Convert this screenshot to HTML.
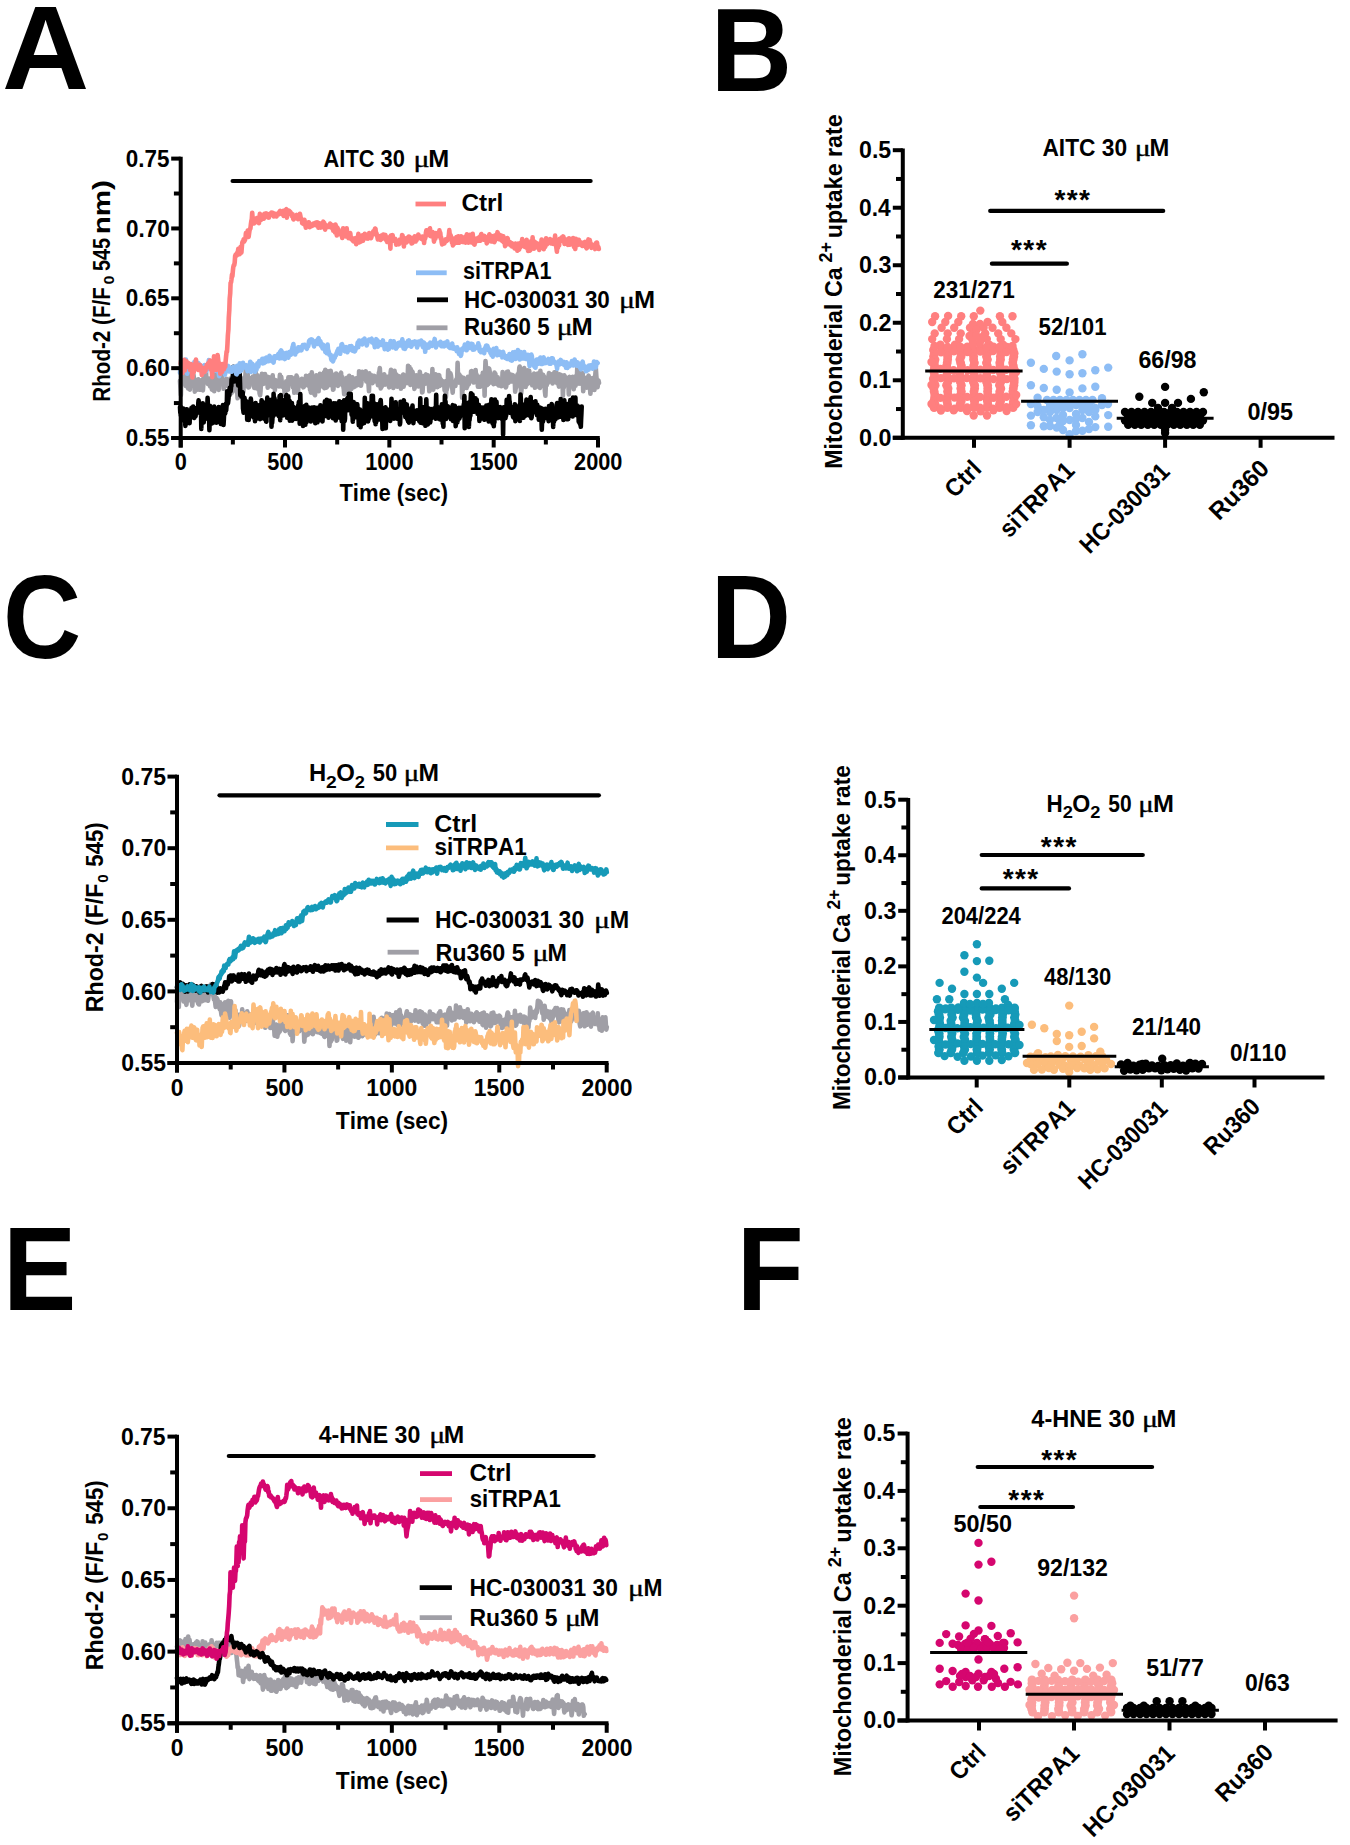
<!DOCTYPE html>
<html><head><meta charset="utf-8"><title>Mitochondrial Ca2+ uptake figure</title>
<style>html,body{margin:0;padding:0;background:#fff;overflow:hidden;} svg{display:block;} text{font-kerning:none;}</style>
</head><body>
<svg width="1350" height="1845" viewBox="0 0 1350 1845">
<rect width="1350" height="1845" fill="#fff"/>
<g font-family="Liberation Sans, sans-serif" font-weight="bold" fill="#000">
<text x="1.99" y="89" font-size="119" textLength="87.19" lengthAdjust="spacingAndGlyphs">A</text>
<text x="710.43" y="91" font-size="119" textLength="81.71" lengthAdjust="spacingAndGlyphs">B</text>
<text x="2.96" y="657.5" font-size="119" textLength="78.2" lengthAdjust="spacingAndGlyphs">C</text>
<text x="710.54" y="657.5" font-size="119" textLength="80.54" lengthAdjust="spacingAndGlyphs">D</text>
<text x="3.04" y="1309.6" font-size="119" textLength="73.35" lengthAdjust="spacingAndGlyphs">E</text>
<text x="736.67" y="1309.8" font-size="119" textLength="66.94" lengthAdjust="spacingAndGlyphs">F</text>
<polyline points="180.0,380.8 180.4,387.0 180.9,395.2 181.3,375.7 181.8,378.5 182.2,379.7 182.7,378.9 183.1,375.1 183.6,379.1 184.0,382.0 184.5,376.0 184.9,372.2 185.4,383.1 185.8,386.0 186.3,381.5 186.7,375.8 187.2,377.4 187.6,385.3 188.1,388.5 188.5,385.9 189.0,374.8 189.4,383.1 189.9,389.6 190.3,378.1 190.8,378.9 191.2,385.4 191.7,379.8 192.1,381.2 192.6,379.1 193.0,380.9 193.5,374.7 193.9,378.1 194.4,383.4 194.8,391.6 195.3,384.6 195.7,379.8 196.2,389.0 196.6,384.0 197.1,389.7 197.5,380.7 198.0,379.4 198.4,379.3 198.9,386.4 199.3,389.8 199.8,385.8 200.2,389.7 200.7,388.7 201.1,380.2 201.6,381.8 202.0,380.2 202.5,386.1 202.9,390.4 203.4,383.6 203.8,372.5 204.3,380.5 204.7,377.6 205.2,381.2 205.6,375.1 206.1,372.6 206.5,380.9 207.0,378.6 207.4,380.6 207.9,383.9 208.3,380.1 208.8,381.6 209.2,378.5 209.7,384.8 210.1,386.4 210.6,382.4 211.0,381.6 211.5,384.7 211.9,389.6 212.4,381.1 212.8,371.1 213.3,378.3 213.7,381.0 214.2,391.2 214.6,386.0 215.1,375.6 215.5,371.9 216.0,378.8 216.4,383.8 216.9,384.9 217.3,373.7 217.8,373.6 218.2,384.2 218.7,389.9 219.1,376.7 219.6,377.1 220.0,375.7 220.5,374.5 220.9,373.0 221.4,374.6 221.8,377.3 222.3,380.8 222.7,383.6 223.2,381.4 223.6,388.8 224.1,386.9 224.5,382.7 225.0,386.1 225.4,379.5 225.9,383.3 226.3,378.7 226.8,385.0 227.2,385.9 227.7,382.1 228.1,385.7 228.6,383.7 229.0,382.9 229.5,390.4 229.9,391.6 230.4,378.5 230.8,393.7 231.3,386.8 231.7,392.8 232.2,382.7 232.6,382.6 233.1,383.0 233.5,386.0 234.0,381.1 234.4,379.3 234.9,378.6 235.3,383.7 235.8,379.0 236.2,391.4 236.7,386.1 237.1,389.5 237.6,398.3 238.0,394.1 238.5,384.7 238.9,379.2 239.4,370.5 239.8,377.1 240.3,386.9 240.7,388.0 241.2,388.9 241.6,381.4 242.1,386.0 242.5,389.9 243.0,392.9 243.4,391.4 243.9,378.6 244.3,377.5 244.8,386.5 245.2,378.7 245.7,370.9 246.1,366.2 246.6,385.7 247.0,372.4 247.5,371.5 247.9,375.6 248.4,387.5 248.8,387.3 249.3,386.1 249.7,378.8 250.2,378.1 250.6,379.9 251.1,381.5 251.5,381.4 252.0,381.2 252.4,380.2 252.9,376.5 253.3,383.1 253.8,383.4 254.2,387.9 254.7,383.6 255.1,384.2 255.6,371.2 256.0,381.4 256.5,381.0 256.9,388.4 257.4,375.4 257.8,378.4 258.3,379.1 258.7,389.8 259.2,387.1 259.6,393.3 260.1,395.2 260.5,391.4 261.0,381.6 261.4,380.9 261.9,373.8 262.3,380.2 262.8,375.9 263.2,384.0 263.7,379.8 264.1,380.6 264.6,378.8 265.0,374.0 265.5,378.4 265.9,383.2 266.4,378.3 266.8,377.4 267.3,376.7 267.7,387.7 268.2,381.7 268.6,381.9 269.1,377.2 269.5,382.8 270.0,385.9 270.4,379.3 270.9,383.5 271.3,383.1 271.8,380.3 272.2,386.6 272.7,375.3 273.1,387.2 273.6,386.8 274.0,384.8 274.5,385.1 274.9,390.1 275.4,380.1 275.8,381.4 276.3,384.5 276.7,382.6 277.2,385.8 277.6,384.8 278.1,381.5 278.5,380.6 279.0,386.5 279.4,383.7 279.9,374.9 280.3,384.3 280.8,376.8 281.2,376.8 281.7,381.5 282.1,386.8 282.6,383.9 283.0,384.8 283.5,385.4 283.9,384.2 284.4,390.2 284.8,395.1 285.3,389.9 285.7,390.9 286.2,381.2 286.6,385.2 287.1,384.9 287.5,383.6 288.0,389.6 288.4,377.2 288.9,379.6 289.3,380.9 289.8,377.4 290.2,383.0 290.7,378.2 291.1,381.7 291.6,377.4 292.0,378.9 292.5,382.2 292.9,387.4 293.4,384.4 293.8,383.2 294.3,392.8 294.7,383.7 295.2,385.3 295.6,377.7 296.1,382.7 296.5,375.6 297.0,377.4 297.4,377.7 297.9,392.8 298.3,388.1 298.8,383.7 299.2,382.3 299.7,380.7 300.1,380.6 300.6,381.2 301.0,381.7 301.5,381.4 301.9,378.8 302.4,386.1 302.8,386.4 303.3,387.3 303.7,387.0 304.2,379.3 304.6,382.6 305.1,379.0 305.5,382.4 306.0,375.8 306.4,383.6 306.9,383.4 307.3,383.3 307.8,385.5 308.2,381.0 308.7,379.3 309.1,376.2 309.6,375.4 310.0,389.8 310.5,386.1 310.9,392.7 311.4,386.5 311.8,372.4 312.3,382.3 312.7,377.4 313.2,378.6 313.6,384.5 314.1,385.0 314.5,394.3 315.0,395.2 315.4,390.6 315.9,388.2 316.3,375.4 316.8,380.6 317.2,376.1 317.7,379.5 318.1,386.4 318.6,391.3 319.0,379.1 319.5,378.6 319.9,373.9 320.4,377.8 320.8,376.4 321.3,380.5 321.7,378.4 322.2,378.2 322.6,378.6 323.1,386.9 323.5,381.0 324.0,372.4 324.4,388.2 324.9,384.2 325.3,369.9 325.8,381.7 326.2,385.1 326.7,387.6 327.1,383.8 327.6,384.5 328.0,371.4 328.5,377.3 328.9,373.6 329.4,378.8 329.8,385.2 330.3,378.2 330.7,370.8 331.2,374.5 331.6,381.4 332.1,381.7 332.5,379.3 333.0,389.7 333.4,389.5 333.9,384.0 334.3,383.2 334.8,385.1 335.2,374.4 335.7,378.0 336.1,373.5 336.6,379.1 337.0,378.3 337.5,381.5 337.9,385.9 338.4,377.6 338.8,379.8 339.3,383.4 339.7,383.3 340.2,379.7 340.6,373.5 341.1,372.8 341.5,384.4 342.0,380.9 342.4,377.0 342.9,385.6 343.3,385.8 343.8,389.3 344.2,394.3 344.7,393.5 345.1,393.5 345.6,381.5 346.0,382.6 346.5,383.8 346.9,377.8 347.4,391.6 347.8,378.6 348.3,381.0 348.7,381.7 349.2,375.9 349.6,379.7 350.1,378.2 350.5,379.4 351.0,379.3 351.4,389.1 351.9,386.8 352.3,377.3 352.8,378.4 353.2,380.2 353.7,387.2 354.1,382.5 354.6,386.8 355.0,381.1 355.5,382.7 355.9,379.3 356.4,378.3 356.8,385.4 357.3,380.5 357.7,378.4 358.2,378.6 358.6,384.7 359.1,371.2 359.5,373.2 360.0,377.5 360.4,381.1 360.9,385.8 361.3,383.8 361.8,378.3 362.2,371.8 362.7,378.6 363.1,379.0 363.6,372.8 364.0,372.4 364.5,378.1 364.9,378.4 365.4,375.6 365.8,371.3 366.3,381.4 366.7,380.9 367.2,377.8 367.6,381.6 368.1,377.9 368.5,384.4 369.0,391.3 369.4,373.4 369.9,377.7 370.3,378.0 370.8,378.7 371.2,381.7 371.7,377.1 372.1,375.5 372.6,383.1 373.0,381.1 373.5,378.8 373.9,376.9 374.4,376.0 374.8,377.5 375.3,380.9 375.7,380.4 376.2,376.8 376.6,381.9 377.1,381.6 377.5,381.9 378.0,385.2 378.4,379.5 378.9,372.7 379.3,372.2 379.8,368.0 380.2,374.6 380.7,388.4 381.1,386.2 381.6,386.9 382.0,380.8 382.5,381.6 382.9,377.3 383.4,376.7 383.8,380.6 384.3,374.3 384.7,382.7 385.2,384.6 385.6,379.8 386.1,382.3 386.5,380.3 387.0,383.5 387.4,376.9 387.9,377.7 388.3,381.7 388.8,385.9 389.2,387.3 389.7,376.2 390.1,382.5 390.6,372.6 391.0,369.8 391.5,372.2 391.9,372.7 392.4,382.8 392.8,379.3 393.3,387.9 393.7,384.2 394.2,383.8 394.6,370.9 395.1,377.4 395.5,379.0 396.0,377.8 396.4,374.5 396.9,377.0 397.3,386.7 397.8,384.1 398.2,383.3 398.7,382.5 399.1,376.3 399.6,382.2 400.0,380.6 400.5,376.8 400.9,388.7 401.4,384.2 401.8,383.9 402.3,383.2 402.7,376.1 403.2,374.5 403.6,386.8 404.1,382.2 404.5,376.2 405.0,375.5 405.4,379.8 405.9,377.9 406.3,382.8 406.8,381.5 407.2,383.1 407.7,376.5 408.1,365.7 408.6,378.9 409.0,378.2 409.5,367.0 409.9,380.7 410.4,384.9 410.8,369.0 411.3,381.5 411.7,376.7 412.2,371.5 412.6,372.2 413.1,382.6 413.5,375.5 414.0,382.2 414.4,388.9 414.9,386.3 415.3,386.7 415.8,386.2 416.2,375.2 416.7,379.9 417.1,376.6 417.6,381.6 418.0,376.8 418.5,386.4 418.9,378.7 419.4,382.8 419.8,371.8 420.3,375.0 420.7,385.6 421.2,385.9 421.6,382.6 422.1,392.4 422.5,392.1 423.0,384.6 423.4,376.1 423.9,380.6 424.3,379.6 424.8,377.1 425.2,383.8 425.7,376.8 426.1,374.4 426.6,380.4 427.0,381.1 427.5,381.7 427.9,375.3 428.4,378.8 428.8,382.7 429.3,391.3 429.7,382.6 430.2,384.4 430.6,380.7 431.1,387.9 431.5,377.0 432.0,389.4 432.4,369.1 432.9,382.7 433.3,389.6 433.8,376.6 434.2,376.7 434.7,385.7 435.1,381.9 435.6,374.4 436.0,379.1 436.5,378.0 436.9,381.9 437.4,387.2 437.8,375.4 438.3,377.0 438.7,376.2 439.2,375.2 439.6,386.0 440.1,378.4 440.5,381.6 441.0,379.7 441.4,384.1 441.9,384.6 442.3,381.1 442.8,384.3 443.2,384.2 443.7,382.2 444.1,382.6 444.6,390.3 445.0,384.4 445.5,381.2 445.9,397.2 446.4,388.4 446.8,389.7 447.3,383.8 447.7,385.0 448.2,370.3 448.6,374.7 449.1,379.4 449.5,381.6 450.0,376.7 450.4,373.3 450.9,375.2 451.3,378.0 451.8,387.6 452.2,387.5 452.7,392.7 453.1,386.4 453.6,384.2 454.0,385.7 454.5,383.1 454.9,386.0 455.4,386.0 455.8,381.2 456.3,379.3 456.7,382.2 457.2,378.5 457.6,362.7 458.1,380.1 458.5,380.4 459.0,382.6 459.4,374.6 459.9,380.3 460.3,376.8 460.8,376.4 461.2,379.8 461.7,377.7 462.1,397.7 462.6,383.8 463.0,389.7 463.5,377.8 463.9,385.3 464.4,378.5 464.8,384.2 465.3,383.8 465.7,383.0 466.2,384.5 466.6,388.0 467.1,380.8 467.5,386.1 468.0,376.8 468.4,378.1 468.9,384.1 469.3,377.5 469.8,376.6 470.2,381.7 470.7,379.7 471.1,371.2 471.6,371.1 472.0,376.0 472.5,374.7 472.9,378.6 473.4,380.1 473.8,382.5 474.3,379.5 474.7,380.8 475.2,376.8 475.6,370.0 476.1,377.5 476.5,374.4 477.0,377.0 477.4,376.2 477.9,386.6 478.3,385.8 478.8,376.7 479.2,382.9 479.7,384.4 480.1,386.8 480.6,380.4 481.0,378.7 481.5,376.1 481.9,378.5 482.4,384.2 482.8,372.9 483.3,375.4 483.7,372.6 484.2,378.0 484.6,395.7 485.1,371.9 485.5,361.0 486.0,367.1 486.4,372.1 486.9,384.4 487.3,385.1 487.8,375.7 488.2,384.1 488.7,370.0 489.1,368.4 489.6,371.0 490.0,375.0 490.5,375.2 490.9,382.4 491.4,379.3 491.8,380.9 492.3,376.7 492.7,378.1 493.2,380.4 493.6,384.2 494.1,375.2 494.5,372.5 495.0,374.2 495.4,373.9 495.9,382.6 496.3,383.1 496.8,383.9 497.2,381.9 497.7,377.2 498.1,381.0 498.6,385.5 499.0,384.3 499.5,384.1 499.9,381.2 500.4,382.9 500.8,382.5 501.3,386.2 501.7,382.1 502.2,381.4 502.6,372.0 503.1,379.7 503.5,383.8 504.0,385.6 504.4,380.3 504.9,382.2 505.3,382.1 505.8,387.5 506.2,386.5 506.7,380.9 507.1,371.8 507.6,380.0 508.0,371.5 508.5,382.9 508.9,378.5 509.4,378.9 509.8,377.3 510.3,381.5 510.7,374.6 511.2,379.1 511.6,376.1 512.1,381.5 512.5,377.5 513.0,375.2 513.4,378.1 513.9,379.9 514.3,379.1 514.8,381.4 515.2,391.6 515.7,388.4 516.1,387.5 516.6,385.6 517.0,379.2 517.5,374.5 517.9,378.6 518.4,373.3 518.8,375.0 519.3,367.9 519.7,366.5 520.2,376.7 520.6,383.6 521.1,393.8 521.5,389.5 522.0,381.4 522.4,382.4 522.9,385.6 523.3,379.0 523.8,369.8 524.2,368.1 524.7,376.7 525.1,380.5 525.6,387.0 526.0,382.3 526.5,378.2 526.9,384.5 527.4,381.8 527.8,370.2 528.3,374.2 528.7,374.5 529.2,370.9 529.6,374.2 530.1,379.4 530.5,378.9 531.0,383.5 531.4,379.7 531.9,377.7 532.3,385.3 532.8,377.6 533.2,383.8 533.7,376.2 534.1,373.6 534.6,378.3 535.0,387.8 535.5,381.7 535.9,386.9 536.4,384.3 536.8,380.1 537.3,378.4 537.7,373.6 538.2,384.3 538.6,384.7 539.1,386.9 539.5,384.6 540.0,388.0 540.4,370.9 540.9,382.5 541.3,381.0 541.8,385.7 542.2,380.6 542.7,376.7 543.1,374.8 543.6,380.8 544.0,376.5 544.5,382.9 544.9,391.5 545.4,395.8 545.8,385.7 546.3,378.9 546.7,385.2 547.2,380.6 547.6,383.5 548.1,379.5 548.5,375.8 549.0,373.1 549.4,380.5 549.9,378.3 550.3,379.8 550.8,380.2 551.2,381.4 551.7,374.4 552.1,377.1 552.6,383.5 553.0,381.5 553.5,380.4 553.9,378.2 554.4,372.3 554.8,378.3 555.3,379.3 555.7,381.1 556.2,371.8 556.6,382.2 557.1,383.1 557.5,376.9 558.0,380.6 558.4,379.7 558.9,386.6 559.3,374.2 559.8,385.1 560.2,383.8 560.7,374.7 561.1,380.1 561.6,385.5 562.0,379.0 562.5,380.4 562.9,395.8 563.4,384.0 563.8,387.6 564.3,375.3 564.7,377.2 565.2,385.2 565.6,378.0 566.1,377.5 566.5,379.1 567.0,384.0 567.4,378.3 567.9,384.6 568.3,381.5 568.8,394.5 569.2,379.2 569.7,376.9 570.1,382.2 570.6,379.2 571.0,381.2 571.5,382.0 571.9,378.7 572.4,380.4 572.8,376.9 573.3,385.8 573.7,389.1 574.2,385.1 574.6,379.8 575.1,382.0 575.5,385.8 576.0,376.0 576.4,382.1 576.9,377.7 577.3,367.4 577.8,374.8 578.2,377.8 578.7,372.2 579.1,383.7 579.6,372.4 580.0,380.9 580.5,379.3 580.9,383.4 581.4,383.9 581.8,374.8 582.3,375.4 582.7,373.2 583.2,391.2 583.6,386.3 584.1,383.3 584.5,379.2 585.0,378.1 585.4,383.3 585.9,384.0 586.3,377.8 586.8,387.6 587.2,383.7 587.7,380.5 588.1,377.3 588.6,375.6 589.0,378.8 589.5,387.3 589.9,386.8 590.4,393.8 590.8,389.1 591.3,384.0 591.7,381.0 592.2,386.1 592.6,378.0 593.1,382.2 593.5,385.2 594.0,382.5 594.4,390.0 594.9,381.6 595.4,373.8 595.8,367.9 596.3,375.6 596.7,379.8 597.2,383.9 597.6,387.1 598.1,382.0 598.5,380.4 599.0,383.0" fill="none" stroke="#A09FA6" stroke-width="4.6" stroke-linejoin="round" stroke-linecap="round"/>
<polyline points="180.0,407.0 180.3,412.7 180.6,406.7 180.9,415.7 181.2,413.6 181.5,413.9 181.8,418.9 182.1,419.7 182.4,410.5 182.7,416.3 183.0,416.2 183.3,408.5 183.6,411.6 183.9,415.2 184.2,410.0 184.5,421.1 184.8,420.0 185.1,419.8 185.4,426.0 185.7,417.1 186.0,416.2 186.3,409.2 186.6,420.6 186.9,409.4 187.2,423.0 187.5,413.0 187.8,418.6 188.1,412.8 188.4,420.7 188.7,416.3 189.0,415.4 189.3,419.2 189.6,423.3 189.9,412.3 190.2,413.3 190.5,416.7 190.8,417.9 191.1,413.7 191.4,408.1 191.7,408.9 192.0,407.6 192.3,410.8 192.6,410.8 192.9,412.9 193.2,406.5 193.5,412.1 193.8,414.4 194.1,417.0 194.4,417.9 194.7,414.1 195.0,412.2 195.3,413.1 195.6,416.2 195.9,410.2 196.2,412.3 196.5,408.1 196.8,410.0 197.1,409.4 197.4,408.2 197.7,408.4 198.0,410.9 198.3,403.3 198.6,400.3 198.9,406.5 199.2,404.5 199.5,403.3 199.8,406.5 200.1,413.3 200.4,410.7 200.7,410.5 201.0,407.1 201.3,428.9 201.6,411.1 201.9,412.2 202.2,407.5 202.5,412.6 202.8,403.4 203.1,405.6 203.4,419.9 203.7,422.4 204.0,413.8 204.3,407.2 204.6,414.6 204.9,419.2 205.2,416.4 205.5,412.7 205.8,410.8 206.1,408.4 206.4,411.0 206.7,404.6 207.0,409.1 207.3,408.5 207.6,397.8 207.9,405.7 208.2,410.8 208.5,412.8 208.8,416.4 209.1,417.8 209.4,430.2 209.7,420.4 210.0,405.9 210.3,408.7 210.6,418.5 210.9,416.1 211.2,418.4 211.5,414.5 211.8,414.7 212.1,423.5 212.4,417.8 212.7,412.2 213.0,409.6 213.3,416.2 213.6,419.2 213.9,416.8 214.2,406.6 214.5,410.4 214.8,422.0 215.1,422.4 215.4,412.2 215.7,415.9 216.0,419.0 216.3,418.0 216.6,422.6 216.9,417.3 217.2,419.1 217.5,413.9 217.8,409.6 218.1,416.8 218.4,421.0 218.7,407.1 219.0,410.4 219.3,419.3 219.6,411.0 219.9,411.0 220.2,416.9 220.5,418.1 220.8,423.9 221.1,410.0 221.4,409.3 221.7,407.1 222.0,408.7 222.3,413.6 222.6,414.8 222.9,405.1 223.2,409.7 223.5,425.0 223.8,420.1 224.1,413.6 224.4,413.2 224.7,412.3 225.0,413.7 225.3,412.9 225.6,409.5 225.9,403.7 226.2,410.3 226.5,405.9 226.8,405.3 227.1,391.4 227.4,399.5 227.7,403.8 228.0,402.9 228.3,400.2 228.6,397.7 228.9,394.1 229.2,395.8 229.5,391.9 229.8,387.8 230.1,387.9 230.4,389.0 230.7,391.1 231.0,386.8 231.3,386.2 231.6,379.3 231.9,380.8 232.2,381.8 232.5,381.4 232.8,376.4 233.1,373.0 233.4,366.9 233.7,374.1 234.0,377.1 234.3,381.4 234.6,376.7 234.9,374.7 235.2,376.4 235.5,378.6 235.8,377.8 236.1,374.3 236.4,371.6 236.7,378.5 237.0,374.7 237.3,381.9 237.6,381.4 237.9,381.1 238.2,385.5 238.5,382.4 238.8,384.7 239.1,384.3 239.4,386.1 239.7,374.0 240.0,383.2 240.3,395.1 240.6,394.1 240.9,394.5 241.2,394.3 241.5,396.7 241.8,394.6 242.1,393.8 242.4,392.7 242.7,392.5 243.0,408.3 243.3,410.2 243.6,412.8 243.9,400.7 244.2,401.3 244.5,397.8 244.8,400.2 245.1,402.8 245.4,406.3 245.7,404.1 246.0,409.4 246.3,401.4 246.6,410.1 246.9,401.6 247.2,419.8 247.5,414.7 247.8,418.7 248.1,411.4 248.4,415.2 248.7,420.0 249.0,414.5 249.3,411.6 249.6,412.3 249.9,415.1 250.2,405.2 250.5,407.2 250.8,398.6 251.1,401.3 251.4,406.4 251.7,410.6 252.0,409.9 252.3,416.3 252.6,404.2 252.9,404.3 253.2,406.8 253.5,409.4 253.8,409.1 254.1,417.8 254.4,410.4 254.7,408.8 255.0,421.1 255.3,408.5 255.6,403.0 255.9,419.3 256.2,413.3 256.5,409.1 256.8,409.0 257.1,411.2 257.4,414.4 257.7,415.7 258.0,405.9 258.3,414.3 258.6,409.5 258.9,405.2 259.2,413.8 259.5,409.2 259.8,409.8 260.1,419.1 260.4,411.6 260.7,409.5 261.0,409.0 261.3,407.9 261.6,400.2 261.9,405.8 262.2,402.6 262.5,405.3 262.8,415.8 263.1,402.4 263.4,411.3 263.7,407.6 264.0,418.8 264.3,412.6 264.6,402.8 264.9,406.3 265.2,409.3 265.5,413.4 265.8,417.3 266.1,421.5 266.4,421.6 266.7,402.8 267.0,404.7 267.3,397.6 267.6,407.7 267.9,411.8 268.2,403.8 268.5,406.2 268.8,414.5 269.1,406.9 269.4,403.4 269.7,415.4 270.0,415.2 270.3,412.8 270.6,414.0 270.9,413.5 271.2,399.9 271.5,426.7 271.8,413.3 272.1,423.1 272.4,419.0 272.7,411.4 273.0,410.6 273.3,415.9 273.6,393.9 273.9,403.6 274.2,404.5 274.5,398.2 274.8,403.4 275.1,414.5 275.4,402.9 275.7,409.0 276.0,413.6 276.3,410.2 276.6,402.7 276.9,407.6 277.2,404.8 277.5,401.3 277.8,409.8 278.1,409.0 278.4,412.0 278.7,416.2 279.0,410.4 279.3,407.6 279.6,396.0 279.9,414.0 280.2,420.2 280.5,404.5 280.8,395.1 281.1,411.3 281.4,412.8 281.7,407.4 282.0,414.0 282.3,400.1 282.6,414.5 282.9,415.4 283.2,413.2 283.5,407.0 283.8,401.9 284.1,406.7 284.4,408.7 284.7,410.8 285.0,405.5 285.3,401.4 285.6,415.3 285.9,401.2 286.2,396.1 286.5,395.0 286.8,399.3 287.1,417.6 287.4,408.1 287.7,403.2 288.0,410.3 288.3,396.3 288.6,404.2 288.9,409.9 289.2,415.5 289.5,400.9 289.8,420.6 290.1,410.0 290.4,409.1 290.7,403.1 291.0,412.4 291.3,418.1 291.6,412.2 291.9,403.0 292.2,420.7 292.5,415.2 292.8,406.3 293.1,406.6 293.4,407.1 293.7,407.1 294.0,408.1 294.3,418.8 294.6,417.9 294.9,417.6 295.2,416.0 295.5,413.7 295.8,412.2 296.1,418.9 296.4,413.7 296.7,415.6 297.0,411.5 297.3,411.3 297.6,407.3 297.9,409.0 298.2,405.3 298.5,414.5 298.8,402.1 299.1,417.8 299.4,401.5 299.7,423.8 300.0,408.6 300.3,394.1 300.6,409.0 300.9,416.9 301.2,417.8 301.5,420.6 301.8,413.4 302.1,415.4 302.4,408.4 302.7,407.3 303.0,425.9 303.3,412.8 303.6,410.6 303.9,412.4 304.2,412.9 304.5,420.4 304.8,406.0 305.1,412.0 305.4,424.8 305.7,414.9 306.0,415.9 306.3,404.7 306.6,422.2 306.9,416.0 307.2,414.3 307.5,412.1 307.8,407.8 308.1,411.0 308.4,407.4 308.7,416.9 309.0,414.9 309.3,415.5 309.6,416.9 309.9,409.9 310.2,415.3 310.5,414.3 310.8,421.4 311.1,408.2 311.4,409.3 311.7,420.4 312.0,407.6 312.3,415.8 312.6,409.6 312.9,411.9 313.2,414.8 313.5,417.2 313.8,419.7 314.1,407.3 314.4,412.7 314.7,419.1 315.0,416.0 315.3,423.2 315.6,408.1 315.9,413.2 316.2,419.1 316.5,414.7 316.8,411.0 317.1,407.8 317.4,422.3 317.7,413.6 318.0,417.2 318.3,415.7 318.6,410.3 318.9,415.4 319.2,411.3 319.5,407.3 319.8,420.2 320.1,414.4 320.4,405.2 320.7,408.8 321.0,414.9 321.3,417.7 321.6,415.7 321.9,413.5 322.2,414.7 322.5,421.5 322.8,412.9 323.1,407.2 323.4,409.9 323.7,413.9 324.0,409.6 324.3,413.4 324.6,410.7 324.9,401.2 325.2,407.6 325.5,401.9 325.8,410.7 326.1,416.0 326.4,410.3 326.7,399.7 327.0,408.7 327.3,405.6 327.6,402.5 327.9,402.2 328.2,406.8 328.5,417.8 328.8,414.3 329.1,412.4 329.4,413.0 329.7,400.9 330.0,408.1 330.3,412.4 330.6,407.1 330.9,413.1 331.2,410.6 331.5,405.4 331.8,410.2 332.1,411.3 332.4,415.0 332.7,408.9 333.0,418.2 333.3,413.4 333.6,403.3 333.9,412.3 334.2,403.7 334.5,403.6 334.8,403.4 335.1,410.7 335.4,409.8 335.7,420.5 336.0,409.1 336.3,411.4 336.6,408.5 336.9,409.2 337.2,403.3 337.5,405.5 337.8,413.4 338.1,415.8 338.4,411.1 338.7,408.0 339.0,411.9 339.3,401.4 339.6,409.3 339.9,417.8 340.2,413.8 340.5,404.2 340.8,414.5 341.1,412.9 341.4,410.2 341.7,421.2 342.0,407.2 342.3,410.6 342.6,409.5 342.9,401.9 343.2,429.7 343.5,416.1 343.8,402.6 344.1,400.2 344.4,413.2 344.7,420.9 345.0,418.7 345.3,405.0 345.6,404.1 345.9,402.0 346.2,407.4 346.5,406.0 346.8,408.1 347.1,399.1 347.4,398.1 347.7,402.6 348.0,402.9 348.3,410.1 348.6,406.5 348.9,393.9 349.2,402.4 349.5,408.1 349.8,406.2 350.1,409.8 350.4,404.6 350.7,393.9 351.0,409.1 351.3,405.6 351.6,414.8 351.9,406.5 352.2,403.8 352.5,414.5 352.8,421.7 353.1,409.7 353.4,406.2 353.7,402.1 354.0,411.0 354.3,415.8 354.6,409.4 354.9,404.5 355.2,417.3 355.5,417.2 355.8,407.7 356.1,406.5 356.4,405.6 356.7,404.2 357.0,409.3 357.3,404.3 357.6,409.7 357.9,409.7 358.2,414.0 358.5,415.1 358.8,425.1 359.1,421.5 359.4,416.3 359.7,420.5 360.0,409.5 360.3,414.0 360.6,427.1 360.9,413.0 361.2,417.3 361.5,420.1 361.8,411.4 362.1,416.4 362.4,414.6 362.7,418.2 363.0,422.5 363.3,423.3 363.6,412.5 363.9,410.3 364.2,422.9 364.5,414.2 364.8,397.7 365.1,408.2 365.4,407.9 365.7,406.5 366.0,419.6 366.3,420.8 366.6,417.1 366.9,413.5 367.2,416.6 367.5,403.4 367.8,417.9 368.1,421.5 368.4,413.7 368.7,414.7 369.0,418.9 369.3,411.8 369.6,414.7 369.9,414.0 370.2,414.2 370.5,415.1 370.8,408.3 371.1,409.3 371.4,409.2 371.7,395.8 372.0,409.2 372.3,409.6 372.6,416.5 372.9,395.8 373.2,410.8 373.5,402.9 373.8,402.8 374.1,416.3 374.4,416.7 374.7,421.4 375.0,416.8 375.3,417.7 375.6,424.2 375.9,407.1 376.2,422.1 376.5,412.6 376.8,404.2 377.1,413.7 377.4,408.6 377.7,416.4 378.0,414.6 378.3,414.3 378.6,417.3 378.9,417.4 379.2,419.4 379.5,414.6 379.8,417.0 380.1,402.2 380.4,402.3 380.7,400.0 381.0,405.4 381.3,415.1 381.6,414.9 381.9,416.4 382.2,418.3 382.5,429.0 382.8,424.1 383.1,413.2 383.4,408.7 383.7,408.9 384.0,423.5 384.3,417.4 384.6,412.7 384.9,407.9 385.2,409.3 385.5,407.3 385.8,428.2 386.1,415.8 386.4,409.1 386.7,411.9 387.0,417.4 387.3,418.6 387.6,410.2 387.9,414.5 388.2,415.5 388.5,416.2 388.8,409.7 389.1,412.8 389.4,415.9 389.7,420.1 390.0,417.1 390.3,421.0 390.6,413.9 390.9,414.2 391.2,409.8 391.5,398.7 391.8,412.0 392.1,407.5 392.4,412.6 392.7,417.2 393.0,413.1 393.3,416.9 393.6,415.2 393.9,418.6 394.2,412.8 394.5,410.3 394.8,418.0 395.1,416.3 395.4,410.2 395.7,402.3 396.0,417.9 396.3,418.2 396.6,410.4 396.9,413.0 397.2,412.8 397.5,418.8 397.8,409.9 398.1,410.3 398.4,411.2 398.7,409.3 399.0,417.4 399.3,417.8 399.6,415.5 399.9,424.5 400.2,422.5 400.5,401.8 400.8,413.9 401.1,405.1 401.4,404.6 401.7,409.8 402.0,405.1 402.3,412.3 402.6,412.0 402.9,407.1 403.2,404.6 403.5,402.6 403.8,400.3 404.1,403.4 404.4,404.1 404.7,411.1 405.0,407.0 405.3,417.0 405.6,404.2 405.9,412.2 406.2,409.0 406.5,410.5 406.8,404.5 407.1,418.9 407.4,410.1 407.7,412.9 408.0,421.1 408.3,420.4 408.6,417.8 408.9,422.6 409.2,410.3 409.5,417.3 409.8,419.3 410.1,411.5 410.4,413.4 410.7,409.9 411.0,418.4 411.3,408.0 411.6,415.5 411.9,407.8 412.2,412.1 412.5,405.6 412.8,414.6 413.1,414.3 413.4,423.1 413.7,416.2 414.0,416.7 414.3,416.7 414.6,418.5 414.9,416.1 415.2,414.2 415.5,418.9 415.8,417.6 416.1,411.4 416.4,411.9 416.7,417.0 417.0,410.2 417.3,416.8 417.6,412.6 417.9,414.5 418.2,413.9 418.5,410.6 418.8,416.5 419.1,420.3 419.4,421.3 419.7,412.3 420.0,415.5 420.3,398.3 420.6,422.6 420.9,412.6 421.2,419.2 421.5,413.7 421.8,417.5 422.1,413.2 422.4,413.6 422.7,423.2 423.0,420.2 423.3,414.6 423.6,407.4 423.9,423.7 424.2,411.5 424.5,410.0 424.8,423.2 425.1,424.0 425.4,425.8 425.7,418.3 426.0,410.4 426.3,399.4 426.6,408.9 426.9,412.0 427.2,419.9 427.5,422.2 427.8,424.5 428.1,408.5 428.4,409.5 428.7,408.5 429.0,410.6 429.3,413.5 429.6,414.9 429.9,410.8 430.2,422.4 430.5,420.3 430.8,412.0 431.1,409.1 431.4,418.3 431.7,416.4 432.0,410.0 432.3,413.0 432.6,410.4 432.9,414.0 433.2,416.0 433.5,410.1 433.8,414.6 434.1,416.4 434.4,408.3 434.7,414.1 435.0,411.8 435.3,417.1 435.6,418.7 435.9,409.8 436.2,394.8 436.5,416.8 436.8,406.1 437.1,406.8 437.4,414.6 437.7,418.4 438.0,413.7 438.3,414.0 438.6,416.1 438.9,414.5 439.2,414.1 439.5,414.9 439.8,407.3 440.1,419.4 440.4,415.1 440.7,412.6 441.0,410.1 441.3,407.2 441.6,411.6 441.9,404.4 442.2,415.4 442.5,414.1 442.8,423.8 443.1,413.3 443.4,426.8 443.7,406.2 444.0,413.3 444.3,411.5 444.6,417.0 444.9,395.9 445.2,408.2 445.5,401.4 445.8,408.1 446.1,418.9 446.4,416.5 446.7,411.2 447.0,408.8 447.3,408.6 447.6,409.3 447.9,406.2 448.2,413.2 448.5,416.3 448.8,414.7 449.1,408.4 449.4,414.9 449.7,412.7 450.0,416.8 450.3,413.5 450.6,416.8 450.9,419.3 451.2,414.1 451.5,414.0 451.8,416.2 452.1,416.4 452.4,406.4 452.7,405.2 453.0,420.9 453.3,414.9 453.6,416.6 453.9,410.7 454.2,411.2 454.5,409.0 454.8,405.9 455.1,407.7 455.4,411.0 455.7,426.2 456.0,420.4 456.3,423.6 456.6,414.8 456.9,416.3 457.2,417.3 457.5,422.2 457.8,409.7 458.1,416.7 458.4,411.5 458.7,410.4 459.0,407.9 459.3,418.6 459.6,417.8 459.9,416.9 460.2,410.8 460.5,414.8 460.8,408.6 461.1,413.4 461.4,410.2 461.7,407.5 462.0,412.6 462.3,414.3 462.6,415.1 462.9,412.3 463.2,411.5 463.5,411.7 463.8,404.1 464.1,406.0 464.4,396.0 464.7,428.3 465.0,416.0 465.3,413.9 465.6,411.3 465.9,407.0 466.2,412.8 466.5,416.5 466.8,409.6 467.1,406.2 467.4,410.6 467.7,410.9 468.0,403.3 468.3,402.8 468.6,411.9 468.9,426.9 469.2,416.1 469.5,420.4 469.8,416.5 470.1,414.4 470.4,415.8 470.7,399.1 471.0,393.4 471.3,403.2 471.6,412.0 471.9,403.9 472.2,409.8 472.5,394.6 472.8,401.5 473.1,402.3 473.4,404.9 473.7,398.3 474.0,403.4 474.3,411.8 474.6,406.8 474.9,406.8 475.2,406.4 475.5,398.3 475.8,408.0 476.1,401.4 476.4,402.8 476.7,399.6 477.0,411.3 477.3,408.4 477.6,413.8 477.9,409.3 478.2,407.3 478.5,410.9 478.8,404.9 479.1,409.1 479.4,420.9 479.7,411.6 480.0,419.6 480.3,418.3 480.6,407.4 480.9,416.1 481.2,418.6 481.5,416.7 481.8,413.3 482.1,413.2 482.4,412.5 482.7,416.1 483.0,416.3 483.3,407.5 483.6,409.0 483.9,417.6 484.2,414.3 484.5,419.8 484.8,414.1 485.1,413.3 485.4,414.0 485.7,408.4 486.0,411.7 486.3,405.5 486.6,408.2 486.9,411.6 487.2,412.7 487.5,415.8 487.8,412.1 488.1,410.8 488.4,408.0 488.7,421.5 489.0,404.9 489.3,409.6 489.6,411.2 489.9,417.4 490.2,418.3 490.5,418.8 490.8,420.0 491.1,409.3 491.4,399.3 491.7,412.7 492.0,419.9 492.3,417.6 492.6,423.5 492.9,408.9 493.2,410.8 493.5,415.3 493.8,426.3 494.1,413.6 494.4,422.5 494.7,404.7 495.0,399.6 495.3,406.3 495.6,417.7 495.9,411.2 496.2,407.1 496.5,401.8 496.8,411.3 497.1,408.3 497.4,410.2 497.7,414.4 498.0,418.1 498.3,413.6 498.6,417.9 498.9,412.2 499.2,409.6 499.5,417.3 499.8,413.7 500.1,407.1 500.4,408.2 500.7,408.2 501.0,415.4 501.3,414.1 501.6,418.8 501.9,413.3 502.2,411.0 502.5,412.4 502.8,417.6 503.1,434.6 503.4,412.1 503.7,407.4 504.0,416.1 504.3,409.5 504.6,410.1 504.9,411.7 505.2,414.1 505.5,418.1 505.8,413.5 506.1,415.8 506.4,410.1 506.7,399.8 507.0,408.3 507.3,400.3 507.6,402.3 507.9,399.7 508.2,407.9 508.5,410.4 508.8,408.5 509.1,396.1 509.4,401.0 509.7,401.7 510.0,412.8 510.3,412.5 510.6,408.3 510.9,407.9 511.2,407.1 511.5,409.8 511.8,410.7 512.1,407.2 512.4,412.9 512.7,415.1 513.0,416.6 513.3,417.3 513.6,414.0 513.9,413.9 514.2,412.3 514.5,409.0 514.8,404.2 515.1,412.6 515.4,421.1 515.7,415.2 516.0,415.9 516.3,412.6 516.6,416.3 516.9,406.6 517.2,414.1 517.5,414.5 517.8,409.9 518.1,418.9 518.4,415.2 518.7,407.1 519.0,408.2 519.3,405.4 519.6,409.9 519.9,420.9 520.2,412.9 520.5,394.5 520.8,398.1 521.1,405.9 521.4,415.5 521.7,417.9 522.0,414.2 522.3,417.6 522.6,417.6 522.9,411.0 523.2,406.5 523.5,417.7 523.8,410.4 524.1,409.3 524.4,404.5 524.7,412.6 525.0,416.1 525.3,413.5 525.6,411.2 525.9,404.2 526.2,403.7 526.5,399.5 526.8,411.3 527.1,405.1 527.4,405.3 527.7,403.4 528.0,405.0 528.3,409.8 528.6,415.0 528.9,411.9 529.2,413.5 529.5,408.2 529.8,407.2 530.1,415.9 530.4,398.5 530.7,397.1 531.0,410.0 531.3,418.1 531.6,417.5 531.9,412.7 532.2,413.9 532.5,407.1 532.8,410.4 533.1,405.1 533.4,406.5 533.7,404.3 534.0,409.1 534.3,408.1 534.6,401.9 534.9,409.0 535.2,411.4 535.5,401.4 535.8,410.2 536.1,409.5 536.4,407.2 536.7,412.0 537.0,415.3 537.3,404.9 537.6,409.6 537.9,406.7 538.2,407.2 538.5,407.4 538.8,419.7 539.1,418.9 539.4,417.3 539.7,414.4 540.0,408.8 540.3,407.7 540.6,412.5 540.9,412.9 541.2,408.1 541.5,420.2 541.8,429.7 542.1,419.5 542.4,408.9 542.7,415.3 543.0,421.7 543.3,415.6 543.6,416.0 543.9,412.9 544.2,417.2 544.5,409.1 544.8,417.6 545.1,417.3 545.4,408.8 545.7,410.9 546.0,414.0 546.3,414.4 546.6,418.2 546.9,410.3 547.2,416.7 547.5,416.5 547.8,418.1 548.1,409.7 548.4,416.4 548.7,421.3 549.0,406.1 549.3,413.8 549.6,416.0 549.9,411.0 550.2,413.7 550.5,411.2 550.8,409.4 551.1,417.1 551.4,415.0 551.7,404.0 552.0,405.1 552.3,415.2 552.6,410.2 552.9,412.4 553.2,426.9 553.5,408.8 553.8,421.9 554.1,421.3 554.4,418.0 554.7,415.2 555.0,413.8 555.3,413.1 555.6,419.1 555.9,409.9 556.2,412.2 556.5,410.2 556.8,404.2 557.1,403.0 557.4,405.0 557.7,406.0 558.0,411.9 558.3,417.4 558.6,410.9 558.9,412.7 559.2,406.2 559.5,416.4 559.8,407.2 560.1,414.0 560.4,407.3 560.7,399.0 561.0,409.3 561.3,408.8 561.6,416.8 561.9,414.6 562.2,412.6 562.5,415.0 562.8,411.0 563.1,409.1 563.4,420.0 563.7,417.2 564.0,408.0 564.3,400.2 564.6,407.1 564.9,406.1 565.2,407.3 565.5,417.6 565.8,413.1 566.1,409.0 566.4,409.0 566.7,419.2 567.0,416.9 567.3,404.1 567.6,409.4 567.9,412.6 568.2,419.1 568.5,411.9 568.8,415.4 569.1,414.4 569.4,412.3 569.7,412.3 570.0,409.3 570.3,400.0 570.6,411.5 570.9,409.2 571.2,404.2 571.5,412.6 571.8,412.6 572.1,416.0 572.4,409.7 572.7,416.4 573.0,397.6 573.3,408.6 573.6,406.6 573.9,408.9 574.2,408.6 574.5,412.6 574.8,408.3 575.1,407.7 575.4,397.5 575.7,412.8 576.0,414.6 576.3,413.5 576.6,415.1 576.9,405.2 577.2,411.4 577.5,410.0 577.8,413.5 578.1,415.9 578.4,406.5 578.7,421.7 579.0,413.7 579.3,413.9 579.6,414.9 579.9,423.9 580.2,415.4 580.5,420.1 580.8,426.8 581.1,419.3 581.4,413.3 581.7,406.5" fill="none" stroke="#000" stroke-width="4.6" stroke-linejoin="round" stroke-linecap="round"/>
<polyline points="180.0,372.7 180.4,369.3 180.9,371.0 181.3,370.8 181.8,372.4 182.2,367.4 182.7,365.2 183.1,368.4 183.6,370.3 184.0,371.5 184.5,368.7 184.9,365.6 185.4,365.8 185.8,359.5 186.3,366.8 186.7,368.1 187.2,373.7 187.6,370.1 188.1,368.6 188.5,366.6 189.0,368.4 189.4,366.1 189.9,368.4 190.3,371.1 190.8,368.3 191.2,368.6 191.7,365.9 192.1,369.3 192.6,369.3 193.0,367.6 193.5,365.2 193.9,363.4 194.4,361.9 194.8,368.8 195.3,368.0 195.7,365.1 196.2,362.1 196.6,364.5 197.1,364.9 197.5,365.0 198.0,365.2 198.4,363.0 198.9,368.1 199.3,367.4 199.8,365.6 200.2,366.2 200.7,367.4 201.1,366.5 201.6,366.0 202.0,370.7 202.5,368.9 202.9,369.8 203.4,367.2 203.8,370.1 204.3,368.5 204.7,365.0 205.2,367.0 205.6,365.5 206.1,365.6 206.5,371.0 207.0,367.7 207.4,367.3 207.9,368.8 208.3,366.2 208.8,360.1 209.2,365.5 209.7,366.8 210.1,366.4 210.6,363.7 211.0,362.5 211.5,364.8 211.9,365.3 212.4,365.6 212.8,366.0 213.3,363.7 213.7,365.7 214.2,370.1 214.6,370.5 215.1,367.8 215.5,366.8 216.0,369.5 216.4,366.6 216.9,371.1 217.3,370.5 217.8,367.2 218.2,370.5 218.7,370.5 219.1,376.2 219.6,374.4 220.0,370.4 220.5,371.4 220.9,369.7 221.4,365.2 221.8,370.3 222.3,368.7 222.7,368.4 223.2,368.5 223.6,366.4 224.1,370.6 224.5,371.0 225.0,374.6 225.4,372.6 225.9,367.4 226.3,367.4 226.8,369.0 227.2,366.2 227.7,366.4 228.1,365.8 228.6,370.7 229.0,371.2 229.5,370.2 229.9,371.3 230.4,371.4 230.8,367.9 231.3,369.2 231.7,371.7 232.2,369.8 232.6,370.6 233.1,370.6 233.5,366.7 234.0,367.9 234.4,367.8 234.9,367.1 235.3,367.6 235.8,369.8 236.2,374.1 236.7,374.4 237.1,365.8 237.6,368.7 238.0,366.6 238.5,368.0 238.9,368.7 239.4,371.9 239.8,363.2 240.3,368.4 240.7,369.6 241.2,370.6 241.6,368.1 242.1,367.1 242.5,368.7 243.0,362.9 243.4,366.9 243.9,364.7 244.3,364.7 244.8,366.9 245.2,367.2 245.7,366.2 246.1,365.2 246.6,367.8 247.0,367.5 247.5,371.1 247.9,368.4 248.4,369.3 248.8,366.9 249.3,367.7 249.7,365.6 250.2,361.8 250.6,362.4 251.1,371.9 251.5,366.1 252.0,365.0 252.4,364.0 252.9,367.1 253.3,364.9 253.8,366.6 254.2,369.2 254.7,369.9 255.1,371.7 255.6,369.4 256.0,367.9 256.5,369.6 256.9,366.6 257.4,363.3 257.8,366.0 258.3,366.5 258.7,364.6 259.2,361.1 259.6,362.6 260.1,361.7 260.5,362.6 261.0,361.1 261.4,361.8 261.9,361.8 262.3,358.9 262.8,363.4 263.2,362.5 263.7,362.9 264.1,363.0 264.6,362.4 265.0,358.3 265.5,362.1 265.9,360.0 266.4,357.6 266.8,358.6 267.3,357.8 267.7,357.8 268.2,361.3 268.6,360.9 269.1,359.7 269.5,355.7 270.0,357.1 270.4,357.1 270.9,358.2 271.3,359.4 271.8,361.1 272.2,358.4 272.7,359.6 273.1,360.6 273.6,362.6 274.0,359.1 274.5,356.2 274.9,357.9 275.4,357.0 275.8,357.9 276.3,356.2 276.7,357.8 277.2,357.3 277.6,357.5 278.1,355.9 278.5,353.8 279.0,354.8 279.4,358.5 279.9,353.3 280.3,351.4 280.8,351.2 281.2,350.5 281.7,356.9 282.1,358.1 282.6,353.7 283.0,352.7 283.5,355.3 283.9,355.2 284.4,358.2 284.8,359.0 285.3,356.1 285.7,354.8 286.2,354.9 286.6,352.9 287.1,354.2 287.5,354.3 288.0,354.8 288.4,357.6 288.9,354.2 289.3,352.0 289.8,354.4 290.2,352.0 290.7,354.3 291.1,354.5 291.6,350.4 292.0,350.8 292.5,347.2 292.9,345.9 293.4,344.0 293.8,349.2 294.3,351.0 294.7,351.0 295.2,354.5 295.6,349.6 296.1,351.5 296.5,352.2 297.0,351.8 297.4,348.6 297.9,350.4 298.3,347.3 298.8,348.2 299.2,349.2 299.7,350.3 300.1,349.2 300.6,347.4 301.0,348.1 301.5,350.3 301.9,347.3 302.4,347.1 302.8,345.1 303.3,346.2 303.7,346.1 304.2,346.4 304.6,344.8 305.1,347.2 305.5,346.4 306.0,347.6 306.4,347.4 306.9,348.8 307.3,346.9 307.8,345.3 308.2,346.2 308.7,343.7 309.1,341.0 309.6,340.4 310.0,339.9 310.5,341.9 310.9,341.6 311.4,339.4 311.8,340.3 312.3,340.0 312.7,341.7 313.2,342.6 313.6,344.4 314.1,346.4 314.5,343.2 315.0,342.3 315.4,341.4 315.9,341.4 316.3,340.8 316.8,341.4 317.2,341.1 317.7,343.9 318.1,338.9 318.6,338.3 319.0,342.8 319.5,341.4 319.9,341.8 320.4,341.2 320.8,345.6 321.3,343.3 321.7,346.6 322.2,345.6 322.6,348.5 323.1,344.7 323.5,346.4 324.0,348.8 324.4,347.7 324.9,349.5 325.3,351.9 325.8,350.2 326.2,352.5 326.7,353.3 327.1,353.3 327.6,344.5 328.0,349.4 328.5,351.0 328.9,352.4 329.4,354.8 329.8,354.9 330.3,354.6 330.7,355.0 331.2,359.1 331.6,360.0 332.1,360.4 332.5,358.7 333.0,361.4 333.4,360.1 333.9,358.6 334.3,356.9 334.8,357.7 335.2,355.2 335.7,355.7 336.1,355.0 336.6,353.1 337.0,352.5 337.5,350.6 337.9,352.4 338.4,348.7 338.8,350.6 339.3,350.2 339.7,353.4 340.2,353.7 340.6,348.4 341.1,350.4 341.5,344.5 342.0,344.2 342.4,345.3 342.9,346.9 343.3,349.2 343.8,348.9 344.2,350.7 344.7,351.2 345.1,349.6 345.6,347.6 346.0,347.2 346.5,349.9 346.9,350.7 347.4,352.2 347.8,350.7 348.3,350.6 348.7,349.9 349.2,349.1 349.6,346.4 350.1,348.6 350.5,347.7 351.0,348.0 351.4,346.0 351.9,347.0 352.3,350.6 352.8,349.5 353.2,351.0 353.7,350.2 354.1,348.3 354.6,351.4 355.0,351.0 355.5,349.7 355.9,348.3 356.4,347.4 356.8,347.2 357.3,345.5 357.7,342.5 358.2,347.2 358.6,343.7 359.1,340.6 359.5,341.3 360.0,340.9 360.4,343.7 360.9,343.1 361.3,343.9 361.8,343.5 362.2,344.4 362.7,342.5 363.1,339.9 363.6,342.7 364.0,339.2 364.5,338.6 364.9,341.2 365.4,340.8 365.8,342.5 366.3,341.5 366.7,345.5 367.2,344.1 367.6,340.7 368.1,341.6 368.5,340.9 369.0,339.5 369.4,341.0 369.9,340.7 370.3,340.3 370.8,339.5 371.2,339.3 371.7,338.8 372.1,342.5 372.6,341.1 373.0,340.7 373.5,343.0 373.9,343.9 374.4,344.3 374.8,347.3 375.3,345.2 375.7,341.4 376.2,339.2 376.6,340.6 377.1,340.8 377.5,340.4 378.0,346.6 378.4,344.5 378.9,345.6 379.3,343.8 379.8,344.8 380.2,342.2 380.7,343.6 381.1,343.0 381.6,344.9 382.0,342.9 382.5,342.6 382.9,340.4 383.4,343.6 383.8,343.6 384.3,346.1 384.7,349.1 385.2,344.5 385.6,347.4 386.1,346.4 386.5,344.1 387.0,347.7 387.4,348.2 387.9,349.5 388.3,349.2 388.8,349.1 389.2,344.0 389.7,343.5 390.1,344.7 390.6,341.0 391.0,342.9 391.5,344.2 391.9,344.1 392.4,345.0 392.8,347.4 393.3,344.0 393.7,341.2 394.2,343.9 394.6,345.7 395.1,344.4 395.5,345.4 396.0,348.6 396.4,346.9 396.9,347.2 397.3,343.8 397.8,345.1 398.2,343.0 398.7,343.2 399.1,345.5 399.6,342.6 400.0,343.3 400.5,344.6 400.9,345.4 401.4,344.8 401.8,344.2 402.3,339.4 402.7,342.5 403.2,344.0 403.6,348.5 404.1,342.6 404.5,344.5 405.0,348.9 405.4,343.3 405.9,344.8 406.3,346.8 406.8,343.6 407.2,345.2 407.7,345.8 408.1,340.7 408.6,341.1 409.0,340.5 409.5,344.5 409.9,342.0 410.4,344.6 410.8,346.2 411.3,346.6 411.7,344.8 412.2,342.7 412.6,342.2 413.1,344.4 413.5,343.1 414.0,343.6 414.4,343.8 414.9,341.4 415.3,344.2 415.8,341.8 416.2,344.5 416.7,342.0 417.1,347.5 417.6,342.1 418.0,342.2 418.5,341.8 418.9,344.7 419.4,343.8 419.8,344.0 420.3,342.5 420.7,342.7 421.2,340.5 421.6,342.8 422.1,344.6 422.5,345.4 423.0,347.2 423.4,345.8 423.9,342.5 424.3,343.3 424.8,344.6 425.2,351.8 425.7,345.4 426.1,346.3 426.6,347.1 427.0,347.0 427.5,344.7 427.9,347.6 428.4,346.4 428.8,347.5 429.3,346.2 429.7,344.2 430.2,342.7 430.6,344.3 431.1,344.7 431.5,344.8 432.0,345.9 432.4,344.9 432.9,342.7 433.3,342.7 433.8,341.6 434.2,342.0 434.7,338.9 435.1,342.7 435.6,344.4 436.0,347.5 436.5,343.9 436.9,344.3 437.4,343.9 437.8,344.2 438.3,343.4 438.7,344.1 439.2,342.9 439.6,344.7 440.1,344.6 440.5,341.8 441.0,342.9 441.4,346.1 441.9,345.6 442.3,343.5 442.8,344.5 443.2,346.1 443.7,345.9 444.1,346.3 444.6,342.8 445.0,343.7 445.5,343.5 445.9,344.2 446.4,343.6 446.8,342.5 447.3,341.3 447.7,345.1 448.2,346.4 448.6,346.9 449.1,345.0 449.5,346.4 450.0,348.0 450.4,346.3 450.9,344.6 451.3,345.7 451.8,345.4 452.2,343.6 452.7,348.5 453.1,347.0 453.6,347.5 454.0,348.6 454.5,348.2 454.9,347.7 455.4,348.5 455.8,348.8 456.3,349.7 456.7,351.2 457.2,347.4 457.6,349.2 458.1,350.0 458.5,349.4 459.0,354.0 459.4,353.8 459.9,352.1 460.3,354.1 460.8,355.8 461.2,354.7 461.7,350.7 462.1,348.9 462.6,349.2 463.0,349.8 463.5,347.7 463.9,349.1 464.4,347.6 464.8,344.6 465.3,348.9 465.7,348.2 466.2,347.9 466.6,350.3 467.1,347.2 467.5,346.0 468.0,342.9 468.4,347.6 468.9,345.8 469.3,346.9 469.8,347.9 470.2,345.2 470.7,346.4 471.1,343.8 471.6,345.0 472.0,345.2 472.5,344.1 472.9,349.8 473.4,348.0 473.8,349.3 474.3,349.4 474.7,347.4 475.2,348.0 475.6,347.0 476.1,347.3 476.5,346.6 477.0,347.7 477.4,346.0 477.9,348.2 478.3,343.3 478.8,346.2 479.2,346.0 479.7,351.1 480.1,350.9 480.6,351.0 481.0,352.1 481.5,350.3 481.9,351.1 482.4,350.7 482.8,350.3 483.3,349.9 483.7,351.1 484.2,353.2 484.6,349.5 485.1,347.9 485.5,349.1 486.0,345.9 486.4,345.5 486.9,345.5 487.3,345.8 487.8,347.4 488.2,349.8 488.7,350.3 489.1,349.1 489.6,350.0 490.0,351.3 490.5,353.0 490.9,352.8 491.4,355.0 491.8,353.6 492.3,352.5 492.7,356.6 493.2,352.5 493.6,348.9 494.1,353.1 494.5,352.8 495.0,353.3 495.4,350.6 495.9,349.5 496.3,348.0 496.8,353.2 497.2,355.2 497.7,352.9 498.1,352.9 498.6,354.4 499.0,354.6 499.5,351.5 499.9,354.6 500.4,354.4 500.8,353.1 501.3,355.5 501.7,354.7 502.2,357.3 502.6,352.2 503.1,352.0 503.5,354.0 504.0,354.8 504.4,355.7 504.9,356.2 505.3,357.9 505.8,357.8 506.2,357.9 506.7,356.3 507.1,358.9 507.6,357.1 508.0,358.9 508.5,359.0 508.9,356.5 509.4,354.1 509.8,355.2 510.3,358.6 510.7,360.2 511.2,359.3 511.6,359.7 512.1,360.6 512.5,355.5 513.0,352.4 513.4,356.1 513.9,357.4 514.3,357.8 514.8,352.1 515.2,355.8 515.7,359.0 516.1,356.5 516.6,355.2 517.0,354.5 517.5,356.3 517.9,350.1 518.4,352.0 518.8,354.6 519.3,356.8 519.7,359.5 520.2,354.3 520.6,352.0 521.1,353.8 521.5,354.3 522.0,354.4 522.4,358.4 522.9,358.5 523.3,356.8 523.8,354.2 524.2,352.1 524.7,355.2 525.1,358.7 525.6,358.2 526.0,358.9 526.5,357.9 526.9,358.8 527.4,358.0 527.8,354.7 528.3,358.9 528.7,358.9 529.2,361.5 529.6,366.1 530.1,359.7 530.5,358.5 531.0,358.6 531.4,354.6 531.9,356.3 532.3,362.7 532.8,360.1 533.2,361.7 533.7,363.9 534.1,366.1 534.6,366.9 535.0,366.6 535.5,367.7 535.9,361.6 536.4,362.8 536.8,359.6 537.3,361.6 537.7,362.2 538.2,363.8 538.6,359.6 539.1,359.0 539.5,359.9 540.0,360.9 540.4,357.5 540.9,362.7 541.3,363.9 541.8,360.7 542.2,363.9 542.7,360.1 543.1,358.0 543.6,357.5 544.0,363.3 544.5,362.1 544.9,363.1 545.4,361.9 545.8,363.0 546.3,360.1 546.7,360.3 547.2,361.3 547.6,360.8 548.1,359.9 548.5,359.0 549.0,360.7 549.4,363.6 549.9,361.0 550.3,361.7 550.8,363.7 551.2,362.1 551.7,358.3 552.1,359.5 552.6,358.3 553.0,359.6 553.5,361.4 553.9,361.4 554.4,361.8 554.8,363.2 555.3,363.3 555.7,363.4 556.2,364.0 556.6,365.8 557.1,368.7 557.5,364.8 558.0,362.9 558.4,361.6 558.9,363.4 559.3,363.6 559.8,364.4 560.2,362.9 560.7,359.9 561.1,361.4 561.6,363.2 562.0,363.1 562.5,362.9 562.9,364.0 563.4,362.9 563.8,361.9 564.3,365.1 564.7,363.1 565.2,363.6 565.6,364.9 566.1,367.8 566.5,362.4 567.0,364.7 567.4,368.0 567.9,365.7 568.3,364.0 568.8,364.6 569.2,363.8 569.7,366.2 570.1,364.7 570.6,365.3 571.0,364.7 571.5,364.9 571.9,361.0 572.4,362.9 572.8,361.6 573.3,363.1 573.7,365.5 574.2,363.7 574.6,359.6 575.1,361.6 575.5,363.0 576.0,363.8 576.4,364.3 576.9,365.7 577.3,362.2 577.8,362.6 578.2,365.6 578.7,365.5 579.1,365.5 579.6,364.1 580.0,367.7 580.5,364.3 580.9,369.4 581.4,368.2 581.8,365.3 582.3,362.4 582.7,361.7 583.2,365.4 583.6,366.8 584.1,367.4 584.5,366.1 585.0,366.8 585.4,369.7 585.9,371.2 586.3,369.5 586.8,370.9 587.2,366.7 587.7,367.8 588.1,369.7 588.6,369.7 589.0,365.6 589.5,365.7 589.9,366.3 590.4,367.1 590.8,365.3 591.3,367.2 591.7,366.9 592.2,365.8 592.6,368.6 593.1,366.6 593.5,365.8 594.0,361.5 594.4,365.2 594.9,365.8 595.4,366.4 595.8,367.3 596.3,364.9 596.7,362.1 597.2,362.8 597.6,363.1" fill="none" stroke="#8DBDF5" stroke-width="4.6" stroke-linejoin="round" stroke-linecap="round"/>
<polyline points="180.7,363.8 181.1,360.5 181.6,363.8 182.0,370.0 182.5,373.0 182.9,366.9 183.4,361.0 183.8,362.8 184.3,359.7 184.7,370.4 185.2,366.3 185.6,367.6 186.1,366.1 186.5,361.2 187.0,365.1 187.4,363.8 187.9,365.0 188.3,363.1 188.8,363.8 189.2,367.1 189.7,366.7 190.1,369.9 190.6,366.7 191.0,364.0 191.5,365.2 191.9,372.0 192.4,377.5 192.8,372.6 193.3,370.7 193.7,372.5 194.2,368.8 194.6,367.6 195.1,365.3 195.5,363.2 196.0,359.6 196.4,365.8 196.9,367.7 197.3,364.4 197.8,366.3 198.2,369.9 198.7,370.0 199.1,366.5 199.6,365.8 200.0,364.8 200.5,366.2 200.9,367.8 201.4,369.5 201.8,375.0 202.3,372.6 202.7,371.7 203.2,368.0 203.6,368.9 204.1,369.3 204.5,371.9 205.0,370.0 205.4,371.0 205.9,367.6 206.3,366.9 206.8,364.7 207.2,364.7 207.7,364.0 208.1,363.3 208.6,364.3 209.0,364.2 209.5,362.0 209.9,360.5 210.4,368.6 210.8,369.6 211.3,370.2 211.7,370.3 212.2,377.1 212.6,364.5 213.1,361.9 213.5,365.6 214.0,356.3 214.4,359.0 214.9,363.0 215.3,366.1 215.8,367.6 216.2,369.9 216.7,366.0 217.1,363.1 217.6,355.0 218.0,358.1 218.5,362.4 218.9,364.1 219.4,363.3 219.8,367.2 220.3,373.8 220.7,366.9 221.2,366.9 221.6,369.8 222.1,371.8 222.5,364.1 223.0,365.2 223.4,365.8 223.9,369.3 224.3,364.2 224.8,365.4 225.2,366.7 225.7,360.5 226.1,356.3 226.6,351.4 227.0,351.7 227.5,343.3 227.9,334.9 228.4,329.6 228.8,317.4 229.3,310.1 229.7,298.4 230.2,293.6 230.6,283.0 231.1,282.2 231.5,279.3 232.0,274.5 232.4,276.4 232.9,270.6 233.3,267.0 233.8,265.1 234.2,265.3 234.7,262.5 235.1,256.3 235.6,254.7 236.0,255.6 236.5,254.5 236.9,255.4 237.4,252.2 237.8,252.2 238.3,248.8 238.7,251.1 239.2,250.1 239.6,254.1 240.1,250.7 240.5,247.0 241.0,247.2 241.4,252.6 241.9,246.0 242.3,242.7 242.8,241.4 243.2,242.2 243.7,239.2 244.1,241.6 244.6,240.3 245.0,240.1 245.5,237.9 245.9,233.1 246.4,234.5 246.8,232.8 247.3,233.6 247.7,230.6 248.2,233.3 248.6,236.9 249.1,233.5 249.5,230.7 250.0,228.8 250.4,228.5 250.9,224.1 251.3,221.3 251.8,218.9 252.2,212.7 252.7,219.2 253.1,221.4 253.6,220.0 254.0,223.4 254.5,221.2 254.9,222.5 255.4,222.4 255.8,219.6 256.3,219.1 256.7,218.0 257.2,218.7 257.6,218.7 258.1,219.9 258.5,218.0 259.0,223.2 259.4,217.7 259.9,213.9 260.3,215.1 260.8,216.7 261.2,219.7 261.7,219.0 262.1,217.0 262.6,217.5 263.0,215.2 263.5,215.8 263.9,218.6 264.4,213.8 264.8,214.9 265.3,216.4 265.7,214.8 266.2,213.4 266.6,214.0 267.1,214.8 267.5,216.4 268.0,217.3 268.4,215.9 268.9,217.6 269.3,215.0 269.8,213.8 270.2,215.3 270.7,215.0 271.1,213.9 271.6,212.7 272.0,214.3 272.5,213.3 272.9,212.9 273.4,213.3 273.8,216.4 274.3,214.5 274.7,215.1 275.2,214.4 275.6,213.9 276.1,215.6 276.5,216.4 277.0,214.2 277.4,215.0 277.9,214.4 278.3,214.5 278.8,212.9 279.2,212.5 279.7,211.4 280.1,211.0 280.6,211.8 281.0,212.8 281.5,212.6 281.9,214.1 282.4,212.3 282.8,212.4 283.3,210.8 283.7,216.0 284.2,212.4 284.6,211.2 285.1,210.5 285.5,210.7 286.0,209.7 286.4,209.2 286.9,217.6 287.3,212.2 287.8,212.9 288.2,213.3 288.7,212.8 289.1,210.7 289.6,212.1 290.0,211.6 290.5,212.2 290.9,214.0 291.4,213.5 291.8,215.9 292.3,214.4 292.7,214.4 293.2,218.8 293.6,219.4 294.1,215.5 294.5,215.9 295.0,217.9 295.4,218.0 295.9,216.4 296.3,217.5 296.8,214.9 297.2,215.9 297.7,218.8 298.1,219.1 298.6,218.3 299.0,217.3 299.5,216.5 299.9,213.8 300.4,216.1 300.8,218.2 301.3,219.1 301.7,219.3 302.2,223.3 302.6,223.4 303.1,222.2 303.5,222.1 304.0,224.3 304.4,219.7 304.9,223.0 305.3,224.2 305.8,227.8 306.2,223.6 306.7,223.8 307.1,226.0 307.6,223.3 308.0,222.8 308.5,225.0 308.9,222.2 309.4,223.6 309.8,227.2 310.3,224.3 310.7,226.4 311.2,225.1 311.6,226.2 312.1,224.3 312.5,225.6 313.0,225.2 313.4,223.7 313.9,223.8 314.3,223.7 314.8,223.4 315.2,223.0 315.7,225.1 316.1,223.3 316.6,225.0 317.0,222.3 317.5,222.5 317.9,223.4 318.4,227.7 318.8,224.5 319.3,226.6 319.7,223.3 320.2,225.2 320.6,227.6 321.1,226.0 321.5,227.4 322.0,225.4 322.4,226.1 322.9,223.6 323.3,221.7 323.8,223.4 324.2,223.0 324.7,225.8 325.1,229.6 325.6,227.9 326.0,226.0 326.5,225.7 326.9,226.7 327.4,226.2 327.8,226.2 328.3,226.9 328.7,225.3 329.2,225.8 329.6,226.3 330.1,223.6 330.5,226.2 331.0,227.4 331.4,225.9 331.9,224.9 332.3,227.0 332.8,228.5 333.2,230.6 333.7,229.1 334.1,229.8 334.6,229.7 335.0,232.5 335.5,224.6 335.9,226.4 336.4,229.7 336.8,235.5 337.3,227.5 337.7,228.9 338.2,229.2 338.6,230.9 339.1,231.3 339.5,232.6 340.0,234.1 340.4,232.1 340.9,234.5 341.3,235.1 341.8,235.4 342.2,237.9 342.7,233.1 343.1,228.4 343.6,234.0 344.0,235.0 344.5,229.2 344.9,233.6 345.4,233.0 345.8,236.4 346.3,233.7 346.7,228.2 347.2,233.6 347.6,235.3 348.1,236.2 348.5,238.1 349.0,237.1 349.4,236.4 349.9,236.2 350.3,233.1 350.8,238.5 351.2,239.2 351.7,237.8 352.1,239.2 352.6,240.2 353.0,240.9 353.5,239.2 353.9,241.5 354.4,238.6 354.8,238.5 355.3,238.2 355.7,239.6 356.2,244.3 356.6,242.1 357.1,240.6 357.5,239.8 358.0,237.4 358.4,233.7 358.9,242.5 359.3,241.1 359.8,238.9 360.2,237.7 360.7,241.7 361.1,241.4 361.6,239.2 362.0,237.4 362.5,235.4 362.9,240.8 363.4,239.0 363.8,237.5 364.3,237.5 364.7,233.9 365.2,236.3 365.6,236.8 366.1,236.3 366.5,238.4 367.0,234.8 367.4,238.1 367.9,238.5 368.3,237.6 368.8,236.2 369.2,233.0 369.7,234.5 370.1,236.5 370.6,237.3 371.0,238.2 371.5,236.8 371.9,234.3 372.4,233.4 372.8,233.5 373.3,231.3 373.7,232.7 374.2,231.7 374.6,230.1 375.1,228.5 375.5,228.8 376.0,234.8 376.4,233.0 376.9,235.0 377.3,236.6 377.8,239.4 378.2,238.2 378.7,237.2 379.1,237.2 379.6,236.5 380.0,236.9 380.5,240.0 380.9,239.4 381.4,235.5 381.8,237.8 382.3,238.7 382.7,236.8 383.2,234.5 383.6,235.1 384.1,236.1 384.5,235.2 385.0,234.9 385.4,235.0 385.9,236.9 386.3,240.5 386.8,240.1 387.2,242.0 387.7,237.8 388.1,241.7 388.6,241.1 389.0,238.3 389.5,237.3 389.9,240.3 390.4,248.7 390.8,235.5 391.3,235.4 391.7,237.7 392.2,237.0 392.6,235.2 393.1,237.9 393.5,238.7 394.0,238.6 394.4,240.9 394.9,239.7 395.3,238.8 395.8,241.9 396.2,244.7 396.7,243.4 397.1,241.8 397.6,240.9 398.0,244.2 398.5,243.8 398.9,244.2 399.4,243.1 399.8,239.6 400.3,239.9 400.7,241.0 401.2,241.8 401.6,240.1 402.1,235.0 402.5,235.3 403.0,238.2 403.4,242.1 403.9,246.5 404.3,241.6 404.8,242.9 405.2,238.9 405.7,238.5 406.1,240.1 406.6,242.4 407.0,241.9 407.5,239.1 407.9,237.4 408.4,240.2 408.8,236.6 409.3,236.7 409.7,238.6 410.2,238.6 410.6,237.6 411.1,241.2 411.5,243.4 412.0,242.2 412.4,243.1 412.9,240.0 413.3,238.8 413.8,238.0 414.2,237.1 414.7,236.3 415.1,241.4 415.6,241.5 416.0,239.4 416.5,240.4 416.9,238.9 417.4,237.7 417.8,237.2 418.3,234.5 418.7,235.4 419.2,237.9 419.6,236.4 420.1,237.4 420.5,237.4 421.0,238.6 421.4,237.4 421.9,238.7 422.3,236.5 422.8,238.3 423.2,240.1 423.7,238.1 424.1,243.0 424.6,237.1 425.0,238.7 425.5,237.1 425.9,232.7 426.4,230.3 426.8,232.0 427.3,234.5 427.7,234.6 428.2,230.9 428.6,234.3 429.1,233.5 429.5,229.9 430.0,228.3 430.4,236.1 430.9,236.2 431.3,235.3 431.8,233.7 432.2,232.4 432.7,232.1 433.1,236.1 433.6,237.4 434.0,241.6 434.5,233.8 434.9,236.4 435.4,238.7 435.8,233.0 436.3,236.0 436.7,236.5 437.2,233.1 437.6,233.1 438.1,235.8 438.5,234.0 439.0,233.8 439.4,230.4 439.9,233.4 440.3,232.9 440.8,238.8 441.2,237.5 441.7,242.4 442.1,244.4 442.6,243.3 443.0,242.9 443.5,243.8 443.9,243.1 444.4,243.2 444.8,240.4 445.3,241.6 445.7,239.4 446.2,241.2 446.6,241.1 447.1,240.0 447.5,240.1 448.0,238.5 448.4,237.4 448.9,234.7 449.3,230.1 449.8,235.3 450.2,239.0 450.7,235.4 451.1,237.5 451.6,237.7 452.0,242.8 452.5,242.5 452.9,245.4 453.4,244.3 453.8,244.2 454.3,241.3 454.7,242.0 455.2,238.4 455.6,239.5 456.1,242.7 456.5,237.0 457.0,238.3 457.4,242.8 457.9,238.9 458.3,236.2 458.8,239.8 459.2,242.7 459.7,242.4 460.1,239.2 460.6,240.1 461.0,236.3 461.5,241.8 461.9,237.9 462.4,242.0 462.8,240.7 463.3,239.3 463.7,239.4 464.2,242.1 464.6,240.7 465.1,236.7 465.5,242.6 466.0,241.0 466.4,237.7 466.9,234.2 467.3,237.6 467.8,237.0 468.2,242.6 468.7,238.7 469.1,241.1 469.6,237.7 470.0,234.8 470.5,236.0 470.9,238.3 471.4,242.4 471.8,239.4 472.3,240.0 472.7,233.8 473.2,240.7 473.6,242.7 474.1,244.2 474.5,244.6 475.0,241.2 475.4,242.0 475.9,238.9 476.3,238.6 476.8,238.4 477.2,239.7 477.7,240.9 478.1,238.9 478.6,237.6 479.0,240.8 479.5,239.7 479.9,238.1 480.4,240.7 480.8,235.4 481.3,234.0 481.7,235.2 482.2,237.5 482.6,236.5 483.1,238.9 483.5,239.5 484.0,236.4 484.4,235.8 484.9,238.9 485.3,237.6 485.8,238.5 486.2,238.1 486.7,243.4 487.1,242.7 487.6,239.7 488.0,237.9 488.5,236.3 488.9,236.4 489.4,234.3 489.8,236.7 490.3,238.4 490.7,238.1 491.2,241.4 491.6,237.8 492.1,236.1 492.5,237.6 493.0,236.5 493.4,238.6 493.9,242.0 494.3,242.1 494.8,241.2 495.2,235.4 495.7,235.6 496.1,236.5 496.6,234.7 497.0,235.0 497.5,232.2 497.9,233.5 498.4,235.4 498.8,239.2 499.3,235.2 499.7,238.1 500.2,235.0 500.6,239.8 501.1,236.3 501.5,235.7 502.0,236.4 502.4,241.2 502.9,240.9 503.3,236.3 503.8,242.2 504.2,240.9 504.7,242.8 505.1,246.1 505.6,243.7 506.0,243.2 506.5,243.7 506.9,241.4 507.4,238.0 507.8,238.8 508.3,241.6 508.7,244.3 509.2,243.0 509.6,242.9 510.1,242.1 510.5,243.8 511.0,245.5 511.4,242.9 511.9,246.4 512.3,245.4 512.8,243.6 513.2,245.2 513.7,245.6 514.1,246.3 514.6,248.5 515.0,246.4 515.5,243.5 515.9,248.4 516.4,248.0 516.8,246.2 517.3,250.7 517.7,247.6 518.2,243.5 518.6,248.3 519.1,249.6 519.5,247.1 520.0,247.7 520.4,244.2 520.9,242.7 521.3,243.5 521.8,244.2 522.2,239.1 522.7,243.4 523.1,245.5 523.6,246.0 524.0,246.1 524.5,244.1 524.9,246.9 525.4,246.3 525.8,247.0 526.3,243.5 526.7,239.9 527.2,248.3 527.6,248.2 528.1,250.9 528.5,246.7 529.0,249.6 529.4,246.8 529.9,250.6 530.3,250.1 530.8,246.7 531.2,241.0 531.7,248.0 532.1,246.6 532.6,237.4 533.0,246.0 533.5,245.1 533.9,248.7 534.4,243.9 534.8,241.8 535.3,246.6 535.7,247.1 536.2,244.5 536.6,243.3 537.1,247.4 537.5,243.6 538.0,246.9 538.4,248.0 538.9,246.3 539.3,249.9 539.8,243.8 540.2,245.0 540.7,243.6 541.1,244.4 541.6,239.5 542.0,242.9 542.5,242.7 542.9,246.6 543.4,246.8 543.8,249.2 544.3,242.0 544.7,245.9 545.2,246.9 545.6,244.8 546.1,238.2 546.5,240.5 547.0,243.0 547.4,244.0 547.9,242.7 548.3,239.7 548.8,242.2 549.2,241.2 549.7,241.0 550.1,239.0 550.6,242.1 551.0,243.4 551.5,242.8 551.9,240.5 552.4,240.6 552.8,240.3 553.3,244.0 553.7,239.5 554.2,241.0 554.6,243.3 555.1,235.6 555.5,241.5 556.0,243.5 556.4,248.0 556.9,251.8 557.3,244.3 557.8,248.1 558.2,246.3 558.7,244.7 559.1,245.5 559.6,239.0 560.0,238.6 560.5,241.1 560.9,239.2 561.4,238.7 561.8,237.4 562.3,238.0 562.7,239.1 563.2,236.4 563.6,237.5 564.1,241.0 564.5,243.9 565.0,240.0 565.4,240.4 565.9,239.3 566.3,241.5 566.8,242.2 567.2,244.3 567.7,244.7 568.1,242.3 568.6,242.7 569.0,238.4 569.5,243.7 569.9,244.7 570.4,240.0 570.8,242.1 571.3,240.8 571.7,241.5 572.2,242.9 572.6,243.4 573.1,238.0 573.5,242.9 574.0,247.0 574.4,246.3 574.9,246.9 575.3,249.0 575.8,238.7 576.2,244.8 576.7,243.8 577.1,245.3 577.6,243.7 578.0,242.4 578.5,239.9 578.9,239.8 579.4,244.3 579.8,244.5 580.3,243.6 580.7,244.3 581.2,242.5 581.6,244.8 582.1,245.9 582.5,244.3 583.0,245.9 583.4,245.0 583.9,245.6 584.3,242.2 584.8,244.2 585.2,241.9 585.7,244.7 586.1,247.5 586.6,248.3 587.0,247.6 587.5,243.6 587.9,241.9 588.4,239.4 588.8,241.6 589.3,241.5 589.7,239.9 590.2,242.1 590.6,243.1 591.1,246.3 591.5,247.8 592.0,244.7 592.4,246.1 592.9,244.8 593.3,246.9 593.8,247.5 594.2,246.5 594.7,247.1 595.1,249.1 595.6,244.5 596.1,242.9 596.5,245.7 597.0,242.5 597.4,245.8 597.9,248.6 598.3,246.9 598.8,248.9" fill="none" stroke="#FF7F7F" stroke-width="4.6" stroke-linejoin="round" stroke-linecap="round"/>
<line x1="180.7" y1="156.8" x2="180.7" y2="447.5" stroke="#000" stroke-width="4" stroke-linecap="butt"/>
<line x1="171.2" y1="438" x2="599.8" y2="438" stroke="#000" stroke-width="4" stroke-linecap="butt"/>
<line x1="171.2" y1="438" x2="180.7" y2="438" stroke="#000" stroke-width="4" stroke-linecap="butt"/>
<line x1="173.9" y1="403.07" x2="180.7" y2="403.07" stroke="#000" stroke-width="4" stroke-linecap="butt"/>
<line x1="171.2" y1="368.15" x2="180.7" y2="368.15" stroke="#000" stroke-width="4" stroke-linecap="butt"/>
<line x1="173.9" y1="333.23" x2="180.7" y2="333.23" stroke="#000" stroke-width="4" stroke-linecap="butt"/>
<line x1="171.2" y1="298.3" x2="180.7" y2="298.3" stroke="#000" stroke-width="4" stroke-linecap="butt"/>
<line x1="173.9" y1="263.38" x2="180.7" y2="263.38" stroke="#000" stroke-width="4" stroke-linecap="butt"/>
<line x1="171.2" y1="228.45" x2="180.7" y2="228.45" stroke="#000" stroke-width="4" stroke-linecap="butt"/>
<line x1="173.9" y1="193.52" x2="180.7" y2="193.52" stroke="#000" stroke-width="4" stroke-linecap="butt"/>
<line x1="171.2" y1="158.6" x2="180.7" y2="158.6" stroke="#000" stroke-width="4" stroke-linecap="butt"/>
<line x1="180.7" y1="438" x2="180.7" y2="447.5" stroke="#000" stroke-width="4" stroke-linecap="butt"/>
<line x1="232.86" y1="438" x2="232.86" y2="444.5" stroke="#000" stroke-width="4" stroke-linecap="butt"/>
<line x1="285.02" y1="438" x2="285.02" y2="447.5" stroke="#000" stroke-width="4" stroke-linecap="butt"/>
<line x1="337.19" y1="438" x2="337.19" y2="444.5" stroke="#000" stroke-width="4" stroke-linecap="butt"/>
<line x1="389.35" y1="438" x2="389.35" y2="447.5" stroke="#000" stroke-width="4" stroke-linecap="butt"/>
<line x1="441.51" y1="438" x2="441.51" y2="444.5" stroke="#000" stroke-width="4" stroke-linecap="butt"/>
<line x1="493.68" y1="438" x2="493.68" y2="447.5" stroke="#000" stroke-width="4" stroke-linecap="butt"/>
<line x1="545.84" y1="438" x2="545.84" y2="444.5" stroke="#000" stroke-width="4" stroke-linecap="butt"/>
<line x1="598" y1="438" x2="598" y2="447.5" stroke="#000" stroke-width="4" stroke-linecap="butt"/>
<text x="125.75" y="446.1" font-size="23.5" textLength="43.68" lengthAdjust="spacingAndGlyphs">0.55</text>
<text x="126.04" y="376.25" font-size="23.5" textLength="43.68" lengthAdjust="spacingAndGlyphs">0.60</text>
<text x="125.75" y="306.4" font-size="23.5" textLength="43.68" lengthAdjust="spacingAndGlyphs">0.65</text>
<text x="126.04" y="236.55" font-size="23.5" textLength="43.68" lengthAdjust="spacingAndGlyphs">0.70</text>
<text x="125.75" y="166.7" font-size="23.5" textLength="43.68" lengthAdjust="spacingAndGlyphs">0.75</text>
<text x="174.87" y="469.5" font-size="23.5" textLength="12.09" lengthAdjust="spacingAndGlyphs">0</text>
<text x="267.2" y="469.5" font-size="23.5" textLength="36.27" lengthAdjust="spacingAndGlyphs">500</text>
<text x="365.13" y="469.5" font-size="23.5" textLength="48.36" lengthAdjust="spacingAndGlyphs">1000</text>
<text x="469.46" y="469.5" font-size="23.5" textLength="48.36" lengthAdjust="spacingAndGlyphs">1500</text>
<text x="574.09" y="469.5" font-size="23.5" textLength="48.36" lengthAdjust="spacingAndGlyphs">2000</text>
<text x="339.45" y="501.1" font-size="23.5" textLength="108.64" lengthAdjust="spacingAndGlyphs">Time (sec)</text>
<text x="0" y="0" font-size="23.5" textLength="114.53" lengthAdjust="spacingAndGlyphs" transform="translate(110 401.68) rotate(-90)">Rhod-2 (F/F</text>
<text x="0" y="0" font-size="15" textLength="8.89" lengthAdjust="spacingAndGlyphs" transform="translate(114.3 284.43) rotate(-90)">0</text>
<text x="0" y="0" font-size="23.5" textLength="33.06" lengthAdjust="spacingAndGlyphs" transform="translate(110 270.91) rotate(-90)">545</text>
<text x="0" y="0" font-size="23.5" textLength="54.22" lengthAdjust="spacingAndGlyphs" transform="translate(110 234.25) rotate(-90)">nm)</text>
<text x="323.56" y="166.8" font-size="23.5" textLength="81.34" lengthAdjust="spacingAndGlyphs">AITC 30</text>
<text x="413.57" y="166.8" font-size="23.5" stroke="#000" stroke-width="0.35" font-weight="normal" font-family="Liberation Serif" textLength="16.06" lengthAdjust="spacingAndGlyphs">&#956;</text>
<text x="428.32" y="166.8" font-size="23.5" textLength="20.97" lengthAdjust="spacingAndGlyphs">M</text>
<line x1="232.6" y1="181" x2="590.6" y2="181" stroke="#000" stroke-width="4.2" stroke-linecap="round"/>
<line x1="415.5" y1="204" x2="446" y2="204" stroke="#FF7F7F" stroke-width="4.8" stroke-linecap="butt"/>
<line x1="416" y1="272.8" x2="446.7" y2="272.8" stroke="#8DBDF5" stroke-width="4.8" stroke-linecap="butt"/>
<line x1="417" y1="299.8" x2="448" y2="299.8" stroke="#000" stroke-width="4.8" stroke-linecap="butt"/>
<line x1="416.5" y1="327.8" x2="447.5" y2="327.8" stroke="#A09FA6" stroke-width="4.8" stroke-linecap="butt"/>
<text x="461.4" y="211.3" font-size="23.5" textLength="41.81" lengthAdjust="spacingAndGlyphs">Ctrl</text>
<text x="463.04" y="279.1" font-size="23.5" textLength="88.56" lengthAdjust="spacingAndGlyphs">siTRPA1</text>
<text x="464.1" y="307.6" font-size="23.5" textLength="145.72" lengthAdjust="spacingAndGlyphs">HC-030031 30</text>
<text x="619.07" y="307.6" font-size="23.5" stroke="#000" stroke-width="0.35" font-weight="normal" font-family="Liberation Serif" textLength="16.06" lengthAdjust="spacingAndGlyphs">&#956;</text>
<text x="633.91" y="307.6" font-size="23.5" textLength="21.09" lengthAdjust="spacingAndGlyphs">M</text>
<text x="464.11" y="335.4" font-size="23.5" textLength="85.41" lengthAdjust="spacingAndGlyphs">Ru360 5</text>
<text x="556.87" y="335.4" font-size="23.5" stroke="#000" stroke-width="0.35" font-weight="normal" font-family="Liberation Serif" textLength="16.06" lengthAdjust="spacingAndGlyphs">&#956;</text>
<text x="571.6" y="335.4" font-size="23.5" textLength="21.21" lengthAdjust="spacingAndGlyphs">M</text>
<polyline points="177.0,1001.9 177.4,990.5 177.9,992.5 178.3,997.8 178.8,1007.3 179.2,992.9 179.7,986.7 180.1,987.6 180.6,996.1 181.0,993.4 181.5,995.1 181.9,993.2 182.4,996.9 182.8,994.8 183.3,995.4 183.7,1001.5 184.2,998.1 184.6,990.5 185.1,994.4 185.5,1002.3 186.0,1003.0 186.4,1004.8 186.9,1000.1 187.3,987.2 187.8,1000.8 188.2,996.2 188.7,998.3 189.1,994.2 189.6,995.1 190.0,995.1 190.5,990.3 190.9,992.5 191.4,992.7 191.8,1000.3 192.3,1005.7 192.7,999.6 193.2,994.2 193.6,996.8 194.1,998.1 194.5,1000.3 195.0,995.7 195.4,1000.1 195.9,989.0 196.3,993.5 196.8,996.2 197.2,998.2 197.7,997.2 198.1,1003.5 198.6,998.7 199.0,1004.5 199.5,1001.5 199.9,998.2 200.4,998.8 200.8,994.9 201.3,992.3 201.7,997.7 202.2,1001.2 202.6,998.1 203.1,996.1 203.5,993.1 204.0,997.9 204.4,994.8 204.9,999.4 205.3,1000.1 205.8,993.6 206.2,994.5 206.7,994.6 207.1,997.5 207.6,999.5 208.0,1000.7 208.5,996.9 208.9,991.2 209.4,991.8 209.8,993.7 210.3,992.6 210.7,984.5 211.2,991.0 211.6,988.5 212.1,990.7 212.5,988.7 213.0,994.8 213.4,996.0 213.9,999.3 214.3,988.7 214.8,999.1 215.2,1002.8 215.7,1006.9 216.1,1000.2 216.6,997.9 217.0,999.4 217.5,999.4 217.9,1002.1 218.4,1004.9 218.8,1004.6 219.3,1007.1 219.7,1009.1 220.2,1002.2 220.6,1008.7 221.1,1012.2 221.5,1015.2 222.0,1008.1 222.4,1007.4 222.9,1004.5 223.3,1008.9 223.8,1015.2 224.2,1008.7 224.7,1006.6 225.1,1002.2 225.6,1008.5 226.0,1011.7 226.5,1012.8 226.9,1011.0 227.4,1013.9 227.8,1005.8 228.3,1000.8 228.7,1011.4 229.2,1012.8 229.6,1017.8 230.1,1012.2 230.5,1007.0 231.0,1001.3 231.4,1009.2 231.9,1009.8 232.3,1010.3 232.8,1014.1 233.2,1013.6 233.7,1012.8 234.1,1016.5 234.6,1011.7 235.0,1017.2 235.5,1010.2 235.9,1017.4 236.4,1014.1 236.8,1017.9 237.3,1021.4 237.7,1015.7 238.2,1015.6 238.6,1015.0 239.1,1026.0 239.5,1018.3 240.0,1017.1 240.4,1016.2 240.9,1022.2 241.3,1014.1 241.8,1019.4 242.2,1009.4 242.7,1015.5 243.1,1013.1 243.6,1013.4 244.0,1016.9 244.5,1016.0 244.9,1013.5 245.4,1016.8 245.8,1020.9 246.3,1017.5 246.7,1018.0 247.2,1011.3 247.6,1018.6 248.1,1014.0 248.5,1014.2 249.0,1014.0 249.4,1018.8 249.9,1015.6 250.3,1017.1 250.8,1024.3 251.2,1021.3 251.7,1024.1 252.1,1017.2 252.6,1023.5 253.0,1019.4 253.5,1016.5 253.9,1018.6 254.4,1015.4 254.8,1015.9 255.3,1019.6 255.7,1022.0 256.2,1022.8 256.6,1016.7 257.1,1018.1 257.5,1020.2 258.0,1015.3 258.4,1018.5 258.9,1017.6 259.3,1021.7 259.8,1025.6 260.2,1024.9 260.7,1020.8 261.1,1022.2 261.6,1022.4 262.0,1022.2 262.5,1019.0 262.9,1020.4 263.4,1020.8 263.8,1021.2 264.3,1017.8 264.7,1023.8 265.2,1027.7 265.6,1024.0 266.1,1021.8 266.5,1022.2 267.0,1022.7 267.4,1021.4 267.9,1019.1 268.3,1025.8 268.8,1026.4 269.2,1023.4 269.7,1023.5 270.1,1027.9 270.6,1024.4 271.0,1022.6 271.5,1021.8 271.9,1027.9 272.4,1025.6 272.8,1020.4 273.3,1025.4 273.7,1026.5 274.2,1028.3 274.6,1035.6 275.1,1032.2 275.5,1034.4 276.0,1028.4 276.4,1024.6 276.9,1031.0 277.3,1036.8 277.8,1031.3 278.2,1033.8 278.7,1028.5 279.1,1032.2 279.6,1031.7 280.0,1029.6 280.5,1025.3 280.9,1020.8 281.4,1017.6 281.8,1025.4 282.3,1026.2 282.7,1024.9 283.2,1020.0 283.6,1022.6 284.1,1027.8 284.5,1030.2 285.0,1029.8 285.4,1030.8 285.9,1028.8 286.3,1027.7 286.8,1028.6 287.2,1026.0 287.7,1015.4 288.1,1023.5 288.6,1028.4 289.0,1027.7 289.5,1029.6 289.9,1033.6 290.4,1030.6 290.8,1035.0 291.3,1029.9 291.7,1027.3 292.2,1031.2 292.6,1041.1 293.1,1033.9 293.5,1022.0 294.0,1030.0 294.4,1029.2 294.9,1030.6 295.3,1025.6 295.8,1032.1 296.2,1029.7 296.7,1024.8 297.1,1028.5 297.6,1031.8 298.0,1031.2 298.5,1029.9 298.9,1027.4 299.4,1031.2 299.8,1030.1 300.3,1022.0 300.7,1025.8 301.2,1021.4 301.6,1028.6 302.1,1024.7 302.5,1025.9 303.0,1027.2 303.4,1027.9 303.9,1030.6 304.3,1041.6 304.8,1034.5 305.2,1036.8 305.7,1033.3 306.1,1032.2 306.6,1027.7 307.0,1029.5 307.5,1025.7 307.9,1034.6 308.4,1031.0 308.8,1032.9 309.3,1033.1 309.7,1031.5 310.2,1024.6 310.6,1024.9 311.1,1023.9 311.5,1025.0 312.0,1026.4 312.4,1026.5 312.9,1034.3 313.3,1032.7 313.8,1031.5 314.2,1028.9 314.7,1024.6 315.1,1026.7 315.6,1023.9 316.0,1026.7 316.5,1025.4 316.9,1027.4 317.4,1032.3 317.8,1031.0 318.3,1024.6 318.7,1026.7 319.2,1024.7 319.6,1029.3 320.1,1026.2 320.5,1033.0 321.0,1027.8 321.4,1033.6 321.9,1030.5 322.3,1032.4 322.8,1023.6 323.2,1027.3 323.7,1026.5 324.1,1036.2 324.6,1036.9 325.0,1034.4 325.5,1036.1 325.9,1031.0 326.4,1031.7 326.8,1029.3 327.3,1032.3 327.7,1034.1 328.2,1034.8 328.6,1031.8 329.1,1034.7 329.5,1045.9 330.0,1031.1 330.4,1035.4 330.9,1041.5 331.3,1038.7 331.8,1039.9 332.2,1035.4 332.7,1033.4 333.1,1030.4 333.6,1023.1 334.0,1024.5 334.5,1024.7 334.9,1026.8 335.4,1029.1 335.8,1035.3 336.3,1033.3 336.7,1040.7 337.2,1040.3 337.6,1035.7 338.1,1032.4 338.5,1034.5 339.0,1034.9 339.4,1031.4 339.9,1028.2 340.3,1025.0 340.8,1030.7 341.2,1035.8 341.7,1027.2 342.1,1030.1 342.6,1036.6 343.0,1038.8 343.5,1030.4 343.9,1038.1 344.4,1033.0 344.8,1033.6 345.3,1033.1 345.7,1030.9 346.2,1040.7 346.6,1033.8 347.1,1029.0 347.5,1030.7 348.0,1039.3 348.4,1032.5 348.9,1032.4 349.3,1035.0 349.8,1037.3 350.2,1042.3 350.7,1035.1 351.1,1027.0 351.6,1031.0 352.0,1029.7 352.5,1032.9 352.9,1035.6 353.4,1031.6 353.8,1034.5 354.3,1027.6 354.7,1036.7 355.2,1030.4 355.6,1031.8 356.1,1032.3 356.5,1032.0 357.0,1034.8 357.4,1031.5 357.9,1034.0 358.3,1037.8 358.8,1036.6 359.2,1036.7 359.7,1030.1 360.1,1025.7 360.6,1025.2 361.0,1034.0 361.5,1028.8 361.9,1032.7 362.4,1036.1 362.8,1034.3 363.3,1032.9 363.7,1034.7 364.2,1033.1 364.6,1033.2 365.1,1031.1 365.5,1031.9 366.0,1028.5 366.4,1032.8 366.9,1033.2 367.3,1031.5 367.8,1027.1 368.2,1030.1 368.7,1030.0 369.1,1033.0 369.6,1029.5 370.0,1031.0 370.5,1029.6 370.9,1028.9 371.4,1027.1 371.8,1026.3 372.3,1028.8 372.7,1025.6 373.2,1026.1 373.6,1016.8 374.1,1029.2 374.5,1032.7 375.0,1023.4 375.4,1034.4 375.9,1029.2 376.3,1026.1 376.8,1026.6 377.2,1022.7 377.7,1022.1 378.1,1023.4 378.6,1023.7 379.0,1030.2 379.5,1033.3 379.9,1020.9 380.4,1023.3 380.8,1019.2 381.3,1023.2 381.7,1017.7 382.2,1025.7 382.6,1024.5 383.1,1022.6 383.5,1018.5 384.0,1020.4 384.4,1020.2 384.9,1025.6 385.3,1027.3 385.8,1027.5 386.2,1024.0 386.7,1013.5 387.1,1017.3 387.6,1021.6 388.0,1019.9 388.5,1021.7 388.9,1018.7 389.4,1014.1 389.8,1016.6 390.3,1020.4 390.7,1021.4 391.2,1025.3 391.6,1021.3 392.1,1015.3 392.5,1022.7 393.0,1017.3 393.4,1015.3 393.9,1017.6 394.3,1018.8 394.8,1023.4 395.2,1020.4 395.7,1021.4 396.1,1012.4 396.6,1018.8 397.0,1017.8 397.5,1025.2 397.9,1020.7 398.4,1016.3 398.8,1015.3 399.3,1010.2 399.7,1010.0 400.2,1014.7 400.6,1014.6 401.1,1015.9 401.5,1018.6 402.0,1024.0 402.4,1025.2 402.9,1022.4 403.3,1024.3 403.8,1024.2 404.2,1026.3 404.7,1028.3 405.1,1018.8 405.6,1017.5 406.0,1015.9 406.5,1013.0 406.9,1011.3 407.4,1017.1 407.8,1015.6 408.3,1022.9 408.7,1019.2 409.2,1019.3 409.6,1016.2 410.1,1014.4 410.5,1017.2 411.0,1021.3 411.4,1015.0 411.9,1016.0 412.3,1015.3 412.8,1016.0 413.2,1018.2 413.7,1016.9 414.1,1015.8 414.6,1018.6 415.0,1020.6 415.5,1010.3 415.9,1012.4 416.4,1013.5 416.8,1015.3 417.3,1018.7 417.7,1017.7 418.2,1014.3 418.6,1021.6 419.1,1015.3 419.5,1017.2 420.0,1011.4 420.4,1015.3 420.9,1020.0 421.3,1016.2 421.8,1012.2 422.2,1012.9 422.7,1023.4 423.1,1015.2 423.6,1020.4 424.0,1025.8 424.5,1014.7 424.9,1014.6 425.4,1016.9 425.8,1025.7 426.3,1022.7 426.7,1017.0 427.2,1018.3 427.6,1019.7 428.1,1020.2 428.5,1021.4 429.0,1022.1 429.4,1016.4 429.9,1011.5 430.3,1014.0 430.8,1015.6 431.2,1019.0 431.7,1015.6 432.1,1019.1 432.6,1014.2 433.0,1014.2 433.5,1017.1 433.9,1019.1 434.4,1016.2 434.8,1018.3 435.3,1015.7 435.7,1016.3 436.2,1016.2 436.6,1022.3 437.1,1020.8 437.5,1021.2 438.0,1019.5 438.4,1017.1 438.9,1013.1 439.3,1022.3 439.8,1021.7 440.2,1011.2 440.7,1017.4 441.1,1016.7 441.6,1018.7 442.0,1021.1 442.5,1016.6 442.9,1016.7 443.4,1020.6 443.8,1015.2 444.3,1014.9 444.7,1014.7 445.2,1022.7 445.6,1018.7 446.1,1019.7 446.5,1022.5 447.0,1025.6 447.4,1018.2 447.9,1015.8 448.3,1011.8 448.8,1009.6 449.2,1013.7 449.7,1008.1 450.1,1013.3 450.6,1014.5 451.0,1012.1 451.5,1018.0 451.9,1020.4 452.4,1018.8 452.8,1013.1 453.3,1018.3 453.7,1018.2 454.2,1014.6 454.6,1019.5 455.1,1013.9 455.5,1016.7 456.0,1005.5 456.4,1011.6 456.9,1009.0 457.3,1014.5 457.8,1017.0 458.2,1012.4 458.7,1009.8 459.1,1013.7 459.6,1017.4 460.0,1007.4 460.5,1017.3 460.9,1010.1 461.4,1010.8 461.8,1010.6 462.3,1012.3 462.7,1015.2 463.2,1017.2 463.6,1017.9 464.1,1016.3 464.5,1011.3 465.0,1017.4 465.4,1015.9 465.9,1014.2 466.3,1022.6 466.8,1017.6 467.2,1013.6 467.7,1009.2 468.1,1011.2 468.6,1013.4 469.0,1014.6 469.5,1015.0 469.9,1021.3 470.4,1017.9 470.8,1020.2 471.3,1013.7 471.7,1020.0 472.2,1018.4 472.6,1019.2 473.1,1018.3 473.5,1017.6 474.0,1022.2 474.4,1019.5 474.9,1018.7 475.3,1017.8 475.8,1013.4 476.2,1015.8 476.7,1012.2 477.1,1013.1 477.6,1019.9 478.0,1017.5 478.5,1015.2 478.9,1015.6 479.4,1021.8 479.8,1020.0 480.3,1018.9 480.7,1014.1 481.2,1016.9 481.6,1016.7 482.1,1013.3 482.5,1024.5 483.0,1025.1 483.4,1015.4 483.9,1012.5 484.3,1022.0 484.8,1016.3 485.2,1022.6 485.7,1023.2 486.1,1027.7 486.6,1019.2 487.0,1015.2 487.5,1017.7 487.9,1019.9 488.4,1020.3 488.8,1019.4 489.3,1017.9 489.7,1021.3 490.2,1024.9 490.6,1026.4 491.1,1025.8 491.5,1013.2 492.0,1014.4 492.4,1015.8 492.9,1021.0 493.3,1012.5 493.8,1020.4 494.2,1023.0 494.7,1017.8 495.1,1019.4 495.6,1015.7 496.0,1022.7 496.5,1020.0 496.9,1018.6 497.4,1020.4 497.8,1020.2 498.3,1021.1 498.7,1021.3 499.2,1015.6 499.6,1016.7 500.1,1016.5 500.5,1024.0 501.0,1024.6 501.4,1024.0 501.9,1028.0 502.3,1022.3 502.8,1022.0 503.2,1027.3 503.7,1024.9 504.1,1019.9 504.6,1020.7 505.0,1020.2 505.5,1026.0 505.9,1024.9 506.4,1022.2 506.8,1017.3 507.3,1014.3 507.7,1012.5 508.2,1013.3 508.6,1018.3 509.1,1021.6 509.5,1018.5 510.0,1022.5 510.4,1035.7 510.9,1022.7 511.3,1017.2 511.8,1019.8 512.2,1025.2 512.7,1025.9 513.1,1020.5 513.6,1016.5 514.0,1017.2 514.5,1018.6 514.9,1010.8 515.4,1025.7 515.8,1025.5 516.3,1024.9 516.7,1016.4 517.2,1015.3 517.6,1021.5 518.1,1017.5 518.5,1021.4 519.0,1019.6 519.4,1016.0 519.9,1017.8 520.3,1014.9 520.8,1021.6 521.2,1017.7 521.7,1018.8 522.1,1019.7 522.6,1021.2 523.0,1020.7 523.5,1022.6 523.9,1016.6 524.4,1024.1 524.8,1023.2 525.3,1017.2 525.7,1019.7 526.2,1022.1 526.6,1023.6 527.1,1022.6 527.5,1023.3 528.0,1022.0 528.4,1027.7 528.9,1020.5 529.3,1021.1 529.8,1017.7 530.2,1007.5 530.7,1011.6 531.1,1016.8 531.6,1017.4 532.0,1016.8 532.5,1013.9 532.9,1014.2 533.4,1015.5 533.8,1015.5 534.3,1011.9 534.7,1012.6 535.2,1017.9 535.6,1014.1 536.1,1013.4 536.5,1009.6 537.0,1012.1 537.4,1006.4 537.9,1000.7 538.3,1006.7 538.8,1005.3 539.2,1003.9 539.7,1001.4 540.1,1002.3 540.6,1002.7 541.0,1004.3 541.5,1006.1 541.9,1009.0 542.4,1013.4 542.8,1013.5 543.3,1011.9 543.7,1019.6 544.2,1016.1 544.6,1005.7 545.1,1010.3 545.5,1010.0 546.0,1011.2 546.4,1011.8 546.9,1014.2 547.3,1016.6 547.8,1011.2 548.2,1013.6 548.7,1015.9 549.1,1016.5 549.6,1018.3 550.0,1014.6 550.5,1011.8 550.9,1012.2 551.4,1021.9 551.8,1018.7 552.3,1019.1 552.7,1012.9 553.2,1016.8 553.6,1015.8 554.1,1010.3 554.5,1011.8 555.0,1010.4 555.4,1008.1 555.9,1009.7 556.3,1008.8 556.8,1010.6 557.2,1008.0 557.7,1012.0 558.1,1016.2 558.6,1021.5 559.0,1022.3 559.5,1020.4 559.9,1020.2 560.4,1021.3 560.8,1014.6 561.3,1009.2 561.7,1017.7 562.2,1016.6 562.6,1010.6 563.1,1009.6 563.5,1011.2 564.0,1012.5 564.4,1019.4 564.9,1013.3 565.3,1020.1 565.8,1018.7 566.2,1018.7 566.7,1016.0 567.1,1021.8 567.6,1018.3 568.0,1015.8 568.5,1020.7 568.9,1018.7 569.4,1010.0 569.8,1017.4 570.3,1016.4 570.7,1013.1 571.2,1021.4 571.6,1020.1 572.1,1018.0 572.5,1018.5 573.0,1015.1 573.4,1013.8 573.9,1011.2 574.3,1013.0 574.8,1013.0 575.2,1017.9 575.7,1008.4 576.1,1013.8 576.6,1020.5 577.0,1014.5 577.5,1012.9 577.9,1017.3 578.4,1016.1 578.8,1010.8 579.3,1016.0 579.7,1023.9 580.2,1026.3 580.6,1023.8 581.1,1019.5 581.5,1020.1 582.0,1014.9 582.4,1016.1 582.9,1019.1 583.3,1013.3 583.8,1013.2 584.2,1017.6 584.7,1026.3 585.1,1020.3 585.6,1024.0 586.0,1021.9 586.5,1012.2 586.9,1021.2 587.4,1024.6 587.8,1017.7 588.3,1021.1 588.7,1016.4 589.2,1014.8 589.6,1017.1 590.1,1021.5 590.5,1021.4 591.0,1026.6 591.4,1022.7 591.9,1022.5 592.3,1013.3 592.8,1012.8 593.2,1019.1 593.7,1020.9 594.1,1018.6 594.6,1023.3 595.0,1023.9 595.5,1021.8 596.0,1018.4 596.4,1017.7 596.9,1020.2 597.3,1021.7 597.8,1013.3 598.2,1023.3 598.7,1025.8 599.1,1023.2 599.6,1029.6 600.0,1022.0 600.5,1026.7 600.9,1019.2 601.4,1025.1 601.8,1030.8 602.3,1025.6 602.7,1017.4 603.2,1022.5 603.6,1021.0 604.1,1019.5 604.5,1017.9 605.0,1017.6 605.4,1017.4 605.9,1024.9 606.3,1029.6 606.8,1027.1" fill="none" stroke="#A09FA6" stroke-width="4.6" stroke-linejoin="round" stroke-linecap="round"/>
<polyline points="177.0,1032.8 177.4,1033.8 177.9,1035.5 178.3,1037.4 178.8,1043.9 179.2,1032.1 179.7,1038.9 180.1,1035.5 180.6,1042.6 181.0,1041.4 181.5,1040.7 181.9,1048.9 182.4,1050.1 182.8,1041.4 183.3,1039.8 183.7,1037.0 184.2,1033.3 184.6,1030.9 185.1,1040.8 185.5,1039.9 186.0,1033.8 186.4,1034.6 186.9,1028.8 187.3,1034.8 187.8,1042.1 188.2,1038.9 188.7,1035.2 189.1,1031.4 189.6,1030.5 190.0,1030.9 190.5,1027.8 190.9,1032.5 191.4,1025.6 191.8,1035.8 192.3,1037.7 192.7,1027.9 193.2,1033.8 193.6,1037.6 194.1,1027.3 194.5,1028.3 195.0,1037.4 195.4,1038.7 195.9,1040.1 196.3,1035.2 196.8,1032.2 197.2,1029.7 197.7,1040.6 198.1,1034.9 198.6,1036.5 199.0,1034.7 199.5,1045.4 199.9,1038.9 200.4,1041.1 200.8,1038.6 201.3,1037.4 201.7,1047.0 202.2,1034.6 202.6,1027.9 203.1,1026.7 203.5,1037.0 204.0,1027.2 204.4,1026.0 204.9,1037.8 205.3,1031.2 205.8,1026.6 206.2,1032.3 206.7,1023.4 207.1,1037.3 207.6,1029.0 208.0,1029.2 208.5,1026.3 208.9,1028.5 209.4,1029.4 209.8,1019.6 210.3,1031.9 210.7,1037.7 211.2,1031.0 211.6,1026.3 212.1,1029.6 212.5,1038.0 213.0,1031.3 213.4,1024.2 213.9,1034.3 214.3,1031.6 214.8,1029.0 215.2,1025.1 215.7,1035.9 216.1,1029.4 216.6,1036.3 217.0,1027.5 217.5,1027.8 217.9,1027.3 218.4,1026.8 218.8,1024.0 219.3,1029.2 219.7,1029.9 220.2,1029.6 220.6,1034.9 221.1,1027.7 221.5,1024.8 222.0,1031.8 222.4,1023.4 222.9,1017.3 223.3,1022.6 223.8,1028.2 224.2,1026.1 224.7,1026.0 225.1,1013.6 225.6,1016.7 226.0,1018.0 226.5,1022.3 226.9,1024.4 227.4,1025.5 227.8,1027.4 228.3,1026.0 228.7,1028.4 229.2,1028.9 229.6,1023.7 230.1,1032.7 230.5,1033.0 231.0,1022.9 231.4,1021.8 231.9,1022.2 232.3,1026.2 232.8,1027.0 233.2,1025.9 233.7,1022.4 234.1,1021.4 234.6,1006.1 235.0,1020.9 235.5,1011.0 235.9,1018.9 236.4,1030.6 236.8,1027.0 237.3,1027.2 237.7,1023.2 238.2,1027.1 238.6,1020.5 239.1,1022.7 239.5,1020.7 240.0,1018.8 240.4,1018.6 240.9,1015.2 241.3,1019.7 241.8,1013.3 242.2,1015.7 242.7,1022.7 243.1,1022.1 243.6,1020.1 244.0,1025.0 244.5,1018.2 244.9,1018.3 245.4,1018.2 245.8,1018.4 246.3,1013.5 246.7,1019.8 247.2,1018.2 247.6,1015.5 248.1,1018.6 248.5,1020.6 249.0,1021.9 249.4,1017.4 249.9,1025.5 250.3,1021.1 250.8,1019.7 251.2,1014.2 251.7,1021.5 252.1,1023.9 252.6,1028.1 253.0,1017.1 253.5,1004.6 253.9,1009.5 254.4,1014.5 254.8,1018.1 255.3,1018.5 255.7,1018.4 256.2,1009.4 256.6,1012.2 257.1,1012.0 257.5,1022.9 258.0,1028.1 258.4,1020.7 258.9,1019.8 259.3,1008.1 259.8,1008.9 260.2,1007.4 260.7,1010.5 261.1,1019.9 261.6,1026.7 262.0,1015.7 262.5,1016.7 262.9,1012.4 263.4,1015.6 263.8,1014.3 264.3,1025.2 264.7,1013.0 265.2,1018.2 265.6,1011.4 266.1,1024.0 266.5,1025.9 267.0,1016.7 267.4,1019.7 267.9,1019.9 268.3,1015.1 268.8,1019.5 269.2,1023.4 269.7,1018.8 270.1,1019.1 270.6,1016.7 271.0,1011.9 271.5,1013.3 271.9,1008.1 272.4,1015.5 272.8,1008.5 273.3,1003.3 273.7,1010.3 274.2,1011.1 274.6,1012.0 275.1,1018.3 275.5,1018.0 276.0,1013.7 276.4,1006.9 276.9,1013.3 277.3,1015.7 277.8,1015.7 278.2,1015.8 278.7,1014.1 279.1,1014.9 279.6,1016.5 280.0,1021.2 280.5,1012.0 280.9,1008.8 281.4,1019.9 281.8,1016.0 282.3,1012.1 282.7,1015.7 283.2,1011.2 283.6,1018.9 284.1,1016.5 284.5,1011.1 285.0,1018.0 285.4,1022.1 285.9,1019.0 286.3,1022.5 286.8,1018.6 287.2,1027.0 287.7,1016.6 288.1,1019.2 288.6,1024.1 289.0,1023.5 289.5,1016.4 289.9,1026.1 290.4,1027.5 290.8,1010.7 291.3,1017.9 291.7,1024.4 292.2,1021.7 292.6,1014.1 293.1,1025.3 293.5,1022.5 294.0,1026.1 294.4,1027.0 294.9,1019.3 295.3,1020.4 295.8,1017.2 296.2,1020.5 296.7,1022.9 297.1,1033.8 297.6,1030.0 298.0,1026.9 298.5,1023.5 298.9,1026.0 299.4,1022.8 299.8,1021.3 300.3,1024.6 300.7,1020.9 301.2,1015.2 301.6,1015.7 302.1,1019.6 302.5,1026.0 303.0,1025.7 303.4,1024.8 303.9,1019.2 304.3,1019.4 304.8,1019.8 305.2,1021.3 305.7,1030.1 306.1,1022.0 306.6,1028.0 307.0,1019.7 307.5,1014.8 307.9,1017.0 308.4,1019.6 308.8,1019.9 309.3,1028.7 309.7,1022.5 310.2,1022.1 310.6,1016.0 311.1,1015.4 311.5,1026.8 312.0,1022.2 312.4,1013.5 312.9,1019.4 313.3,1019.2 313.8,1025.2 314.2,1018.6 314.7,1023.5 315.1,1025.0 315.6,1026.1 316.0,1017.4 316.5,1014.3 316.9,1020.7 317.4,1028.4 317.8,1027.6 318.3,1029.8 318.7,1025.4 319.2,1029.0 319.6,1027.8 320.1,1021.7 320.5,1020.9 321.0,1026.7 321.4,1024.4 321.9,1019.6 322.3,1024.1 322.8,1023.2 323.2,1022.3 323.7,1026.9 324.1,1023.8 324.6,1029.2 325.0,1024.3 325.5,1020.8 325.9,1024.6 326.4,1024.7 326.8,1026.5 327.3,1020.2 327.7,1014.9 328.2,1022.5 328.6,1013.2 329.1,1019.0 329.5,1021.5 330.0,1018.8 330.4,1026.9 330.9,1027.3 331.3,1030.9 331.8,1029.3 332.2,1026.5 332.7,1028.2 333.1,1029.3 333.6,1023.2 334.0,1026.1 334.5,1020.6 334.9,1026.4 335.4,1016.1 335.8,1022.9 336.3,1029.0 336.7,1028.5 337.2,1033.4 337.6,1028.7 338.1,1029.4 338.5,1022.7 339.0,1029.6 339.4,1028.5 339.9,1025.5 340.3,1022.6 340.8,1035.0 341.2,1036.2 341.7,1027.4 342.1,1020.4 342.6,1015.0 343.0,1021.2 343.5,1028.2 343.9,1016.2 344.4,1021.3 344.8,1026.8 345.3,1026.3 345.7,1025.7 346.2,1021.4 346.6,1025.3 347.1,1024.6 347.5,1024.6 348.0,1020.1 348.4,1025.9 348.9,1019.4 349.3,1017.2 349.8,1024.5 350.2,1026.8 350.7,1026.3 351.1,1020.6 351.6,1030.0 352.0,1021.1 352.5,1022.2 352.9,1022.6 353.4,1031.2 353.8,1028.7 354.3,1023.3 354.7,1031.0 355.2,1021.8 355.6,1018.8 356.1,1026.6 356.5,1025.7 357.0,1028.0 357.4,1022.2 357.9,1024.8 358.3,1020.2 358.8,1026.5 359.2,1027.5 359.7,1024.7 360.1,1022.5 360.6,1025.6 361.0,1012.0 361.5,1026.5 361.9,1027.4 362.4,1030.7 362.8,1033.6 363.3,1025.4 363.7,1026.0 364.2,1024.3 364.6,1028.8 365.1,1026.7 365.5,1029.0 366.0,1025.7 366.4,1028.3 366.9,1035.7 367.3,1028.5 367.8,1037.4 368.2,1028.2 368.7,1035.9 369.1,1034.8 369.6,1013.8 370.0,1025.9 370.5,1023.9 370.9,1036.5 371.4,1030.5 371.8,1030.7 372.3,1034.0 372.7,1028.6 373.2,1031.4 373.6,1037.6 374.1,1036.1 374.5,1028.4 375.0,1029.9 375.4,1030.1 375.9,1032.7 376.3,1025.5 376.8,1023.6 377.2,1021.1 377.7,1029.6 378.1,1028.1 378.6,1024.9 379.0,1024.5 379.5,1022.0 379.9,1027.1 380.4,1019.0 380.8,1026.5 381.3,1024.5 381.7,1027.1 382.2,1036.0 382.6,1028.2 383.1,1020.3 383.5,1028.7 384.0,1027.3 384.4,1024.2 384.9,1033.6 385.3,1033.3 385.8,1029.5 386.2,1023.6 386.7,1016.6 387.1,1027.8 387.6,1031.3 388.0,1030.1 388.5,1040.1 388.9,1024.8 389.4,1019.2 389.8,1029.7 390.3,1028.3 390.7,1037.9 391.2,1030.0 391.6,1028.8 392.1,1029.9 392.5,1035.2 393.0,1032.5 393.4,1032.0 393.9,1031.5 394.3,1028.9 394.8,1036.4 395.2,1033.5 395.7,1032.4 396.1,1033.5 396.6,1030.4 397.0,1030.7 397.5,1037.0 397.9,1035.5 398.4,1030.3 398.8,1026.4 399.3,1029.1 399.7,1032.1 400.2,1031.0 400.6,1036.5 401.1,1029.6 401.5,1037.4 402.0,1030.6 402.4,1035.7 402.9,1037.0 403.3,1039.1 403.8,1026.7 404.2,1031.3 404.7,1025.1 405.1,1021.1 405.6,1029.9 406.0,1030.0 406.5,1031.8 406.9,1020.1 407.4,1023.0 407.8,1032.1 408.3,1033.6 408.7,1029.2 409.2,1032.3 409.6,1036.6 410.1,1035.1 410.5,1031.5 411.0,1025.1 411.4,1034.7 411.9,1034.6 412.3,1033.9 412.8,1036.1 413.2,1033.8 413.7,1036.7 414.1,1039.8 414.6,1033.3 415.0,1027.4 415.5,1028.4 415.9,1030.1 416.4,1027.3 416.8,1035.6 417.3,1037.3 417.7,1032.2 418.2,1033.4 418.6,1037.6 419.1,1033.8 419.5,1034.9 420.0,1041.7 420.4,1043.9 420.9,1031.3 421.3,1028.1 421.8,1035.0 422.2,1036.6 422.7,1031.5 423.1,1035.8 423.6,1033.0 424.0,1037.1 424.5,1031.4 424.9,1040.5 425.4,1037.3 425.8,1043.8 426.3,1038.3 426.7,1034.6 427.2,1030.2 427.6,1028.4 428.1,1028.2 428.5,1033.6 429.0,1031.1 429.4,1031.2 429.9,1035.1 430.3,1029.7 430.8,1025.7 431.2,1037.6 431.7,1038.4 432.1,1032.6 432.6,1030.1 433.0,1028.1 433.5,1037.9 433.9,1040.1 434.4,1043.0 434.8,1033.0 435.3,1036.5 435.7,1039.9 436.2,1033.1 436.6,1028.7 437.1,1030.9 437.5,1038.1 438.0,1033.1 438.4,1034.0 438.9,1030.3 439.3,1029.4 439.8,1037.3 440.2,1033.2 440.7,1035.4 441.1,1036.4 441.6,1034.1 442.0,1019.7 442.5,1027.7 442.9,1027.3 443.4,1025.0 443.8,1038.9 444.3,1040.4 444.7,1028.0 445.2,1025.5 445.6,1033.9 446.1,1047.6 446.5,1043.9 447.0,1032.1 447.4,1037.7 447.9,1048.2 448.3,1031.2 448.8,1038.1 449.2,1037.3 449.7,1031.8 450.1,1037.1 450.6,1036.1 451.0,1040.7 451.5,1041.1 451.9,1046.7 452.4,1047.5 452.8,1038.7 453.3,1037.3 453.7,1047.9 454.2,1046.1 454.6,1031.9 455.1,1035.6 455.5,1028.6 456.0,1029.8 456.4,1024.8 456.9,1031.0 457.3,1040.2 457.8,1037.4 458.2,1032.7 458.7,1034.2 459.1,1030.2 459.6,1032.5 460.0,1042.3 460.5,1031.0 460.9,1030.6 461.4,1036.3 461.8,1028.0 462.3,1040.2 462.7,1037.5 463.2,1030.1 463.6,1033.4 464.1,1042.4 464.5,1030.1 465.0,1030.4 465.4,1026.1 465.9,1035.5 466.3,1037.6 466.8,1035.7 467.2,1038.9 467.7,1039.8 468.1,1030.6 468.6,1036.4 469.0,1044.6 469.5,1041.4 469.9,1038.9 470.4,1040.8 470.8,1032.6 471.3,1028.7 471.7,1036.8 472.2,1034.6 472.6,1031.9 473.1,1031.5 473.5,1036.8 474.0,1042.0 474.4,1037.4 474.9,1034.7 475.3,1031.2 475.8,1033.4 476.2,1042.8 476.7,1040.6 477.1,1043.3 477.6,1039.1 478.0,1037.1 478.5,1041.1 478.9,1037.1 479.4,1040.4 479.8,1040.8 480.3,1039.4 480.7,1040.3 481.2,1037.3 481.6,1039.4 482.1,1043.2 482.5,1041.0 483.0,1043.4 483.4,1045.8 483.9,1043.0 484.3,1041.9 484.8,1045.1 485.2,1047.7 485.7,1044.1 486.1,1040.1 486.6,1039.6 487.0,1041.1 487.5,1036.0 487.9,1041.4 488.4,1033.4 488.8,1036.5 489.3,1035.4 489.7,1031.0 490.2,1037.1 490.6,1043.4 491.1,1034.4 491.5,1032.8 492.0,1033.9 492.4,1037.0 492.9,1042.4 493.3,1044.2 493.8,1038.4 494.2,1044.3 494.7,1041.0 495.1,1043.5 495.6,1036.0 496.0,1034.3 496.5,1038.4 496.9,1033.7 497.4,1026.9 497.8,1030.1 498.3,1033.6 498.7,1033.9 499.2,1037.0 499.6,1038.3 500.1,1045.2 500.5,1035.0 501.0,1036.7 501.4,1038.6 501.9,1042.8 502.3,1040.2 502.8,1033.1 503.2,1036.3 503.7,1041.1 504.1,1037.2 504.6,1038.5 505.0,1039.7 505.5,1047.3 505.9,1039.5 506.4,1035.6 506.8,1028.5 507.3,1038.3 507.7,1036.5 508.2,1029.7 508.6,1031.1 509.1,1034.6 509.5,1039.1 510.0,1036.5 510.4,1041.9 510.9,1040.6 511.3,1038.5 511.8,1021.9 512.2,1039.2 512.7,1040.9 513.1,1045.0 513.6,1047.8 514.0,1047.5 514.5,1038.2 514.9,1032.6 515.4,1045.3 515.8,1052.3 516.3,1045.1 516.7,1050.8 517.2,1050.8 517.6,1051.2 518.1,1066.2 518.5,1059.5 519.0,1062.5 519.4,1048.0 519.9,1050.5 520.3,1052.7 520.8,1041.9 521.2,1044.6 521.7,1044.7 522.1,1039.6 522.6,1042.1 523.0,1041.9 523.5,1027.1 523.9,1034.8 524.4,1038.9 524.8,1038.9 525.3,1041.8 525.7,1044.2 526.2,1040.9 526.6,1026.8 527.1,1030.1 527.5,1039.7 528.0,1041.7 528.4,1039.5 528.9,1047.7 529.3,1039.0 529.8,1038.1 530.2,1038.8 530.7,1034.4 531.1,1031.9 531.6,1037.2 532.0,1036.6 532.5,1036.0 532.9,1034.0 533.4,1044.3 533.8,1044.3 534.3,1038.7 534.7,1035.8 535.2,1035.1 535.6,1037.5 536.1,1040.2 536.5,1041.5 537.0,1027.4 537.4,1035.2 537.9,1033.7 538.3,1031.5 538.8,1036.0 539.2,1028.8 539.7,1031.8 540.1,1034.2 540.6,1030.8 541.0,1030.5 541.5,1024.7 541.9,1025.6 542.4,1041.3 542.8,1040.2 543.3,1038.5 543.7,1028.2 544.2,1036.7 544.6,1037.6 545.1,1035.4 545.5,1034.3 546.0,1031.8 546.4,1036.8 546.9,1039.0 547.3,1036.0 547.8,1039.2 548.2,1041.2 548.7,1040.6 549.1,1039.4 549.6,1029.1 550.0,1029.8 550.5,1025.0 550.9,1029.3 551.4,1038.9 551.8,1028.4 552.3,1033.7 552.7,1023.8 553.2,1031.1 553.6,1032.7 554.1,1028.8 554.5,1028.1 555.0,1022.4 555.4,1035.1 555.9,1032.6 556.3,1033.8 556.8,1035.6 557.2,1040.5 557.7,1030.0 558.1,1027.4 558.6,1027.2 559.0,1033.2 559.5,1032.7 559.9,1036.4 560.4,1030.7 560.8,1037.7 561.3,1037.3 561.7,1038.2 562.2,1029.0 562.6,1037.5 563.1,1037.5 563.5,1021.2 564.0,1030.1 564.4,1020.7 564.9,1030.8 565.3,1026.0 565.8,1021.6 566.2,1026.7 566.7,1018.5 567.1,1023.5 567.6,1019.5 568.0,1027.1 568.5,1025.3 568.9,1023.7 569.4,1035.1 569.8,1026.8 570.3,1019.4 570.7,1016.9 571.2,1012.5 571.6,1012.1 572.1,1007.9 572.5,1007.4 573.0,1003.3 573.4,1008.8 573.9,1005.2 574.3,1003.3 574.8,1000.8 575.2,1000.7 575.7,1004.3 576.1,1009.3 576.6,1020.9" fill="none" stroke="#FCBD7C" stroke-width="4.6" stroke-linejoin="round" stroke-linecap="round"/>
<polyline points="177.0,987.5 177.4,988.2 177.9,987.8 178.3,987.7 178.8,986.7 179.2,986.8 179.7,983.5 180.1,982.5 180.6,983.6 181.0,986.0 181.5,987.9 181.9,987.2 182.4,987.5 182.8,983.7 183.3,986.7 183.7,986.9 184.2,988.7 184.6,986.8 185.1,991.6 185.5,989.5 186.0,985.3 186.4,988.2 186.9,987.8 187.3,988.4 187.8,991.5 188.2,988.9 188.7,988.0 189.1,988.0 189.6,984.4 190.0,987.9 190.5,986.7 190.9,989.2 191.4,989.7 191.8,987.2 192.3,989.1 192.7,984.9 193.2,985.3 193.6,985.6 194.1,989.5 194.5,989.7 195.0,989.1 195.4,989.0 195.9,990.6 196.3,986.4 196.8,988.4 197.2,989.3 197.7,987.0 198.1,987.9 198.6,989.2 199.0,987.6 199.5,992.4 199.9,989.7 200.4,987.6 200.8,986.4 201.3,986.0 201.7,988.5 202.2,988.7 202.6,990.6 203.1,988.5 203.5,988.8 204.0,987.7 204.4,989.1 204.9,990.1 205.3,987.4 205.8,987.1 206.2,986.5 206.7,986.3 207.1,987.7 207.6,990.1 208.0,992.4 208.5,989.4 208.9,988.7 209.4,986.9 209.8,987.8 210.3,987.0 210.7,988.8 211.2,987.2 211.6,986.5 212.1,986.1 212.5,984.1 213.0,986.2 213.4,984.3 213.9,986.3 214.3,989.6 214.8,987.5 215.2,989.3 215.7,987.6 216.1,985.1 216.6,987.3 217.0,992.0 217.5,992.5 217.9,992.0 218.4,992.4 218.8,991.0 219.3,992.4 219.7,991.0 220.2,988.3 220.6,991.2 221.1,991.4 221.5,989.7 222.0,990.7 222.4,990.5 222.9,991.6 223.3,987.9 223.8,987.7 224.2,986.0 224.7,984.6 225.1,982.3 225.6,983.9 226.0,988.1 226.5,984.4 226.9,985.0 227.4,984.7 227.8,984.5 228.3,981.2 228.7,981.8 229.2,976.4 229.6,981.6 230.1,977.3 230.5,975.6 231.0,976.3 231.4,979.6 231.9,981.3 232.3,978.2 232.8,975.6 233.2,979.2 233.7,975.6 234.1,977.7 234.6,978.3 235.0,977.1 235.5,979.6 235.9,977.7 236.4,978.5 236.8,977.4 237.3,978.1 237.7,978.6 238.2,981.4 238.6,974.6 239.1,975.6 239.5,981.5 240.0,979.2 240.4,979.5 240.9,976.2 241.3,975.8 241.8,974.1 242.2,976.3 242.7,977.3 243.1,977.6 243.6,977.1 244.0,978.9 244.5,974.4 244.9,977.1 245.4,979.6 245.8,981.7 246.3,979.4 246.7,976.0 247.2,980.1 247.6,977.1 248.1,977.2 248.5,977.5 249.0,973.6 249.4,980.5 249.9,979.6 250.3,979.4 250.8,980.6 251.2,981.9 251.7,982.5 252.1,982.7 252.6,976.5 253.0,976.7 253.5,975.7 253.9,978.3 254.4,978.0 254.8,976.0 255.3,978.6 255.7,979.3 256.2,975.5 256.6,975.4 257.1,976.2 257.5,974.3 258.0,974.1 258.4,970.9 258.9,969.9 259.3,972.4 259.8,972.1 260.2,971.7 260.7,975.3 261.1,972.7 261.6,970.8 262.0,971.0 262.5,973.2 262.9,974.6 263.4,976.0 263.8,975.8 264.3,972.8 264.7,976.6 265.2,973.1 265.6,973.2 266.1,971.6 266.5,975.6 267.0,972.8 267.4,971.0 267.9,969.9 268.3,972.9 268.8,971.1 269.2,972.9 269.7,968.8 270.1,968.8 270.6,970.0 271.0,971.6 271.5,969.2 271.9,969.8 272.4,974.9 272.8,971.8 273.3,972.8 273.7,973.3 274.2,970.9 274.6,969.8 275.1,969.5 275.5,969.7 276.0,972.1 276.4,968.0 276.9,968.7 277.3,972.4 277.8,971.2 278.2,969.3 278.7,969.3 279.1,969.0 279.6,969.6 280.0,970.0 280.5,974.8 280.9,972.6 281.4,969.1 281.8,973.1 282.3,972.8 282.7,973.0 283.2,972.0 283.6,971.1 284.1,965.3 284.5,964.2 285.0,969.1 285.4,974.4 285.9,970.4 286.3,971.5 286.8,966.9 287.2,971.8 287.7,970.2 288.1,968.6 288.6,967.4 289.0,969.7 289.5,970.8 289.9,970.2 290.4,971.1 290.8,968.5 291.3,968.9 291.7,968.7 292.2,967.9 292.6,973.9 293.1,971.8 293.5,966.7 294.0,969.8 294.4,968.0 294.9,969.3 295.3,967.9 295.8,969.1 296.2,970.6 296.7,972.5 297.1,972.4 297.6,970.2 298.0,966.3 298.5,969.2 298.9,966.8 299.4,969.4 299.8,967.4 300.3,968.0 300.7,969.6 301.2,971.1 301.6,968.6 302.1,970.5 302.5,968.8 303.0,967.6 303.4,969.2 303.9,967.4 304.3,968.8 304.8,967.9 305.2,968.8 305.7,969.0 306.1,967.1 306.6,971.3 307.0,970.1 307.5,967.9 307.9,969.4 308.4,967.8 308.8,969.0 309.3,968.9 309.7,969.7 310.2,969.8 310.6,966.4 311.1,966.8 311.5,967.2 312.0,968.8 312.4,968.7 312.9,971.7 313.3,967.5 313.8,967.6 314.2,966.3 314.7,965.1 315.1,965.4 315.6,966.7 316.0,969.5 316.5,968.5 316.9,969.5 317.4,969.1 317.8,966.2 318.3,966.0 318.7,967.4 319.2,968.9 319.6,970.6 320.1,968.4 320.5,970.2 321.0,971.4 321.4,969.5 321.9,968.1 322.3,967.3 322.8,967.2 323.2,970.0 323.7,971.4 324.1,967.6 324.6,967.8 325.0,966.4 325.5,965.4 325.9,967.0 326.4,970.0 326.8,966.5 327.3,968.2 327.7,968.6 328.2,965.6 328.6,966.6 329.1,968.7 329.5,969.4 330.0,968.4 330.4,966.7 330.9,967.3 331.3,966.8 331.8,965.3 332.2,967.4 332.7,968.9 333.1,968.4 333.6,965.4 334.0,965.4 334.5,966.8 334.9,968.0 335.4,970.5 335.8,965.2 336.3,965.4 336.7,969.2 337.2,969.1 337.6,966.3 338.1,969.4 338.5,970.5 339.0,964.5 339.4,967.0 339.9,968.8 340.3,968.2 340.8,968.1 341.2,967.4 341.7,964.1 342.1,965.5 342.6,967.7 343.0,968.7 343.5,966.1 343.9,970.2 344.4,969.4 344.8,965.7 345.3,969.4 345.7,968.2 346.2,966.8 346.6,968.8 347.1,968.4 347.5,967.3 348.0,967.5 348.4,966.1 348.9,964.5 349.3,965.4 349.8,968.2 350.2,968.9 350.7,970.4 351.1,965.9 351.6,967.8 352.0,967.9 352.5,969.0 352.9,967.6 353.4,971.7 353.8,970.7 354.3,971.4 354.7,972.3 355.2,974.3 355.6,971.9 356.1,968.8 356.5,967.6 357.0,970.3 357.4,974.0 357.9,970.8 358.3,973.7 358.8,969.0 359.2,969.2 359.7,968.0 360.1,969.7 360.6,969.9 361.0,969.8 361.5,970.4 361.9,969.7 362.4,973.0 362.8,970.9 363.3,973.0 363.7,973.4 364.2,972.2 364.6,974.4 365.1,973.5 365.5,973.3 366.0,970.0 366.4,971.4 366.9,971.6 367.3,969.6 367.8,972.9 368.2,971.7 368.7,970.0 369.1,973.2 369.6,973.6 370.0,973.1 370.5,973.6 370.9,974.0 371.4,973.0 371.8,972.3 372.3,974.5 372.7,974.2 373.2,972.4 373.6,971.6 374.1,974.0 374.5,974.9 375.0,972.6 375.4,973.2 375.9,973.7 376.3,972.9 376.8,977.1 377.2,973.9 377.7,974.6 378.1,973.1 378.6,972.7 379.0,975.8 379.5,970.8 379.9,973.8 380.4,974.5 380.8,971.5 381.3,969.4 381.7,971.2 382.2,971.0 382.6,973.5 383.1,972.5 383.5,973.0 384.0,972.0 384.4,969.8 384.9,970.9 385.3,971.9 385.8,973.5 386.2,970.9 386.7,969.7 387.1,971.7 387.6,970.4 388.0,968.8 388.5,967.4 388.9,970.2 389.4,969.9 389.8,972.3 390.3,970.8 390.7,968.4 391.2,968.2 391.6,974.0 392.1,974.4 392.5,970.3 393.0,972.1 393.4,969.1 393.9,970.5 394.3,970.6 394.8,971.2 395.2,971.2 395.7,970.8 396.1,971.4 396.6,972.7 397.0,969.6 397.5,972.6 397.9,973.8 398.4,972.8 398.8,976.7 399.3,975.1 399.7,973.5 400.2,969.6 400.6,970.9 401.1,969.8 401.5,969.4 402.0,972.3 402.4,969.8 402.9,971.7 403.3,972.3 403.8,970.2 404.2,967.8 404.7,968.1 405.1,972.0 405.6,973.8 406.0,971.2 406.5,972.4 406.9,972.2 407.4,975.1 407.8,970.4 408.3,972.6 408.7,971.6 409.2,974.8 409.6,972.2 410.1,971.7 410.5,970.2 411.0,970.3 411.4,974.1 411.9,970.8 412.3,971.1 412.8,971.4 413.2,968.9 413.7,972.6 414.1,968.4 414.6,965.8 415.0,972.7 415.5,969.3 415.9,967.5 416.4,966.6 416.8,969.5 417.3,971.2 417.7,972.0 418.2,971.7 418.6,970.0 419.1,972.0 419.5,969.8 420.0,968.6 420.4,967.1 420.9,971.2 421.3,972.2 421.8,970.9 422.2,969.7 422.7,967.9 423.1,970.0 423.6,972.6 424.0,971.1 424.5,973.9 424.9,972.4 425.4,969.4 425.8,970.1 426.3,970.3 426.7,970.3 427.2,973.1 427.6,974.1 428.1,974.9 428.5,972.5 429.0,973.1 429.4,971.5 429.9,970.2 430.3,968.3 430.8,968.6 431.2,972.1 431.7,967.5 432.1,970.3 432.6,969.9 433.0,971.1 433.5,967.7 433.9,967.6 434.4,968.7 434.8,970.0 435.3,968.4 435.7,970.7 436.2,970.8 436.6,969.3 437.1,968.4 437.5,968.0 438.0,969.8 438.4,969.9 438.9,969.4 439.3,971.2 439.8,969.5 440.2,968.3 440.7,972.2 441.1,971.1 441.6,968.7 442.0,968.1 442.5,970.3 442.9,967.9 443.4,965.6 443.8,965.5 444.3,969.4 444.7,970.2 445.2,970.5 445.6,965.6 446.1,968.0 446.5,965.5 447.0,967.2 447.4,971.5 447.9,971.6 448.3,971.5 448.8,969.8 449.2,968.4 449.7,969.0 450.1,969.4 450.6,966.4 451.0,971.0 451.5,968.3 451.9,965.0 452.4,967.9 452.8,970.3 453.3,970.0 453.7,971.9 454.2,969.4 454.6,968.1 455.1,969.0 455.5,970.2 456.0,972.5 456.4,969.4 456.9,967.4 457.3,967.4 457.8,969.6 458.2,971.1 458.7,970.5 459.1,973.4 459.6,973.1 460.0,971.3 460.5,975.0 460.9,978.3 461.4,975.7 461.8,972.3 462.3,974.0 462.7,976.5 463.2,974.5 463.6,971.0 464.1,975.0 464.5,973.8 465.0,970.2 465.4,974.3 465.9,977.8 466.3,979.1 466.8,977.8 467.2,976.0 467.7,977.8 468.1,980.1 468.6,980.7 469.0,982.9 469.5,981.5 469.9,983.4 470.4,989.3 470.8,986.1 471.3,987.4 471.7,986.1 472.2,987.6 472.6,986.2 473.1,987.5 473.5,988.8 474.0,987.7 474.4,990.8 474.9,989.6 475.3,986.9 475.8,992.5 476.2,988.4 476.7,988.0 477.1,987.0 477.6,988.9 478.0,988.3 478.5,987.3 478.9,986.0 479.4,987.7 479.8,987.0 480.3,988.4 480.7,981.3 481.2,980.4 481.6,981.2 482.1,978.6 482.5,979.7 483.0,981.2 483.4,981.4 483.9,983.3 484.3,981.9 484.8,983.8 485.2,984.0 485.7,985.7 486.1,984.1 486.6,981.5 487.0,984.3 487.5,981.8 487.9,982.2 488.4,979.9 488.8,981.7 489.3,986.1 489.7,985.1 490.2,983.0 490.6,980.2 491.1,980.2 491.5,981.0 492.0,985.2 492.4,981.6 492.9,977.3 493.3,982.6 493.8,980.1 494.2,982.9 494.7,982.8 495.1,983.5 495.6,985.2 496.0,983.4 496.5,986.3 496.9,982.5 497.4,983.8 497.8,980.3 498.3,980.2 498.7,980.3 499.2,978.0 499.6,981.3 500.1,980.6 500.5,979.1 501.0,978.7 501.4,976.1 501.9,982.0 502.3,980.9 502.8,980.9 503.2,981.9 503.7,981.3 504.1,982.1 504.6,979.8 505.0,980.6 505.5,985.0 505.9,985.0 506.4,986.1 506.8,983.9 507.3,985.7 507.7,983.5 508.2,980.7 508.6,980.5 509.1,981.6 509.5,980.5 510.0,980.0 510.4,976.5 510.9,973.4 511.3,978.7 511.8,977.6 512.2,977.6 512.7,976.9 513.1,978.1 513.6,981.4 514.0,980.7 514.5,977.4 514.9,980.0 515.4,981.8 515.8,984.1 516.3,982.7 516.7,982.1 517.2,983.4 517.6,980.2 518.1,983.7 518.5,983.6 519.0,981.1 519.4,983.6 519.9,984.5 520.3,979.6 520.8,980.7 521.2,980.8 521.7,979.7 522.1,979.4 522.6,979.8 523.0,979.7 523.5,979.2 523.9,978.1 524.4,977.6 524.8,975.3 525.3,974.5 525.7,979.4 526.2,979.7 526.6,979.1 527.1,979.8 527.5,977.6 528.0,980.9 528.4,982.3 528.9,984.5 529.3,987.4 529.8,985.3 530.2,984.6 530.7,982.4 531.1,983.2 531.6,981.9 532.0,983.1 532.5,981.5 532.9,983.2 533.4,982.1 533.8,984.3 534.3,983.4 534.7,980.6 535.2,980.1 535.6,984.9 536.1,985.4 536.5,986.1 537.0,985.1 537.4,984.4 537.9,980.8 538.3,984.6 538.8,985.2 539.2,982.7 539.7,985.3 540.1,983.2 540.6,982.1 541.0,984.0 541.5,983.7 541.9,986.9 542.4,986.8 542.8,990.0 543.3,990.8 543.7,987.1 544.2,985.0 544.6,984.8 545.1,988.8 545.5,984.1 546.0,984.9 546.4,987.2 546.9,985.5 547.3,989.4 547.8,987.0 548.2,984.8 548.7,985.4 549.1,984.8 549.6,985.6 550.0,986.7 550.5,986.2 550.9,987.0 551.4,988.2 551.8,989.5 552.3,991.3 552.7,987.0 553.2,988.5 553.6,988.8 554.1,986.1 554.5,988.3 555.0,985.3 555.4,986.4 555.9,986.3 556.3,985.6 556.8,987.0 557.2,987.4 557.7,987.7 558.1,989.0 558.6,990.1 559.0,989.1 559.5,990.1 559.9,991.6 560.4,990.1 560.8,993.7 561.3,995.1 561.7,991.9 562.2,989.8 562.6,992.7 563.1,991.4 563.5,992.8 564.0,992.3 564.4,992.3 564.9,990.7 565.3,991.6 565.8,991.3 566.2,991.6 566.7,991.9 567.1,995.2 567.6,992.5 568.0,994.5 568.5,993.3 568.9,992.6 569.4,994.2 569.8,995.6 570.3,989.4 570.7,989.9 571.2,992.6 571.6,990.0 572.1,988.9 572.5,991.0 573.0,992.1 573.4,991.4 573.9,992.3 574.3,991.6 574.8,992.6 575.2,991.5 575.7,990.7 576.1,992.0 576.6,990.3 577.0,991.6 577.5,991.2 577.9,993.0 578.4,995.4 578.8,994.4 579.3,994.1 579.7,993.4 580.2,993.3 580.6,993.7 581.1,994.5 581.5,994.3 582.0,993.4 582.4,992.5 582.9,996.7 583.3,995.4 583.8,992.6 584.2,988.3 584.7,988.6 585.1,992.0 585.6,993.9 586.0,992.5 586.5,995.3 586.9,991.4 587.4,992.0 587.8,988.7 588.3,988.7 588.7,990.1 589.2,987.4 589.6,992.8 590.1,995.3 590.5,993.6 591.0,995.5 591.4,994.8 591.9,989.7 592.3,992.5 592.8,993.0 593.2,995.1 593.7,992.9 594.1,991.5 594.6,993.6 595.0,991.5 595.5,994.2 596.0,996.5 596.4,994.2 596.9,992.3 597.3,992.0 597.8,991.1 598.2,984.6 598.7,988.3 599.1,992.6 599.6,995.7 600.0,993.9 600.5,992.0 600.9,992.0 601.4,989.9 601.8,989.5 602.3,991.6 602.7,993.9 603.2,995.6 603.6,993.6 604.1,992.9 604.5,993.6 605.0,995.0 605.4,993.4 605.9,990.6 606.3,991.2 606.8,992.9" fill="none" stroke="#000" stroke-width="4.6" stroke-linejoin="round" stroke-linecap="round"/>
<polyline points="177.0,986.3 177.4,986.3 177.9,986.9 178.3,986.6 178.8,985.3 179.2,985.4 179.7,988.6 180.1,990.0 180.6,985.3 181.0,985.2 181.5,984.3 181.9,985.8 182.4,985.4 182.8,986.4 183.3,989.0 183.7,988.2 184.2,990.7 184.6,989.7 185.1,988.8 185.5,989.1 186.0,987.9 186.4,989.8 186.9,987.6 187.3,986.4 187.8,986.4 188.2,987.5 188.7,988.9 189.1,989.3 189.6,988.1 190.0,990.3 190.5,988.4 190.9,985.7 191.4,984.2 191.8,988.1 192.3,990.2 192.7,990.8 193.2,990.6 193.6,989.0 194.1,986.1 194.5,989.6 195.0,988.9 195.4,987.5 195.9,988.0 196.3,988.5 196.8,987.7 197.2,988.1 197.7,987.8 198.1,988.6 198.6,990.8 199.0,987.4 199.5,989.3 199.9,991.4 200.4,992.4 200.8,988.8 201.3,988.0 201.7,989.7 202.2,990.3 202.6,987.8 203.1,987.6 203.5,988.2 204.0,986.7 204.4,990.2 204.9,987.8 205.3,989.7 205.8,989.6 206.2,988.8 206.7,989.3 207.1,989.2 207.6,990.1 208.0,988.9 208.5,988.6 208.9,987.9 209.4,986.7 209.8,988.3 210.3,989.1 210.7,991.9 211.2,990.4 211.6,989.5 212.1,990.7 212.5,991.3 213.0,991.7 213.4,992.5 213.9,991.5 214.3,987.5 214.8,987.0 215.2,986.4 215.7,985.0 216.1,985.4 216.6,984.2 217.0,982.8 217.5,981.7 217.9,980.6 218.4,977.6 218.8,976.8 219.3,978.9 219.7,978.3 220.2,975.1 220.6,974.7 221.1,974.7 221.5,971.5 222.0,973.3 222.4,971.7 222.9,969.9 223.3,971.7 223.8,971.0 224.2,965.6 224.7,967.6 225.1,967.2 225.6,968.0 226.0,965.7 226.5,965.3 226.9,964.4 227.4,963.7 227.8,963.6 228.3,964.5 228.7,962.3 229.2,960.0 229.6,959.2 230.1,959.8 230.5,961.2 231.0,959.9 231.4,958.6 231.9,959.8 232.3,957.6 232.8,956.9 233.2,959.3 233.7,955.2 234.1,951.3 234.6,951.4 235.0,957.4 235.5,953.8 235.9,952.6 236.4,950.4 236.8,951.0 237.3,950.0 237.7,950.6 238.2,949.2 238.6,950.3 239.1,949.7 239.5,948.1 240.0,949.1 240.4,947.6 240.9,945.8 241.3,946.0 241.8,947.3 242.2,948.3 242.7,947.2 243.1,947.8 243.6,946.9 244.0,945.6 244.5,943.0 244.9,942.4 245.4,943.9 245.8,943.7 246.3,944.2 246.7,943.2 247.2,943.5 247.6,942.1 248.1,944.7 248.5,940.0 249.0,936.7 249.4,938.8 249.9,938.2 250.3,942.8 250.8,940.4 251.2,942.2 251.7,940.7 252.1,941.2 252.6,940.5 253.0,938.3 253.5,938.6 253.9,941.1 254.4,941.5 254.8,942.8 255.3,941.7 255.7,941.5 256.2,939.6 256.6,941.5 257.1,940.6 257.5,941.5 258.0,939.9 258.4,938.9 258.9,939.1 259.3,939.9 259.8,942.4 260.2,938.8 260.7,939.0 261.1,939.5 261.6,938.8 262.0,939.5 262.5,939.7 262.9,940.1 263.4,940.3 263.8,937.5 264.3,936.7 264.7,938.3 265.2,939.7 265.6,942.1 266.1,940.8 266.5,938.3 267.0,937.8 267.4,934.7 267.9,933.1 268.3,931.9 268.8,933.3 269.2,934.1 269.7,935.2 270.1,937.3 270.6,936.6 271.0,934.8 271.5,934.7 271.9,936.1 272.4,936.4 272.8,934.5 273.3,933.4 273.7,934.2 274.2,935.2 274.6,932.9 275.1,930.2 275.5,930.9 276.0,932.6 276.4,934.4 276.9,934.1 277.3,933.4 277.8,932.3 278.2,932.2 278.7,933.8 279.1,929.4 279.6,930.8 280.0,931.3 280.5,928.2 280.9,929.5 281.4,933.2 281.8,932.6 282.3,928.1 282.7,929.2 283.2,928.2 283.6,929.5 284.1,928.0 284.5,931.1 285.0,929.3 285.4,928.1 285.9,925.2 286.3,929.2 286.8,925.9 287.2,925.5 287.7,927.7 288.1,925.1 288.6,922.3 289.0,923.3 289.5,924.9 289.9,923.3 290.4,922.7 290.8,922.5 291.3,922.9 291.7,923.6 292.2,921.1 292.6,922.4 293.1,922.9 293.5,924.4 294.0,926.0 294.4,923.2 294.9,924.0 295.3,923.4 295.8,925.0 296.2,923.6 296.7,919.8 297.1,918.3 297.6,920.4 298.0,921.7 298.5,920.4 298.9,919.4 299.4,918.5 299.8,922.1 300.3,917.0 300.7,918.8 301.2,915.4 301.6,918.4 302.1,920.9 302.5,917.2 303.0,915.0 303.4,911.7 303.9,911.5 304.3,911.0 304.8,912.1 305.2,913.0 305.7,913.4 306.1,912.7 306.6,909.6 307.0,909.5 307.5,907.5 307.9,907.2 308.4,908.5 308.8,908.8 309.3,908.3 309.7,908.3 310.2,910.1 310.6,909.3 311.1,910.0 311.5,908.7 312.0,906.9 312.4,910.0 312.9,908.5 313.3,907.2 313.8,908.2 314.2,908.7 314.7,907.5 315.1,906.0 315.6,906.9 316.0,909.3 316.5,907.6 316.9,907.2 317.4,907.8 317.8,907.9 318.3,906.4 318.7,906.3 319.2,907.5 319.6,904.8 320.1,904.0 320.5,905.8 321.0,904.2 321.4,902.9 321.9,904.8 322.3,905.3 322.8,907.4 323.2,904.5 323.7,904.2 324.1,902.8 324.6,903.3 325.0,902.1 325.5,902.9 325.9,901.2 326.4,901.2 326.8,902.7 327.3,902.2 327.7,901.1 328.2,899.9 328.6,899.3 329.1,900.0 329.5,899.8 330.0,900.1 330.4,902.5 330.9,902.2 331.3,899.3 331.8,898.1 332.2,896.2 332.7,896.9 333.1,897.5 333.6,896.7 334.0,895.7 334.5,897.0 334.9,895.2 335.4,898.5 335.8,898.3 336.3,900.4 336.7,901.2 337.2,900.6 337.6,899.2 338.1,898.0 338.5,895.1 339.0,896.2 339.4,893.3 339.9,894.3 340.3,893.2 340.8,892.5 341.2,895.3 341.7,897.9 342.1,894.9 342.6,894.5 343.0,895.6 343.5,895.4 343.9,894.2 344.4,892.9 344.8,889.0 345.3,893.6 345.7,892.6 346.2,890.2 346.6,892.6 347.1,892.4 347.5,890.4 348.0,890.3 348.4,887.5 348.9,888.1 349.3,891.5 349.8,891.0 350.2,891.8 350.7,891.1 351.1,891.6 351.6,887.3 352.0,885.1 352.5,888.8 352.9,886.9 353.4,887.3 353.8,888.0 354.3,888.3 354.7,887.3 355.2,883.0 355.6,884.2 356.1,885.4 356.5,885.2 357.0,886.0 357.4,885.1 357.9,886.3 358.3,885.6 358.8,883.9 359.2,883.8 359.7,886.7 360.1,885.1 360.6,885.2 361.0,886.6 361.5,885.8 361.9,887.3 362.4,883.6 362.8,882.6 363.3,886.7 363.7,887.1 364.2,887.4 364.6,885.3 365.1,883.5 365.5,884.5 366.0,884.0 366.4,882.5 366.9,881.8 367.3,882.4 367.8,884.8 368.2,882.9 368.7,879.7 369.1,882.0 369.6,883.2 370.0,881.6 370.5,881.2 370.9,883.5 371.4,882.3 371.8,880.8 372.3,880.9 372.7,881.7 373.2,881.6 373.6,881.0 374.1,882.0 374.5,884.4 375.0,884.5 375.4,882.7 375.9,883.3 376.3,881.6 376.8,878.9 377.2,880.1 377.7,881.0 378.1,881.5 378.6,880.8 379.0,881.3 379.5,883.1 379.9,880.3 380.4,878.9 380.8,879.0 381.3,880.9 381.7,882.5 382.2,881.9 382.6,878.2 383.1,879.9 383.5,879.9 384.0,882.8 384.4,881.6 384.9,882.7 385.3,883.3 385.8,882.8 386.2,880.5 386.7,881.7 387.1,881.0 387.6,880.1 388.0,879.8 388.5,881.0 388.9,880.1 389.4,879.0 389.8,882.8 390.3,884.0 390.7,885.9 391.2,880.3 391.6,876.9 392.1,879.1 392.5,878.1 393.0,880.7 393.4,880.6 393.9,883.0 394.3,884.0 394.8,882.2 395.2,880.7 395.7,884.0 396.1,883.0 396.6,881.6 397.0,881.0 397.5,880.7 397.9,882.4 398.4,882.9 398.8,883.2 399.3,882.3 399.7,881.1 400.2,884.2 400.6,882.3 401.1,881.0 401.5,882.4 402.0,879.5 402.4,879.0 402.9,883.0 403.3,881.6 403.8,878.8 404.2,880.9 404.7,881.0 405.1,880.1 405.6,879.7 406.0,881.7 406.5,879.4 406.9,876.7 407.4,876.3 407.8,879.4 408.3,877.4 408.7,875.0 409.2,873.8 409.6,874.4 410.1,874.1 410.5,875.2 411.0,878.7 411.4,875.8 411.9,873.4 412.3,874.3 412.8,871.9 413.2,870.6 413.7,873.3 414.1,876.2 414.6,878.1 415.0,876.3 415.5,877.0 415.9,874.0 416.4,874.2 416.8,873.6 417.3,874.0 417.7,874.0 418.2,873.8 418.6,876.9 419.1,873.4 419.5,873.9 420.0,871.8 420.4,872.5 420.9,870.1 421.3,873.6 421.8,869.7 422.2,871.3 422.7,870.0 423.1,873.4 423.6,871.0 424.0,871.0 424.5,872.2 424.9,870.4 425.4,869.0 425.8,867.7 426.3,870.0 426.7,870.7 427.2,869.9 427.6,872.3 428.1,869.9 428.5,871.8 429.0,869.0 429.4,869.8 429.9,871.8 430.3,872.4 430.8,873.1 431.2,869.5 431.7,869.6 432.1,870.8 432.6,872.3 433.0,869.3 433.5,870.2 433.9,870.1 434.4,870.7 434.8,869.5 435.3,868.8 435.7,868.9 436.2,867.5 436.6,869.7 437.1,873.6 437.5,870.9 438.0,869.8 438.4,869.3 438.9,867.2 439.3,867.1 439.8,867.6 440.2,867.5 440.7,867.0 441.1,869.1 441.6,869.4 442.0,870.1 442.5,868.5 442.9,869.7 443.4,870.2 443.8,868.4 444.3,868.2 444.7,870.4 445.2,868.8 445.6,868.4 446.1,870.8 446.5,870.1 447.0,868.0 447.4,867.2 447.9,867.7 448.3,866.8 448.8,867.7 449.2,866.3 449.7,866.3 450.1,865.3 450.6,864.7 451.0,867.7 451.5,867.7 451.9,865.6 452.4,866.8 452.8,870.2 453.3,869.6 453.7,869.9 454.2,866.4 454.6,864.8 455.1,864.1 455.5,866.4 456.0,863.1 456.4,862.9 456.9,866.9 457.3,869.0 457.8,867.5 458.2,865.7 458.7,866.4 459.1,865.5 459.6,867.9 460.0,866.6 460.5,870.8 460.9,869.0 461.4,867.8 461.8,866.9 462.3,863.2 462.7,867.0 463.2,865.4 463.6,864.4 464.1,863.9 464.5,864.7 465.0,866.5 465.4,869.2 465.9,867.9 466.3,867.6 466.8,862.2 467.2,863.1 467.7,863.2 468.1,863.2 468.6,867.4 469.0,866.6 469.5,863.8 469.9,863.3 470.4,866.0 470.8,866.0 471.3,868.0 471.7,863.5 472.2,863.1 472.6,863.2 473.1,862.4 473.5,864.7 474.0,865.5 474.4,864.6 474.9,869.9 475.3,869.3 475.8,867.2 476.2,865.4 476.7,867.0 477.1,867.2 477.6,867.5 478.0,867.0 478.5,868.6 478.9,868.0 479.4,868.2 479.8,869.2 480.3,866.4 480.7,869.8 481.2,867.2 481.6,867.9 482.1,865.3 482.5,866.3 483.0,867.6 483.4,863.5 483.9,865.2 484.3,868.0 484.8,865.8 485.2,865.8 485.7,865.8 486.1,865.2 486.6,866.5 487.0,866.4 487.5,865.8 487.9,863.0 488.4,862.2 488.8,864.5 489.3,863.5 489.7,862.3 490.2,863.7 490.6,865.2 491.1,862.2 491.5,862.3 492.0,863.2 492.4,865.9 492.9,867.0 493.3,866.9 493.8,868.0 494.2,866.5 494.7,867.0 495.1,864.0 495.6,870.4 496.0,868.6 496.5,870.9 496.9,872.4 497.4,870.4 497.8,870.6 498.3,871.1 498.7,872.9 499.2,871.5 499.6,871.3 500.1,874.3 500.5,872.5 501.0,872.7 501.4,873.2 501.9,876.3 502.3,874.6 502.8,873.6 503.2,876.4 503.7,877.5 504.1,874.0 504.6,875.1 505.0,876.8 505.5,873.2 505.9,873.4 506.4,874.2 506.8,874.0 507.3,875.1 507.7,871.9 508.2,871.6 508.6,873.4 509.1,873.2 509.5,870.9 510.0,870.0 510.4,871.0 510.9,870.1 511.3,869.8 511.8,871.1 512.2,869.5 512.7,870.7 513.1,870.5 513.6,869.9 514.0,871.7 514.5,867.8 514.9,869.6 515.4,869.7 515.8,868.9 516.3,866.4 516.7,864.9 517.2,865.1 517.6,867.4 518.1,867.8 518.5,866.7 519.0,868.7 519.4,869.5 519.9,869.3 520.3,867.2 520.8,863.0 521.2,865.2 521.7,865.4 522.1,864.1 522.6,864.3 523.0,864.7 523.5,865.0 523.9,865.9 524.4,864.2 524.8,861.7 525.3,857.8 525.7,863.5 526.2,866.0 526.6,868.3 527.1,864.9 527.5,862.1 528.0,865.9 528.4,861.8 528.9,864.8 529.3,864.6 529.8,863.7 530.2,863.8 530.7,863.3 531.1,862.8 531.6,864.5 532.0,861.6 532.5,861.4 532.9,863.4 533.4,863.6 533.8,864.9 534.3,863.9 534.7,865.6 535.2,863.3 535.6,864.8 536.1,863.1 536.5,858.4 537.0,866.0 537.4,866.4 537.9,864.9 538.3,863.6 538.8,865.0 539.2,865.5 539.7,862.4 540.1,862.8 540.6,863.3 541.0,863.0 541.5,864.0 541.9,865.7 542.4,863.8 542.8,863.7 543.3,865.7 543.7,868.2 544.2,870.3 544.6,867.1 545.1,865.4 545.5,866.9 546.0,868.0 546.4,868.4 546.9,864.6 547.3,867.5 547.8,869.2 548.2,868.2 548.7,866.3 549.1,865.0 549.6,865.1 550.0,867.3 550.5,864.0 550.9,864.9 551.4,862.1 551.8,864.0 552.3,865.1 552.7,867.9 553.2,869.9 553.6,869.9 554.1,867.8 554.5,866.1 555.0,866.0 555.4,864.8 555.9,865.8 556.3,866.8 556.8,866.7 557.2,865.3 557.7,864.3 558.1,865.5 558.6,864.0 559.0,864.0 559.5,863.2 559.9,864.6 560.4,863.4 560.8,863.7 561.3,861.9 561.7,862.7 562.2,865.5 562.6,866.6 563.1,868.7 563.5,868.5 564.0,867.4 564.4,865.6 564.9,866.6 565.3,866.9 565.8,867.6 566.2,868.3 566.7,867.4 567.1,865.3 567.6,862.7 568.0,866.8 568.5,865.8 568.9,868.6 569.4,868.4 569.8,866.8 570.3,868.9 570.7,867.4 571.2,866.3 571.6,866.8 572.1,871.0 572.5,869.5 573.0,867.1 573.4,868.8 573.9,868.9 574.3,867.1 574.8,865.4 575.2,866.8 575.7,867.6 576.1,867.6 576.6,868.4 577.0,871.3 577.5,865.9 577.9,866.1 578.4,865.2 578.8,863.9 579.3,868.9 579.7,869.8 580.2,866.1 580.6,867.0 581.1,868.0 581.5,868.6 582.0,868.9 582.4,869.0 582.9,868.3 583.3,867.8 583.8,867.0 584.2,867.9 584.7,873.0 585.1,869.8 585.6,868.3 586.0,868.7 586.5,871.1 586.9,871.5 587.4,869.7 587.8,867.2 588.3,865.7 588.7,866.3 589.2,866.2 589.6,867.9 590.1,869.3 590.5,869.4 591.0,868.4 591.4,868.8 591.9,869.2 592.3,868.2 592.8,868.7 593.2,868.7 593.7,870.0 594.1,872.6 594.6,870.6 595.0,871.0 595.5,868.2 596.0,871.0 596.4,868.5 596.9,870.6 597.3,872.2 597.8,875.4 598.2,871.5 598.7,872.2 599.1,870.6 599.6,873.6 600.0,870.9 600.5,869.4 600.9,869.8 601.4,869.6 601.8,870.6 602.3,871.5 602.7,872.4 603.2,873.4 603.6,874.5 604.1,872.7 604.5,872.6 605.0,873.9 605.4,872.9 605.9,872.0 606.3,869.4 606.8,872.3" fill="none" stroke="#169AB8" stroke-width="4.6" stroke-linejoin="round" stroke-linecap="round"/>
<line x1="177" y1="774.8" x2="177" y2="1072.5" stroke="#000" stroke-width="4" stroke-linecap="butt"/>
<line x1="167.5" y1="1063" x2="608.5" y2="1063" stroke="#000" stroke-width="4" stroke-linecap="butt"/>
<line x1="167.5" y1="1063" x2="177" y2="1063" stroke="#000" stroke-width="4" stroke-linecap="butt"/>
<line x1="170.2" y1="1027.2" x2="177" y2="1027.2" stroke="#000" stroke-width="4" stroke-linecap="butt"/>
<line x1="167.5" y1="991.4" x2="177" y2="991.4" stroke="#000" stroke-width="4" stroke-linecap="butt"/>
<line x1="170.2" y1="955.6" x2="177" y2="955.6" stroke="#000" stroke-width="4" stroke-linecap="butt"/>
<line x1="167.5" y1="919.8" x2="177" y2="919.8" stroke="#000" stroke-width="4" stroke-linecap="butt"/>
<line x1="170.2" y1="884" x2="177" y2="884" stroke="#000" stroke-width="4" stroke-linecap="butt"/>
<line x1="167.5" y1="848.2" x2="177" y2="848.2" stroke="#000" stroke-width="4" stroke-linecap="butt"/>
<line x1="170.2" y1="812.4" x2="177" y2="812.4" stroke="#000" stroke-width="4" stroke-linecap="butt"/>
<line x1="167.5" y1="776.6" x2="177" y2="776.6" stroke="#000" stroke-width="4" stroke-linecap="butt"/>
<line x1="177" y1="1063" x2="177" y2="1072.5" stroke="#000" stroke-width="4" stroke-linecap="butt"/>
<line x1="230.71" y1="1063" x2="230.71" y2="1069.5" stroke="#000" stroke-width="4" stroke-linecap="butt"/>
<line x1="284.43" y1="1063" x2="284.43" y2="1072.5" stroke="#000" stroke-width="4" stroke-linecap="butt"/>
<line x1="338.14" y1="1063" x2="338.14" y2="1069.5" stroke="#000" stroke-width="4" stroke-linecap="butt"/>
<line x1="391.85" y1="1063" x2="391.85" y2="1072.5" stroke="#000" stroke-width="4" stroke-linecap="butt"/>
<line x1="445.56" y1="1063" x2="445.56" y2="1069.5" stroke="#000" stroke-width="4" stroke-linecap="butt"/>
<line x1="499.28" y1="1063" x2="499.28" y2="1072.5" stroke="#000" stroke-width="4" stroke-linecap="butt"/>
<line x1="552.99" y1="1063" x2="552.99" y2="1069.5" stroke="#000" stroke-width="4" stroke-linecap="butt"/>
<line x1="606.7" y1="1063" x2="606.7" y2="1072.5" stroke="#000" stroke-width="4" stroke-linecap="butt"/>
<text x="121.25" y="1071.1" font-size="23.5" textLength="44.69" lengthAdjust="spacingAndGlyphs">0.55</text>
<text x="121.56" y="999.5" font-size="23.5" textLength="44.69" lengthAdjust="spacingAndGlyphs">0.60</text>
<text x="121.25" y="927.9" font-size="23.5" textLength="44.69" lengthAdjust="spacingAndGlyphs">0.65</text>
<text x="121.56" y="856.3" font-size="23.5" textLength="44.69" lengthAdjust="spacingAndGlyphs">0.70</text>
<text x="121.25" y="784.7" font-size="23.5" textLength="44.69" lengthAdjust="spacingAndGlyphs">0.75</text>
<text x="170.84" y="1096.2" font-size="23.5" textLength="12.76" lengthAdjust="spacingAndGlyphs">0</text>
<text x="265.61" y="1096.2" font-size="23.5" textLength="38.27" lengthAdjust="spacingAndGlyphs">500</text>
<text x="366.29" y="1096.2" font-size="23.5" textLength="51.02" lengthAdjust="spacingAndGlyphs">1000</text>
<text x="473.71" y="1096.2" font-size="23.5" textLength="51.02" lengthAdjust="spacingAndGlyphs">1500</text>
<text x="581.46" y="1096.2" font-size="23.5" textLength="51.02" lengthAdjust="spacingAndGlyphs">2000</text>
<text x="335.85" y="1129.4" font-size="23.5" textLength="112.29" lengthAdjust="spacingAndGlyphs">Time (sec)</text>
<text x="0" y="0" font-size="23.5" textLength="128.7" lengthAdjust="spacingAndGlyphs" transform="translate(103 1012.25) rotate(-90)">Rhod-2 (F/F</text>
<text x="0" y="0" font-size="15" textLength="8.42" lengthAdjust="spacingAndGlyphs" transform="translate(108 882.8) rotate(-90)">0</text>
<text x="0" y="0" font-size="23.5" textLength="44.39" lengthAdjust="spacingAndGlyphs" transform="translate(103 866.68) rotate(-90)">545)</text>
<text x="309.11" y="781.3" font-size="23.5" textLength="17.2" lengthAdjust="spacingAndGlyphs">H</text>
<text x="326.13" y="787.5" font-size="17" textLength="10.74" lengthAdjust="spacingAndGlyphs">2</text>
<text x="336.22" y="781.3" font-size="23.5" textLength="18.58" lengthAdjust="spacingAndGlyphs">O</text>
<text x="354.67" y="787.5" font-size="17" textLength="10.17" lengthAdjust="spacingAndGlyphs">2</text>
<text x="372.83" y="781.3" font-size="23.5" textLength="24.37" lengthAdjust="spacingAndGlyphs">50</text>
<text x="403.75" y="781.3" font-size="23.5" stroke="#000" stroke-width="0.35" font-weight="normal" font-family="Liberation Serif" textLength="15.54" lengthAdjust="spacingAndGlyphs">&#956;</text>
<text x="418.45" y="781.3" font-size="23.5" textLength="20.49" lengthAdjust="spacingAndGlyphs">M</text>
<line x1="219.5" y1="795.3" x2="598.9" y2="795.3" stroke="#000" stroke-width="4.2" stroke-linecap="round"/>
<line x1="386" y1="824.5" x2="418.5" y2="824.5" stroke="#169AB8" stroke-width="4.8" stroke-linecap="butt"/>
<line x1="386" y1="847.8" x2="418.5" y2="847.8" stroke="#FCBD7C" stroke-width="4.8" stroke-linecap="butt"/>
<line x1="386.6" y1="920" x2="418.8" y2="920" stroke="#000" stroke-width="4.8" stroke-linecap="butt"/>
<line x1="387.6" y1="952.2" x2="418.8" y2="952.2" stroke="#A09FA6" stroke-width="4.8" stroke-linecap="butt"/>
<text x="434.18" y="832" font-size="23.5" textLength="42.99" lengthAdjust="spacingAndGlyphs">Ctrl</text>
<text x="434.41" y="854.8" font-size="23.5" textLength="92.21" lengthAdjust="spacingAndGlyphs">siTRPA1</text>
<text x="434.97" y="928.3" font-size="23.5" textLength="149.17" lengthAdjust="spacingAndGlyphs">HC-030031 30</text>
<text x="593.97" y="928.3" font-size="23.5" stroke="#000" stroke-width="0.35" font-weight="normal" font-family="Liberation Serif" textLength="16.06" lengthAdjust="spacingAndGlyphs">&#956;</text>
<text x="609.64" y="928.3" font-size="23.5" textLength="19.42" lengthAdjust="spacingAndGlyphs">M</text>
<text x="435.44" y="961" font-size="23.5" textLength="89.31" lengthAdjust="spacingAndGlyphs">Ru360 5</text>
<text x="532.57" y="961" font-size="23.5" stroke="#000" stroke-width="0.35" font-weight="normal" font-family="Liberation Serif" textLength="16.06" lengthAdjust="spacingAndGlyphs">&#956;</text>
<text x="547.44" y="961" font-size="23.5" textLength="19.42" lengthAdjust="spacingAndGlyphs">M</text>
<polyline points="177.0,1646.5 177.4,1649.1 177.9,1647.9 178.3,1649.0 178.8,1646.3 179.2,1647.2 179.7,1641.0 180.1,1640.5 180.6,1642.7 181.0,1642.7 181.5,1642.3 181.9,1649.1 182.4,1644.0 182.8,1647.0 183.3,1648.0 183.7,1642.7 184.2,1641.2 184.6,1640.9 185.1,1648.0 185.5,1639.1 186.0,1641.2 186.4,1648.4 186.9,1647.9 187.3,1647.8 187.8,1644.0 188.2,1636.6 188.7,1641.3 189.1,1644.5 189.6,1639.8 190.0,1646.6 190.5,1645.3 190.9,1645.3 191.4,1649.7 191.8,1645.9 192.3,1650.4 192.7,1652.1 193.2,1644.2 193.6,1647.2 194.1,1645.9 194.5,1648.1 195.0,1644.3 195.4,1644.9 195.9,1642.6 196.3,1646.0 196.8,1642.4 197.2,1641.5 197.7,1641.9 198.1,1645.9 198.6,1649.4 199.0,1644.9 199.5,1648.5 199.9,1650.7 200.4,1645.1 200.8,1651.4 201.3,1652.3 201.7,1654.2 202.2,1647.5 202.6,1641.4 203.1,1646.9 203.5,1647.4 204.0,1646.2 204.4,1644.8 204.9,1648.8 205.3,1642.6 205.8,1648.2 206.2,1649.4 206.7,1645.0 207.1,1646.3 207.6,1645.1 208.0,1651.4 208.5,1645.1 208.9,1645.8 209.4,1644.4 209.8,1648.1 210.3,1649.5 210.7,1649.5 211.2,1646.5 211.6,1640.2 212.1,1644.3 212.5,1645.6 213.0,1649.0 213.4,1645.6 213.9,1648.6 214.3,1649.7 214.8,1649.6 215.2,1653.6 215.7,1645.3 216.1,1649.4 216.6,1642.8 217.0,1642.9 217.5,1651.6 217.9,1644.7 218.4,1644.1 218.8,1642.8 219.3,1645.8 219.7,1646.6 220.2,1646.2 220.6,1646.7 221.1,1642.9 221.5,1644.3 222.0,1648.6 222.4,1649.9 222.9,1650.6 223.3,1646.0 223.8,1646.3 224.2,1646.9 224.7,1650.9 225.1,1648.8 225.6,1643.7 226.0,1652.0 226.5,1646.8 226.9,1645.5 227.4,1653.0 227.8,1649.4 228.3,1645.6 228.7,1648.0 229.2,1650.9 229.6,1644.7 230.1,1646.6 230.5,1643.7 231.0,1646.1 231.4,1652.9 231.9,1648.4 232.3,1646.7 232.8,1648.6 233.2,1647.0 233.7,1648.8 234.1,1644.9 234.6,1649.6 235.0,1645.1 235.5,1651.5 235.9,1654.0 236.4,1654.4 236.8,1658.9 237.3,1663.0 237.7,1667.7 238.2,1667.2 238.6,1675.1 239.1,1674.8 239.5,1672.0 240.0,1675.5 240.4,1675.7 240.9,1675.7 241.3,1671.9 241.8,1671.0 242.2,1672.3 242.7,1676.3 243.1,1681.9 243.6,1677.0 244.0,1677.9 244.5,1673.5 244.9,1677.4 245.4,1670.5 245.8,1668.7 246.3,1675.7 246.7,1672.7 247.2,1674.7 247.6,1672.6 248.1,1668.6 248.5,1665.8 249.0,1673.8 249.4,1679.1 249.9,1672.4 250.3,1677.7 250.8,1676.4 251.2,1677.4 251.7,1671.8 252.1,1673.9 252.6,1677.6 253.0,1676.1 253.5,1676.7 253.9,1678.8 254.4,1677.6 254.8,1675.2 255.3,1678.7 255.7,1676.6 256.2,1675.0 256.6,1678.4 257.1,1677.6 257.5,1678.2 258.0,1680.4 258.4,1680.2 258.9,1681.3 259.3,1676.8 259.8,1678.6 260.2,1675.2 260.7,1683.4 261.1,1675.9 261.6,1680.4 262.0,1680.2 262.5,1684.9 262.9,1689.6 263.4,1687.1 263.8,1684.0 264.3,1675.1 264.7,1680.7 265.2,1677.8 265.6,1682.7 266.1,1681.6 266.5,1683.8 267.0,1679.2 267.4,1687.1 267.9,1681.8 268.3,1688.9 268.8,1687.2 269.2,1682.3 269.7,1680.8 270.1,1680.4 270.6,1679.7 271.0,1690.7 271.5,1690.8 271.9,1690.3 272.4,1685.1 272.8,1686.5 273.3,1686.2 273.7,1686.3 274.2,1681.8 274.6,1688.5 275.1,1690.6 275.5,1686.7 276.0,1691.6 276.4,1691.7 276.9,1690.2 277.3,1685.7 277.8,1688.5 278.2,1680.0 278.7,1683.9 279.1,1686.2 279.6,1685.0 280.0,1687.0 280.5,1688.8 280.9,1686.6 281.4,1683.8 281.8,1680.8 282.3,1685.7 282.7,1685.8 283.2,1679.3 283.6,1678.8 284.1,1678.4 284.5,1679.5 285.0,1676.3 285.4,1681.2 285.9,1681.8 286.3,1688.1 286.8,1678.8 287.2,1681.5 287.7,1687.1 288.1,1686.6 288.6,1681.0 289.0,1683.8 289.5,1678.0 289.9,1680.3 290.4,1684.9 290.8,1681.9 291.3,1679.3 291.7,1678.7 292.2,1680.9 292.6,1683.2 293.1,1682.4 293.5,1682.3 294.0,1685.3 294.4,1682.9 294.9,1680.5 295.3,1679.5 295.8,1682.0 296.2,1687.0 296.7,1678.2 297.1,1683.1 297.6,1683.7 298.0,1679.6 298.5,1677.3 298.9,1680.7 299.4,1680.5 299.8,1679.1 300.3,1681.2 300.7,1678.3 301.2,1682.6 301.6,1678.2 302.1,1675.0 302.5,1672.1 303.0,1673.4 303.4,1677.4 303.9,1672.8 304.3,1670.0 304.8,1672.7 305.2,1671.6 305.7,1674.3 306.1,1675.4 306.6,1678.0 307.0,1682.3 307.5,1681.2 307.9,1679.1 308.4,1678.3 308.8,1671.2 309.3,1683.9 309.7,1681.2 310.2,1676.9 310.6,1677.9 311.1,1680.6 311.5,1677.8 312.0,1675.3 312.4,1679.6 312.9,1680.8 313.3,1683.4 313.8,1676.6 314.2,1679.3 314.7,1684.0 315.1,1681.8 315.6,1684.1 316.0,1677.9 316.5,1675.2 316.9,1675.4 317.4,1678.4 317.8,1679.2 318.3,1680.8 318.7,1680.5 319.2,1679.1 319.6,1676.4 320.1,1674.9 320.5,1674.0 321.0,1674.7 321.4,1679.5 321.9,1677.3 322.3,1679.0 322.8,1679.5 323.2,1681.6 323.7,1675.2 324.1,1680.7 324.6,1679.8 325.0,1677.4 325.5,1681.5 325.9,1676.3 326.4,1684.1 326.8,1684.2 327.3,1687.0 327.7,1685.0 328.2,1684.3 328.6,1682.3 329.1,1681.5 329.5,1682.3 330.0,1688.4 330.4,1687.6 330.9,1689.1 331.3,1687.0 331.8,1681.6 332.2,1686.1 332.7,1687.2 333.1,1689.8 333.6,1688.3 334.0,1687.2 334.5,1682.5 334.9,1686.9 335.4,1684.7 335.8,1685.3 336.3,1689.0 336.7,1688.6 337.2,1688.3 337.6,1686.9 338.1,1689.9 338.5,1691.5 339.0,1693.7 339.4,1695.8 339.9,1693.9 340.3,1693.9 340.8,1692.3 341.2,1691.7 341.7,1686.2 342.1,1684.0 342.6,1685.6 343.0,1685.4 343.5,1690.3 343.9,1689.5 344.4,1700.6 344.8,1691.3 345.3,1690.7 345.7,1692.7 346.2,1693.2 346.6,1692.0 347.1,1691.6 347.5,1694.6 348.0,1700.2 348.4,1697.5 348.9,1699.3 349.3,1693.7 349.8,1693.2 350.2,1694.4 350.7,1692.0 351.1,1697.0 351.6,1690.1 352.0,1692.7 352.5,1690.0 352.9,1692.4 353.4,1700.8 353.8,1700.6 354.3,1701.2 354.7,1697.3 355.2,1701.6 355.6,1701.0 356.1,1697.5 356.5,1692.1 357.0,1694.3 357.4,1699.6 357.9,1698.9 358.3,1701.7 358.8,1692.9 359.2,1696.4 359.7,1694.6 360.1,1696.6 360.6,1701.8 361.0,1696.3 361.5,1702.8 361.9,1698.2 362.4,1700.3 362.8,1704.5 363.3,1698.4 363.7,1700.3 364.2,1700.7 364.6,1706.3 365.1,1705.3 365.5,1700.7 366.0,1700.4 366.4,1699.3 366.9,1698.2 367.3,1702.6 367.8,1702.5 368.2,1703.3 368.7,1699.6 369.1,1701.3 369.6,1700.4 370.0,1706.0 370.5,1708.0 370.9,1706.9 371.4,1704.3 371.8,1708.2 372.3,1704.8 372.7,1702.3 373.2,1702.9 373.6,1707.6 374.1,1700.4 374.5,1703.6 375.0,1698.7 375.4,1697.5 375.9,1697.4 376.3,1700.6 376.8,1705.6 377.2,1704.1 377.7,1706.1 378.1,1706.8 378.6,1702.7 379.0,1702.6 379.5,1702.5 379.9,1706.1 380.4,1706.5 380.8,1709.3 381.3,1708.2 381.7,1707.7 382.2,1704.9 382.6,1702.0 383.1,1705.9 383.5,1711.5 384.0,1705.3 384.4,1701.9 384.9,1708.3 385.3,1705.6 385.8,1704.1 386.2,1701.5 386.7,1707.2 387.1,1706.1 387.6,1703.4 388.0,1704.0 388.5,1705.1 388.9,1703.2 389.4,1708.3 389.8,1705.4 390.3,1705.7 390.7,1711.4 391.2,1712.9 391.6,1709.2 392.1,1709.3 392.5,1706.6 393.0,1702.2 393.4,1708.9 393.9,1707.4 394.3,1705.4 394.8,1702.6 395.2,1706.9 395.7,1709.6 396.1,1710.9 396.6,1707.1 397.0,1710.4 397.5,1704.8 397.9,1704.5 398.4,1705.6 398.8,1709.2 399.3,1703.7 399.7,1708.0 400.2,1707.8 400.6,1708.1 401.1,1706.7 401.5,1708.1 402.0,1705.1 402.4,1709.3 402.9,1706.5 403.3,1706.6 403.8,1712.0 404.2,1709.6 404.7,1707.8 405.1,1709.9 405.6,1711.1 406.0,1714.1 406.5,1713.0 406.9,1712.1 407.4,1712.2 407.8,1712.2 408.3,1705.7 408.7,1711.2 409.2,1713.2 409.6,1713.0 410.1,1710.5 410.5,1710.3 411.0,1706.3 411.4,1709.0 411.9,1710.7 412.3,1712.8 412.8,1714.3 413.2,1710.8 413.7,1709.8 414.1,1711.8 414.6,1705.2 415.0,1706.1 415.5,1708.4 415.9,1702.4 416.4,1711.1 416.8,1715.1 417.3,1711.0 417.7,1706.9 418.2,1712.5 418.6,1711.1 419.1,1712.4 419.5,1708.5 420.0,1708.3 420.4,1708.6 420.9,1709.8 421.3,1707.9 421.8,1705.6 422.2,1710.2 422.7,1713.1 423.1,1708.9 423.6,1712.0 424.0,1706.7 424.5,1705.9 424.9,1706.3 425.4,1704.3 425.8,1709.1 426.3,1708.0 426.7,1699.9 427.2,1702.7 427.6,1707.3 428.1,1707.4 428.5,1711.7 429.0,1706.8 429.4,1708.2 429.9,1706.6 430.3,1708.8 430.8,1708.8 431.2,1705.2 431.7,1706.8 432.1,1704.8 432.6,1706.8 433.0,1701.8 433.5,1700.9 433.9,1704.4 434.4,1702.8 434.8,1699.7 435.3,1704.4 435.7,1707.6 436.2,1702.3 436.6,1705.3 437.1,1706.3 437.5,1700.5 438.0,1699.5 438.4,1700.8 438.9,1700.6 439.3,1705.1 439.8,1702.6 440.2,1704.8 440.7,1705.8 441.1,1702.9 441.6,1700.7 442.0,1701.3 442.5,1706.2 442.9,1705.9 443.4,1705.2 443.8,1706.0 444.3,1700.8 444.7,1700.3 445.2,1703.5 445.6,1700.6 446.1,1695.6 446.5,1701.7 447.0,1704.2 447.4,1698.0 447.9,1701.4 448.3,1704.4 448.8,1704.2 449.2,1702.2 449.7,1703.4 450.1,1702.4 450.6,1699.5 451.0,1705.8 451.5,1703.0 451.9,1705.0 452.4,1708.3 452.8,1705.1 453.3,1706.4 453.7,1707.7 454.2,1706.6 454.6,1697.0 455.1,1702.6 455.5,1700.4 456.0,1699.8 456.4,1699.4 456.9,1696.1 457.3,1698.9 457.8,1699.8 458.2,1701.4 458.7,1704.5 459.1,1700.5 459.6,1701.8 460.0,1706.2 460.5,1702.0 460.9,1701.8 461.4,1705.6 461.8,1707.5 462.3,1702.4 462.7,1699.5 463.2,1700.1 463.6,1699.1 464.1,1697.3 464.5,1703.8 465.0,1706.7 465.4,1707.8 465.9,1704.8 466.3,1699.5 466.8,1704.8 467.2,1703.4 467.7,1704.4 468.1,1703.8 468.6,1699.0 469.0,1700.9 469.5,1705.0 469.9,1703.8 470.4,1707.3 470.8,1704.1 471.3,1705.9 471.7,1699.7 472.2,1702.6 472.6,1703.9 473.1,1703.6 473.5,1700.1 474.0,1700.8 474.4,1705.2 474.9,1700.8 475.3,1703.9 475.8,1702.7 476.2,1704.1 476.7,1704.7 477.1,1700.2 477.6,1699.7 478.0,1702.3 478.5,1705.0 478.9,1704.2 479.4,1705.8 479.8,1704.1 480.3,1709.6 480.7,1705.5 481.2,1705.6 481.6,1706.4 482.1,1702.9 482.5,1697.8 483.0,1698.5 483.4,1704.0 483.9,1705.3 484.3,1703.5 484.8,1706.2 485.2,1701.2 485.7,1703.3 486.1,1708.3 486.6,1709.5 487.0,1703.4 487.5,1705.9 487.9,1701.9 488.4,1705.3 488.8,1704.4 489.3,1706.2 489.7,1705.5 490.2,1706.8 490.6,1704.0 491.1,1708.0 491.5,1703.3 492.0,1700.4 492.4,1700.8 492.9,1703.9 493.3,1704.7 493.8,1704.4 494.2,1706.9 494.7,1705.2 495.1,1708.6 495.6,1701.5 496.0,1704.0 496.5,1702.6 496.9,1702.2 497.4,1705.4 497.8,1704.6 498.3,1703.8 498.7,1707.8 499.2,1707.4 499.6,1710.8 500.1,1710.6 500.5,1709.2 501.0,1709.8 501.4,1707.0 501.9,1702.4 502.3,1704.3 502.8,1707.0 503.2,1708.7 503.7,1704.7 504.1,1703.3 504.6,1708.2 505.0,1710.1 505.5,1707.3 505.9,1705.5 506.4,1711.7 506.8,1711.9 507.3,1704.5 507.7,1704.5 508.2,1712.8 508.6,1703.7 509.1,1701.5 509.5,1704.1 510.0,1706.0 510.4,1701.6 510.9,1704.8 511.3,1705.9 511.8,1702.7 512.2,1705.8 512.7,1705.3 513.1,1696.7 513.6,1699.7 514.0,1706.0 514.5,1704.4 514.9,1703.5 515.4,1711.8 515.8,1703.5 516.3,1705.7 516.7,1710.9 517.2,1712.3 517.6,1708.6 518.1,1705.5 518.5,1706.1 519.0,1703.0 519.4,1701.6 519.9,1699.4 520.3,1698.1 520.8,1698.7 521.2,1700.7 521.7,1704.6 522.1,1706.6 522.6,1711.2 523.0,1715.7 523.5,1707.6 523.9,1706.8 524.4,1707.9 524.8,1706.3 525.3,1705.8 525.7,1707.2 526.2,1702.8 526.6,1699.1 527.1,1703.4 527.5,1709.2 528.0,1704.8 528.4,1700.8 528.9,1699.4 529.3,1702.4 529.8,1704.3 530.2,1698.8 530.7,1702.7 531.1,1705.8 531.6,1704.8 532.0,1706.0 532.5,1705.8 532.9,1708.8 533.4,1708.9 533.8,1703.1 534.3,1703.2 534.7,1702.0 535.2,1707.8 535.6,1703.9 536.1,1702.6 536.5,1704.6 537.0,1703.1 537.4,1702.0 537.9,1709.2 538.3,1705.9 538.8,1703.3 539.2,1705.1 539.7,1705.6 540.1,1709.0 540.6,1708.6 541.0,1704.0 541.5,1707.5 541.9,1706.8 542.4,1704.3 542.8,1705.0 543.3,1700.1 543.7,1703.1 544.2,1703.8 544.6,1706.0 545.1,1707.2 545.5,1702.1 546.0,1701.6 546.4,1705.2 546.9,1703.5 547.3,1704.2 547.8,1706.3 548.2,1705.2 548.7,1703.0 549.1,1705.4 549.6,1705.0 550.0,1703.1 550.5,1705.9 550.9,1706.8 551.4,1702.8 551.8,1706.1 552.3,1701.8 552.7,1699.5 553.2,1704.7 553.6,1707.5 554.1,1713.9 554.5,1708.0 555.0,1704.7 555.4,1706.0 555.9,1703.3 556.3,1699.2 556.8,1695.9 557.2,1697.6 557.7,1695.2 558.1,1705.7 558.6,1707.9 559.0,1702.9 559.5,1703.3 559.9,1700.9 560.4,1702.3 560.8,1705.6 561.3,1703.8 561.7,1704.6 562.2,1701.4 562.6,1704.8 563.1,1702.8 563.5,1703.0 564.0,1709.6 564.4,1712.4 564.9,1710.0 565.3,1706.6 565.8,1705.6 566.2,1706.2 566.7,1710.1 567.1,1708.0 567.6,1704.8 568.0,1705.5 568.5,1704.5 568.9,1707.6 569.4,1709.4 569.8,1706.7 570.3,1705.0 570.7,1707.9 571.2,1710.2 571.6,1715.3 572.1,1712.0 572.5,1709.4 573.0,1700.8 573.4,1704.2 573.9,1705.5 574.3,1700.2 574.8,1699.1 575.2,1704.4 575.7,1704.9 576.1,1707.7 576.6,1710.1 577.0,1708.1 577.5,1706.9 577.9,1704.1 578.4,1709.1 578.8,1714.4 579.3,1710.5 579.7,1711.6 580.2,1710.4 580.6,1706.5 581.1,1705.1 581.5,1704.8 582.0,1706.3 582.4,1704.5 582.9,1705.3 583.3,1707.3 583.8,1715.8 584.2,1713.5 584.7,1714.1" fill="none" stroke="#A09FA6" stroke-width="4.6" stroke-linejoin="round" stroke-linecap="round"/>
<polyline points="177.0,1652.7 177.4,1653.3 177.9,1650.1 178.3,1654.2 178.8,1650.7 179.2,1652.8 179.7,1654.1 180.1,1655.0 180.6,1654.5 181.0,1652.8 181.5,1652.7 181.9,1650.7 182.4,1647.3 182.8,1647.9 183.3,1652.0 183.7,1651.7 184.2,1651.3 184.6,1656.0 185.1,1651.3 185.5,1652.9 186.0,1653.3 186.4,1654.3 186.9,1649.3 187.3,1650.8 187.8,1652.6 188.2,1649.9 188.7,1649.4 189.1,1649.0 189.6,1650.3 190.0,1650.3 190.5,1653.4 190.9,1653.2 191.4,1654.4 191.8,1655.6 192.3,1652.0 192.7,1650.7 193.2,1651.6 193.6,1652.8 194.1,1648.6 194.5,1648.2 195.0,1651.7 195.4,1651.1 195.9,1652.2 196.3,1648.6 196.8,1651.2 197.2,1652.6 197.7,1654.9 198.1,1651.4 198.6,1655.3 199.0,1649.0 199.5,1651.4 199.9,1653.5 200.4,1653.1 200.8,1651.8 201.3,1653.4 201.7,1650.5 202.2,1655.3 202.6,1651.7 203.1,1650.3 203.5,1649.8 204.0,1651.4 204.4,1653.6 204.9,1652.4 205.3,1651.0 205.8,1651.6 206.2,1650.0 206.7,1656.2 207.1,1651.2 207.6,1651.8 208.0,1652.7 208.5,1650.8 208.9,1652.6 209.4,1647.9 209.8,1649.4 210.3,1653.6 210.7,1654.0 211.2,1653.4 211.6,1646.3 212.1,1648.1 212.5,1650.9 213.0,1647.8 213.4,1653.2 213.9,1654.4 214.3,1652.7 214.8,1654.6 215.2,1658.0 215.7,1652.4 216.1,1652.8 216.6,1653.6 217.0,1650.2 217.5,1655.4 217.9,1650.6 218.4,1652.4 218.8,1653.0 219.3,1653.1 219.7,1654.2 220.2,1651.0 220.6,1652.4 221.1,1653.9 221.5,1651.3 222.0,1652.2 222.4,1650.3 222.9,1652.3 223.3,1653.5 223.8,1648.7 224.2,1645.3 224.7,1644.7 225.1,1645.2 225.6,1650.3 226.0,1650.7 226.5,1656.7 226.9,1656.3 227.4,1648.6 227.8,1650.5 228.3,1655.1 228.7,1650.2 229.2,1648.8 229.6,1650.6 230.1,1650.1 230.5,1650.1 231.0,1651.2 231.4,1649.7 231.9,1649.3 232.3,1646.7 232.8,1647.7 233.2,1649.2 233.7,1647.6 234.1,1645.7 234.6,1652.0 235.0,1651.4 235.5,1647.8 235.9,1648.9 236.4,1653.0 236.8,1653.0 237.3,1650.6 237.7,1648.6 238.2,1647.7 238.6,1648.6 239.1,1647.0 239.5,1648.2 240.0,1650.6 240.4,1654.6 240.9,1651.9 241.3,1655.1 241.8,1652.4 242.2,1650.2 242.7,1652.2 243.1,1650.3 243.6,1651.7 244.0,1651.1 244.5,1653.5 244.9,1654.4 245.4,1654.5 245.8,1650.1 246.3,1655.5 246.7,1648.1 247.2,1652.4 247.6,1650.8 248.1,1653.1 248.5,1652.5 249.0,1655.3 249.4,1653.8 249.9,1653.4 250.3,1649.7 250.8,1653.8 251.2,1654.4 251.7,1652.4 252.1,1648.2 252.6,1651.6 253.0,1652.0 253.5,1650.2 253.9,1651.0 254.4,1656.2 254.8,1652.4 255.3,1652.2 255.7,1653.8 256.2,1653.4 256.6,1656.3 257.1,1650.5 257.5,1653.4 258.0,1649.8 258.4,1652.3 258.9,1646.7 259.3,1646.8 259.8,1648.6 260.2,1645.6 260.7,1645.5 261.1,1650.2 261.6,1644.3 262.0,1644.2 262.5,1640.6 262.9,1647.1 263.4,1648.7 263.8,1645.0 264.3,1639.3 264.7,1640.7 265.2,1638.4 265.6,1640.1 266.1,1641.5 266.5,1640.0 267.0,1639.8 267.4,1639.9 267.9,1643.5 268.3,1641.2 268.8,1642.2 269.2,1640.6 269.7,1640.5 270.1,1636.6 270.6,1636.8 271.0,1635.4 271.5,1635.1 271.9,1636.3 272.4,1638.8 272.8,1639.9 273.3,1637.5 273.7,1638.5 274.2,1637.9 274.6,1638.9 275.1,1637.6 275.5,1638.7 276.0,1640.8 276.4,1636.7 276.9,1638.0 277.3,1638.9 277.8,1634.2 278.2,1630.4 278.7,1637.3 279.1,1633.9 279.6,1629.0 280.0,1634.4 280.5,1634.7 280.9,1630.8 281.4,1630.8 281.8,1639.8 282.3,1636.1 282.7,1634.8 283.2,1637.0 283.6,1634.0 284.1,1633.1 284.5,1632.6 285.0,1631.5 285.4,1637.3 285.9,1633.4 286.3,1634.3 286.8,1629.4 287.2,1628.6 287.7,1629.4 288.1,1635.4 288.6,1639.0 289.0,1637.2 289.5,1639.3 289.9,1635.8 290.4,1631.8 290.8,1635.7 291.3,1630.2 291.7,1632.9 292.2,1632.6 292.6,1631.4 293.1,1632.5 293.5,1633.6 294.0,1632.7 294.4,1631.6 294.9,1629.6 295.3,1631.5 295.8,1634.3 296.2,1637.8 296.7,1633.8 297.1,1635.7 297.6,1633.8 298.0,1629.3 298.5,1630.5 298.9,1630.6 299.4,1633.3 299.8,1636.2 300.3,1636.0 300.7,1636.9 301.2,1632.8 301.6,1634.9 302.1,1634.1 302.5,1634.4 303.0,1630.9 303.4,1635.2 303.9,1637.8 304.3,1633.4 304.8,1633.4 305.2,1629.5 305.7,1632.9 306.1,1632.1 306.6,1630.4 307.0,1633.5 307.5,1633.9 307.9,1634.6 308.4,1633.7 308.8,1633.9 309.3,1632.1 309.7,1636.4 310.2,1636.9 310.6,1634.1 311.1,1631.4 311.5,1629.9 312.0,1626.5 312.4,1629.8 312.9,1628.6 313.3,1637.5 313.8,1631.0 314.2,1636.7 314.7,1633.2 315.1,1636.4 315.6,1636.6 316.0,1634.7 316.5,1635.5 316.9,1632.6 317.4,1629.9 317.8,1629.3 318.3,1629.1 318.7,1629.6 319.2,1625.9 319.6,1628.5 320.1,1633.5 320.5,1619.5 321.0,1624.2 321.4,1618.0 321.9,1613.8 322.3,1607.3 322.8,1611.3 323.2,1608.5 323.7,1609.8 324.1,1613.3 324.6,1614.4 325.0,1610.6 325.5,1614.0 325.9,1611.7 326.4,1610.9 326.8,1611.6 327.3,1611.6 327.7,1614.2 328.2,1618.5 328.6,1610.6 329.1,1611.9 329.5,1618.0 330.0,1618.0 330.4,1617.0 330.9,1617.0 331.3,1614.6 331.8,1612.1 332.2,1608.5 332.7,1612.4 333.1,1613.5 333.6,1609.9 334.0,1611.3 334.5,1608.5 334.9,1613.8 335.4,1615.8 335.8,1617.7 336.3,1617.2 336.7,1617.6 337.2,1622.1 337.6,1615.7 338.1,1614.3 338.5,1615.7 339.0,1615.1 339.4,1616.5 339.9,1616.5 340.3,1618.4 340.8,1616.5 341.2,1616.8 341.7,1616.6 342.1,1622.6 342.6,1618.4 343.0,1615.3 343.5,1613.0 343.9,1616.2 344.4,1611.6 344.8,1613.4 345.3,1612.4 345.7,1615.5 346.2,1619.0 346.6,1619.5 347.1,1617.2 347.5,1617.2 348.0,1616.8 348.4,1614.7 348.9,1610.2 349.3,1610.6 349.8,1614.6 350.2,1615.1 350.7,1617.3 351.1,1622.9 351.6,1615.5 352.0,1615.9 352.5,1617.0 352.9,1613.3 353.4,1612.7 353.8,1614.9 354.3,1614.4 354.7,1616.6 355.2,1616.6 355.6,1615.0 356.1,1614.6 356.5,1617.1 357.0,1617.8 357.4,1622.7 357.9,1620.9 358.3,1621.5 358.8,1613.4 359.2,1618.2 359.7,1615.6 360.1,1616.3 360.6,1611.4 361.0,1616.0 361.5,1619.2 361.9,1618.8 362.4,1618.8 362.8,1619.0 363.3,1614.5 363.7,1611.2 364.2,1613.9 364.6,1615.8 365.1,1621.4 365.5,1619.6 366.0,1619.3 366.4,1613.9 366.9,1614.1 367.3,1617.4 367.8,1615.9 368.2,1618.7 368.7,1620.9 369.1,1621.2 369.6,1616.1 370.0,1618.0 370.5,1619.0 370.9,1618.4 371.4,1617.1 371.8,1614.2 372.3,1616.8 372.7,1616.0 373.2,1620.4 373.6,1617.1 374.1,1618.3 374.5,1622.7 375.0,1620.0 375.4,1620.6 375.9,1622.3 376.3,1621.3 376.8,1617.9 377.2,1620.4 377.7,1620.8 378.1,1625.0 378.6,1624.4 379.0,1624.0 379.5,1619.2 379.9,1619.9 380.4,1619.9 380.8,1623.8 381.3,1622.8 381.7,1622.2 382.2,1623.1 382.6,1624.7 383.1,1624.3 383.5,1626.3 384.0,1626.4 384.4,1623.3 384.9,1616.9 385.3,1622.7 385.8,1620.9 386.2,1624.4 386.7,1626.9 387.1,1623.3 387.6,1622.6 388.0,1624.2 388.5,1624.4 388.9,1623.1 389.4,1624.1 389.8,1625.2 390.3,1621.6 390.7,1624.8 391.2,1623.8 391.6,1624.2 392.1,1620.8 392.5,1621.8 393.0,1620.5 393.4,1624.2 393.9,1619.2 394.3,1624.4 394.8,1621.5 395.2,1621.7 395.7,1624.4 396.1,1614.9 396.6,1624.5 397.0,1624.2 397.5,1628.0 397.9,1629.2 398.4,1628.8 398.8,1628.9 399.3,1631.5 399.7,1630.6 400.2,1629.6 400.6,1630.4 401.1,1631.0 401.5,1627.9 402.0,1624.0 402.4,1625.3 402.9,1624.9 403.3,1627.1 403.8,1622.9 404.2,1628.3 404.7,1630.6 405.1,1627.8 405.6,1624.9 406.0,1625.4 406.5,1625.7 406.9,1625.0 407.4,1626.9 407.8,1629.0 408.3,1632.8 408.7,1628.2 409.2,1628.2 409.6,1627.0 410.1,1622.2 410.5,1625.9 411.0,1627.8 411.4,1629.9 411.9,1631.4 412.3,1626.4 412.8,1628.7 413.2,1622.7 413.7,1627.7 414.1,1630.9 414.6,1630.1 415.0,1628.9 415.5,1627.8 415.9,1631.2 416.4,1626.2 416.8,1632.0 417.3,1636.5 417.7,1628.3 418.2,1630.2 418.6,1629.9 419.1,1631.8 419.5,1635.0 420.0,1634.7 420.4,1634.0 420.9,1635.7 421.3,1636.4 421.8,1641.1 422.2,1641.1 422.7,1641.8 423.1,1639.7 423.6,1640.8 424.0,1639.3 424.5,1635.4 424.9,1638.8 425.4,1636.5 425.8,1636.2 426.3,1637.9 426.7,1641.2 427.2,1643.3 427.6,1638.2 428.1,1639.3 428.5,1635.1 429.0,1633.4 429.4,1634.5 429.9,1636.3 430.3,1634.9 430.8,1635.8 431.2,1638.5 431.7,1637.3 432.1,1638.7 432.6,1636.7 433.0,1634.0 433.5,1634.8 433.9,1636.4 434.4,1633.4 434.8,1631.8 435.3,1633.7 435.7,1636.5 436.2,1638.7 436.6,1635.8 437.1,1638.2 437.5,1637.3 438.0,1639.4 438.4,1637.0 438.9,1637.2 439.3,1635.8 439.8,1635.8 440.2,1635.2 440.7,1629.9 441.1,1637.1 441.6,1636.2 442.0,1639.2 442.5,1639.8 442.9,1637.2 443.4,1636.3 443.8,1635.1 444.3,1632.8 444.7,1635.9 445.2,1637.3 445.6,1634.7 446.1,1635.8 446.5,1639.3 447.0,1638.0 447.4,1636.7 447.9,1635.9 448.3,1632.9 448.8,1630.8 449.2,1637.4 449.7,1637.1 450.1,1639.1 450.6,1640.9 451.0,1639.1 451.5,1642.2 451.9,1639.6 452.4,1636.8 452.8,1632.7 453.3,1634.2 453.7,1635.1 454.2,1641.2 454.6,1634.8 455.1,1630.0 455.5,1634.3 456.0,1636.3 456.4,1634.8 456.9,1632.1 457.3,1635.5 457.8,1636.8 458.2,1640.2 458.7,1637.2 459.1,1640.1 459.6,1635.1 460.0,1636.4 460.5,1638.9 460.9,1640.6 461.4,1642.5 461.8,1641.1 462.3,1642.9 462.7,1640.2 463.2,1644.3 463.6,1642.2 464.1,1639.4 464.5,1637.3 465.0,1637.4 465.4,1642.1 465.9,1637.8 466.3,1637.0 466.8,1638.1 467.2,1643.0 467.7,1643.6 468.1,1645.9 468.6,1644.6 469.0,1641.1 469.5,1640.1 469.9,1640.3 470.4,1643.5 470.8,1644.0 471.3,1645.3 471.7,1647.7 472.2,1648.3 472.6,1648.2 473.1,1646.4 473.5,1647.6 474.0,1642.1 474.4,1647.5 474.9,1645.8 475.3,1642.6 475.8,1647.0 476.2,1646.2 476.7,1647.0 477.1,1647.7 477.6,1647.2 478.0,1650.6 478.5,1655.2 478.9,1652.6 479.4,1651.8 479.8,1649.7 480.3,1651.6 480.7,1649.0 481.2,1652.3 481.6,1651.9 482.1,1648.7 482.5,1654.3 483.0,1650.7 483.4,1651.8 483.9,1647.7 484.3,1650.1 484.8,1650.6 485.2,1650.2 485.7,1652.0 486.1,1652.0 486.6,1656.6 487.0,1659.7 487.5,1657.5 487.9,1655.0 488.4,1652.0 488.8,1650.0 489.3,1649.7 489.7,1653.1 490.2,1651.8 490.6,1653.5 491.1,1649.6 491.5,1649.6 492.0,1650.6 492.4,1647.0 492.9,1649.1 493.3,1650.0 493.8,1652.0 494.2,1652.5 494.7,1651.7 495.1,1651.8 495.6,1653.2 496.0,1650.9 496.5,1650.0 496.9,1651.4 497.4,1651.5 497.8,1653.2 498.3,1653.6 498.7,1654.6 499.2,1653.4 499.6,1650.6 500.1,1652.1 500.5,1654.1 501.0,1650.8 501.4,1650.6 501.9,1652.5 502.3,1654.4 502.8,1652.5 503.2,1650.8 503.7,1657.0 504.1,1654.4 504.6,1652.6 505.0,1651.3 505.5,1649.7 505.9,1651.8 506.4,1652.5 506.8,1653.7 507.3,1655.5 507.7,1652.9 508.2,1653.3 508.6,1652.2 509.1,1650.8 509.5,1648.1 510.0,1653.1 510.4,1650.9 510.9,1652.4 511.3,1654.3 511.8,1651.2 512.2,1652.0 512.7,1655.5 513.1,1654.1 513.6,1652.8 514.0,1655.4 514.5,1655.1 514.9,1650.3 515.4,1649.7 515.8,1653.8 516.3,1652.6 516.7,1650.5 517.2,1651.5 517.6,1655.1 518.1,1653.1 518.5,1649.9 519.0,1651.1 519.4,1656.4 519.9,1652.1 520.3,1646.9 520.8,1651.8 521.2,1653.2 521.7,1652.2 522.1,1652.1 522.6,1653.6 523.0,1658.7 523.5,1655.6 523.9,1655.9 524.4,1655.9 524.8,1649.6 525.3,1651.0 525.7,1653.1 526.2,1651.7 526.6,1656.4 527.1,1654.6 527.5,1657.4 528.0,1652.4 528.4,1650.3 528.9,1653.2 529.3,1651.9 529.8,1649.3 530.2,1648.4 530.7,1648.8 531.1,1647.3 531.6,1646.9 532.0,1651.9 532.5,1653.4 532.9,1649.5 533.4,1649.4 533.8,1651.7 534.3,1651.6 534.7,1652.7 535.2,1653.9 535.6,1651.9 536.1,1650.7 536.5,1650.7 537.0,1653.3 537.4,1655.3 537.9,1652.8 538.3,1650.7 538.8,1650.9 539.2,1652.3 539.7,1653.1 540.1,1654.9 540.6,1654.1 541.0,1654.6 541.5,1649.5 541.9,1653.6 542.4,1648.7 542.8,1651.6 543.3,1653.3 543.7,1652.6 544.2,1652.7 544.6,1652.0 545.1,1653.5 545.5,1653.9 546.0,1654.7 546.4,1653.4 546.9,1648.7 547.3,1649.2 547.8,1651.1 548.2,1651.6 548.7,1651.7 549.1,1649.1 549.6,1654.4 550.0,1653.9 550.5,1648.4 550.9,1650.3 551.4,1653.5 551.8,1650.9 552.3,1651.0 552.7,1651.8 553.2,1649.8 553.6,1654.2 554.1,1652.3 554.5,1647.9 555.0,1651.2 555.4,1653.9 555.9,1654.4 556.3,1649.9 556.8,1648.5 557.2,1651.8 557.7,1653.8 558.1,1657.5 558.6,1656.3 559.0,1654.7 559.5,1650.2 559.9,1654.5 560.4,1653.4 560.8,1657.5 561.3,1651.7 561.7,1650.0 562.2,1651.0 562.6,1653.2 563.1,1651.3 563.5,1657.1 564.0,1657.0 564.4,1655.8 564.9,1652.4 565.3,1653.3 565.8,1656.1 566.2,1651.1 566.7,1652.9 567.1,1654.3 567.6,1653.9 568.0,1653.9 568.5,1653.3 568.9,1654.0 569.4,1655.0 569.8,1656.9 570.3,1654.2 570.7,1651.1 571.2,1649.8 571.6,1652.1 572.1,1653.4 572.5,1653.5 573.0,1654.2 573.4,1656.5 573.9,1649.1 574.3,1648.2 574.8,1651.1 575.2,1652.2 575.7,1652.8 576.1,1651.4 576.6,1651.6 577.0,1653.2 577.5,1652.7 577.9,1648.8 578.4,1646.8 578.8,1648.6 579.3,1649.9 579.7,1649.5 580.2,1655.8 580.6,1652.9 581.1,1652.9 581.5,1652.1 582.0,1653.6 582.4,1654.5 582.9,1654.0 583.3,1655.8 583.8,1649.3 584.2,1654.6 584.7,1656.1 585.1,1652.0 585.6,1648.9 586.0,1651.8 586.5,1650.1 586.9,1650.9 587.4,1646.9 587.8,1651.0 588.3,1650.1 588.7,1653.1 589.2,1654.5 589.6,1651.9 590.1,1650.5 590.5,1646.4 591.0,1649.2 591.4,1648.7 591.9,1651.1 592.3,1646.3 592.8,1651.7 593.2,1652.7 593.7,1651.8 594.1,1652.4 594.6,1653.6 595.0,1654.8 595.5,1655.4 596.0,1648.9 596.4,1651.1 596.9,1650.7 597.3,1650.2 597.8,1648.0 598.2,1647.5 598.7,1647.0 599.1,1648.5 599.6,1645.3 600.0,1648.0 600.5,1649.0 600.9,1648.3 601.4,1643.2 601.8,1649.4 602.3,1649.7 602.7,1646.6 603.2,1649.0 603.6,1650.7 604.1,1649.6 604.5,1649.5 605.0,1649.1 605.4,1650.5 605.9,1648.2 606.3,1651.0" fill="none" stroke="#FBA0A0" stroke-width="4.6" stroke-linejoin="round" stroke-linecap="round"/>
<polyline points="177.0,1678.1 177.4,1680.0 177.9,1681.5 178.3,1680.3 178.8,1680.5 179.2,1681.9 179.7,1680.6 180.1,1679.1 180.6,1678.9 181.0,1679.4 181.5,1681.7 181.9,1683.5 182.4,1682.4 182.8,1679.6 183.3,1679.0 183.7,1681.1 184.2,1680.4 184.6,1682.4 185.1,1681.2 185.5,1679.2 186.0,1679.4 186.4,1678.4 186.9,1681.8 187.3,1681.0 187.8,1681.1 188.2,1681.2 188.7,1680.2 189.1,1679.8 189.6,1680.8 190.0,1680.4 190.5,1680.1 190.9,1683.0 191.4,1683.8 191.8,1683.0 192.3,1680.1 192.7,1682.7 193.2,1681.8 193.6,1679.6 194.1,1684.0 194.5,1682.7 195.0,1680.6 195.4,1681.1 195.9,1683.4 196.3,1681.7 196.8,1681.5 197.2,1682.8 197.7,1683.3 198.1,1682.5 198.6,1683.2 199.0,1682.0 199.5,1680.7 199.9,1680.5 200.4,1679.6 200.8,1679.9 201.3,1680.5 201.7,1684.4 202.2,1682.7 202.6,1682.2 203.1,1678.9 203.5,1682.0 204.0,1682.0 204.4,1684.5 204.9,1684.6 205.3,1683.6 205.8,1682.7 206.2,1679.1 206.7,1679.7 207.1,1679.6 207.6,1680.4 208.0,1679.6 208.5,1679.0 208.9,1679.0 209.4,1677.7 209.8,1678.8 210.3,1678.8 210.7,1678.8 211.2,1676.9 211.6,1677.6 212.1,1675.2 212.5,1676.4 213.0,1678.0 213.4,1677.0 213.9,1676.2 214.3,1679.3 214.8,1678.3 215.2,1677.6 215.7,1677.1 216.1,1677.1 216.6,1674.3 217.0,1674.6 217.5,1671.7 217.9,1672.3 218.4,1667.0 218.8,1664.4 219.3,1659.9 219.7,1659.2 220.2,1656.5 220.6,1650.6 221.1,1645.3 221.5,1645.2 222.0,1644.0 222.4,1644.5 222.9,1644.8 223.3,1642.2 223.8,1644.6 224.2,1642.6 224.7,1639.9 225.1,1640.6 225.6,1640.1 226.0,1639.7 226.5,1637.3 226.9,1637.0 227.4,1638.7 227.8,1639.5 228.3,1638.2 228.7,1638.1 229.2,1638.1 229.6,1640.1 230.1,1639.7 230.5,1639.5 231.0,1638.5 231.4,1636.1 231.9,1639.8 232.3,1640.6 232.8,1642.7 233.2,1642.2 233.7,1644.2 234.1,1647.1 234.6,1644.9 235.0,1644.6 235.5,1642.9 235.9,1644.1 236.4,1643.3 236.8,1643.3 237.3,1642.9 237.7,1644.6 238.2,1645.7 238.6,1645.1 239.1,1644.0 239.5,1648.0 240.0,1646.3 240.4,1645.7 240.9,1646.1 241.3,1644.0 241.8,1645.6 242.2,1647.3 242.7,1647.0 243.1,1646.1 243.6,1646.0 244.0,1647.7 244.5,1649.6 244.9,1648.0 245.4,1649.5 245.8,1652.4 246.3,1648.1 246.7,1650.0 247.2,1648.2 247.6,1649.9 248.1,1651.2 248.5,1648.1 249.0,1646.9 249.4,1645.8 249.9,1650.4 250.3,1652.6 250.8,1654.4 251.2,1653.4 251.7,1653.9 252.1,1651.6 252.6,1652.5 253.0,1653.3 253.5,1652.0 253.9,1655.5 254.4,1653.6 254.8,1655.0 255.3,1654.2 255.7,1653.5 256.2,1651.9 256.6,1651.3 257.1,1653.1 257.5,1652.2 258.0,1653.9 258.4,1654.6 258.9,1654.5 259.3,1654.3 259.8,1657.1 260.2,1657.3 260.7,1653.9 261.1,1654.2 261.6,1655.5 262.0,1653.4 262.5,1653.2 262.9,1655.2 263.4,1656.1 263.8,1655.8 264.3,1658.1 264.7,1660.7 265.2,1661.6 265.6,1658.7 266.1,1657.3 266.5,1659.6 267.0,1658.7 267.4,1659.2 267.9,1657.4 268.3,1660.2 268.8,1661.0 269.2,1661.6 269.7,1660.1 270.1,1662.7 270.6,1664.0 271.0,1664.7 271.5,1663.2 271.9,1661.8 272.4,1663.7 272.8,1665.9 273.3,1666.0 273.7,1667.0 274.2,1668.5 274.6,1666.3 275.1,1667.4 275.5,1666.8 276.0,1670.2 276.4,1668.8 276.9,1669.1 277.3,1668.5 277.8,1667.3 278.2,1668.6 278.7,1668.9 279.1,1670.3 279.6,1668.3 280.0,1667.3 280.5,1667.0 280.9,1671.0 281.4,1672.5 281.8,1671.2 282.3,1669.6 282.7,1668.8 283.2,1668.8 283.6,1669.9 284.1,1672.1 284.5,1672.2 285.0,1672.0 285.4,1670.6 285.9,1673.1 286.3,1672.8 286.8,1675.3 287.2,1675.3 287.7,1674.1 288.1,1672.6 288.6,1669.5 289.0,1671.0 289.5,1673.2 289.9,1671.1 290.4,1669.9 290.8,1669.2 291.3,1670.1 291.7,1670.3 292.2,1670.0 292.6,1669.7 293.1,1669.8 293.5,1668.7 294.0,1671.0 294.4,1668.0 294.9,1669.8 295.3,1669.7 295.8,1670.0 296.2,1671.4 296.7,1668.9 297.1,1668.5 297.6,1668.8 298.0,1670.1 298.5,1671.4 298.9,1668.8 299.4,1669.6 299.8,1669.6 300.3,1668.6 300.7,1669.7 301.2,1671.0 301.6,1670.2 302.1,1670.9 302.5,1668.7 303.0,1673.1 303.4,1674.1 303.9,1671.9 304.3,1672.2 304.8,1670.5 305.2,1671.6 305.7,1672.4 306.1,1674.6 306.6,1674.9 307.0,1674.4 307.5,1675.0 307.9,1674.5 308.4,1674.1 308.8,1673.3 309.3,1670.9 309.7,1669.6 310.2,1670.7 310.6,1669.9 311.1,1669.9 311.5,1673.1 312.0,1675.6 312.4,1673.2 312.9,1672.3 313.3,1673.2 313.8,1669.7 314.2,1673.0 314.7,1673.9 315.1,1672.1 315.6,1673.5 316.0,1673.9 316.5,1673.0 316.9,1673.0 317.4,1672.4 317.8,1671.4 318.3,1673.3 318.7,1673.9 319.2,1673.4 319.6,1671.3 320.1,1674.2 320.5,1674.5 321.0,1676.2 321.4,1678.1 321.9,1675.9 322.3,1674.7 322.8,1671.9 323.2,1671.8 323.7,1673.6 324.1,1672.6 324.6,1673.1 325.0,1670.5 325.5,1672.1 325.9,1673.7 326.4,1674.7 326.8,1673.7 327.3,1676.7 327.7,1676.1 328.2,1677.4 328.6,1675.9 329.1,1675.8 329.5,1673.1 330.0,1674.8 330.4,1673.6 330.9,1675.0 331.3,1676.8 331.8,1675.1 332.2,1675.0 332.7,1678.5 333.1,1677.8 333.6,1679.4 334.0,1677.0 334.5,1677.7 334.9,1676.8 335.4,1676.2 335.8,1676.6 336.3,1674.7 336.7,1674.1 337.2,1674.1 337.6,1676.9 338.1,1677.1 338.5,1676.9 339.0,1677.2 339.4,1675.7 339.9,1679.0 340.3,1677.7 340.8,1674.4 341.2,1675.2 341.7,1676.2 342.1,1676.9 342.6,1678.9 343.0,1676.9 343.5,1679.0 343.9,1678.9 344.4,1679.6 344.8,1680.4 345.3,1678.8 345.7,1676.9 346.2,1676.2 346.6,1677.1 347.1,1678.6 347.5,1678.4 348.0,1678.6 348.4,1675.6 348.9,1673.6 349.3,1676.2 349.8,1675.3 350.2,1675.8 350.7,1674.7 351.1,1675.5 351.6,1676.4 352.0,1677.0 352.5,1677.9 352.9,1676.8 353.4,1677.6 353.8,1678.6 354.3,1677.4 354.7,1677.9 355.2,1676.4 355.6,1678.1 356.1,1677.8 356.5,1677.7 357.0,1675.9 357.4,1677.8 357.9,1673.6 358.3,1675.8 358.8,1675.5 359.2,1678.6 359.7,1679.8 360.1,1679.4 360.6,1677.1 361.0,1677.8 361.5,1678.0 361.9,1677.0 362.4,1674.8 362.8,1675.6 363.3,1676.0 363.7,1674.3 364.2,1676.2 364.6,1676.0 365.1,1678.6 365.5,1677.0 366.0,1676.6 366.4,1676.4 366.9,1678.1 367.3,1674.9 367.8,1675.8 368.2,1675.7 368.7,1674.4 369.1,1673.7 369.6,1674.4 370.0,1677.0 370.5,1678.9 370.9,1678.9 371.4,1677.5 371.8,1678.8 372.3,1676.8 372.7,1676.5 373.2,1676.7 373.6,1678.4 374.1,1676.8 374.5,1675.2 375.0,1677.1 375.4,1676.4 375.9,1676.4 376.3,1678.0 376.8,1677.3 377.2,1674.6 377.7,1673.2 378.1,1673.4 378.6,1674.4 379.0,1676.8 379.5,1676.9 379.9,1676.0 380.4,1676.4 380.8,1675.3 381.3,1675.7 381.7,1676.4 382.2,1677.8 382.6,1676.1 383.1,1674.8 383.5,1675.1 384.0,1673.1 384.4,1674.9 384.9,1675.2 385.3,1676.1 385.8,1676.2 386.2,1675.4 386.7,1676.7 387.1,1677.3 387.6,1679.0 388.0,1677.1 388.5,1678.4 388.9,1679.0 389.4,1676.6 389.8,1676.4 390.3,1676.0 390.7,1677.1 391.2,1680.2 391.6,1679.3 392.1,1679.3 392.5,1680.0 393.0,1678.0 393.4,1677.5 393.9,1677.6 394.3,1679.3 394.8,1677.5 395.2,1679.4 395.7,1680.9 396.1,1679.1 396.6,1676.1 397.0,1676.4 397.5,1678.0 397.9,1677.7 398.4,1677.9 398.8,1675.3 399.3,1673.4 399.7,1676.0 400.2,1674.3 400.6,1675.6 401.1,1676.9 401.5,1677.4 402.0,1677.1 402.4,1674.6 402.9,1674.1 403.3,1676.2 403.8,1678.5 404.2,1680.1 404.7,1681.0 405.1,1678.9 405.6,1678.2 406.0,1674.8 406.5,1673.2 406.9,1675.3 407.4,1677.5 407.8,1677.3 408.3,1677.5 408.7,1675.3 409.2,1675.2 409.6,1675.7 410.1,1676.2 410.5,1677.0 411.0,1678.0 411.4,1680.0 411.9,1676.5 412.3,1675.0 412.8,1675.5 413.2,1676.2 413.7,1677.3 414.1,1675.9 414.6,1674.2 415.0,1675.2 415.5,1675.6 415.9,1677.9 416.4,1675.5 416.8,1676.4 417.3,1678.6 417.7,1677.8 418.2,1675.5 418.6,1674.5 419.1,1677.8 419.5,1677.4 420.0,1674.8 420.4,1677.0 420.9,1678.4 421.3,1675.1 421.8,1674.0 422.2,1674.7 422.7,1674.6 423.1,1676.5 423.6,1677.3 424.0,1677.5 424.5,1677.5 424.9,1676.7 425.4,1676.7 425.8,1675.7 426.3,1676.8 426.7,1678.0 427.2,1676.7 427.6,1675.2 428.1,1674.4 428.5,1676.9 429.0,1675.6 429.4,1674.5 429.9,1676.9 430.3,1675.2 430.8,1676.0 431.2,1675.0 431.7,1673.5 432.1,1671.4 432.6,1672.1 433.0,1674.0 433.5,1674.9 433.9,1675.4 434.4,1674.9 434.8,1674.3 435.3,1675.3 435.7,1675.1 436.2,1675.0 436.6,1675.0 437.1,1675.1 437.5,1673.1 438.0,1673.7 438.4,1676.1 438.9,1676.7 439.3,1676.5 439.8,1678.9 440.2,1677.7 440.7,1676.2 441.1,1677.2 441.6,1676.7 442.0,1676.3 442.5,1675.9 442.9,1674.2 443.4,1674.4 443.8,1675.1 444.3,1673.6 444.7,1674.0 445.2,1673.5 445.6,1674.6 446.1,1673.3 446.5,1676.3 447.0,1675.7 447.4,1675.0 447.9,1675.7 448.3,1676.3 448.8,1677.9 449.2,1674.8 449.7,1674.6 450.1,1673.3 450.6,1674.7 451.0,1671.4 451.5,1671.7 451.9,1674.9 452.4,1674.6 452.8,1675.0 453.3,1676.3 453.7,1675.0 454.2,1676.1 454.6,1677.6 455.1,1673.8 455.5,1676.8 456.0,1674.9 456.4,1675.3 456.9,1674.9 457.3,1677.4 457.8,1678.3 458.2,1675.7 458.7,1674.3 459.1,1674.4 459.6,1674.3 460.0,1674.4 460.5,1674.5 460.9,1674.5 461.4,1672.5 461.8,1674.9 462.3,1673.0 462.7,1676.1 463.2,1676.0 463.6,1677.2 464.1,1676.4 464.5,1674.4 465.0,1674.6 465.4,1674.6 465.9,1675.1 466.3,1676.2 466.8,1675.4 467.2,1674.6 467.7,1676.1 468.1,1676.9 468.6,1676.7 469.0,1675.7 469.5,1673.3 469.9,1675.2 470.4,1677.7 470.8,1676.2 471.3,1675.7 471.7,1677.2 472.2,1677.8 472.6,1676.7 473.1,1675.9 473.5,1675.0 474.0,1674.5 474.4,1675.6 474.9,1676.6 475.3,1678.7 475.8,1678.5 476.2,1678.4 476.7,1676.5 477.1,1676.9 477.6,1676.0 478.0,1674.3 478.5,1675.5 478.9,1674.8 479.4,1673.0 479.8,1674.1 480.3,1672.6 480.7,1671.6 481.2,1673.5 481.6,1673.4 482.1,1673.2 482.5,1676.2 483.0,1677.0 483.4,1677.0 483.9,1676.7 484.3,1675.8 484.8,1675.9 485.2,1677.6 485.7,1678.8 486.1,1676.7 486.6,1673.8 487.0,1674.9 487.5,1676.9 487.9,1674.7 488.4,1676.2 488.8,1674.6 489.3,1677.7 489.7,1679.3 490.2,1678.1 490.6,1678.9 491.1,1678.1 491.5,1677.1 492.0,1676.1 492.4,1676.1 492.9,1675.0 493.3,1673.9 493.8,1677.7 494.2,1677.0 494.7,1675.8 495.1,1676.3 495.6,1676.9 496.0,1677.9 496.5,1675.8 496.9,1675.1 497.4,1676.4 497.8,1677.7 498.3,1676.3 498.7,1674.5 499.2,1674.8 499.6,1675.7 500.1,1677.8 500.5,1679.1 501.0,1678.5 501.4,1676.3 501.9,1675.9 502.3,1677.5 502.8,1677.0 503.2,1676.5 503.7,1677.3 504.1,1677.8 504.6,1676.9 505.0,1678.6 505.5,1675.9 505.9,1677.1 506.4,1678.2 506.8,1677.0 507.3,1676.1 507.7,1676.5 508.2,1676.7 508.6,1674.2 509.1,1675.7 509.5,1677.2 510.0,1675.5 510.4,1674.7 510.9,1676.4 511.3,1676.1 511.8,1678.6 512.2,1678.2 512.7,1678.3 513.1,1677.9 513.6,1678.6 514.0,1677.4 514.5,1676.5 514.9,1675.8 515.4,1675.4 515.8,1675.0 516.3,1677.3 516.7,1676.4 517.2,1677.3 517.6,1677.7 518.1,1676.8 518.5,1676.8 519.0,1677.1 519.4,1676.6 519.9,1675.8 520.3,1677.0 520.8,1676.0 521.2,1677.0 521.7,1677.1 522.1,1678.5 522.6,1678.2 523.0,1677.3 523.5,1678.6 523.9,1676.7 524.4,1675.3 524.8,1676.9 525.3,1676.9 525.7,1678.0 526.2,1678.4 526.6,1678.6 527.1,1677.6 527.5,1676.7 528.0,1678.1 528.4,1676.0 528.9,1678.0 529.3,1678.4 529.8,1678.9 530.2,1679.9 530.7,1677.5 531.1,1680.3 531.6,1678.9 532.0,1678.9 532.5,1678.4 532.9,1676.3 533.4,1678.0 533.8,1675.7 534.3,1677.8 534.7,1677.3 535.2,1677.3 535.6,1675.9 536.1,1677.7 536.5,1675.7 537.0,1675.6 537.4,1676.6 537.9,1676.9 538.3,1675.7 538.8,1676.7 539.2,1677.5 539.7,1677.3 540.1,1677.8 540.6,1676.7 541.0,1674.5 541.5,1677.7 541.9,1676.1 542.4,1676.9 542.8,1677.6 543.3,1676.0 543.7,1675.6 544.2,1675.6 544.6,1677.8 545.1,1674.3 545.5,1677.3 546.0,1679.8 546.4,1679.5 546.9,1677.6 547.3,1679.2 547.8,1675.2 548.2,1673.8 548.7,1674.7 549.1,1676.1 549.6,1676.3 550.0,1676.2 550.5,1677.2 550.9,1677.1 551.4,1675.9 551.8,1677.0 552.3,1678.1 552.7,1677.9 553.2,1676.8 553.6,1680.6 554.1,1678.3 554.5,1681.6 555.0,1677.3 555.4,1679.6 555.9,1679.1 556.3,1681.0 556.8,1678.6 557.2,1677.7 557.7,1681.0 558.1,1681.9 558.6,1678.2 559.0,1678.4 559.5,1678.6 559.9,1679.6 560.4,1681.1 560.8,1679.8 561.3,1677.3 561.7,1676.6 562.2,1675.8 562.6,1676.6 563.1,1678.1 563.5,1678.0 564.0,1679.5 564.4,1677.3 564.9,1679.2 565.3,1678.4 565.8,1676.7 566.2,1677.2 566.7,1675.6 567.1,1679.7 567.6,1680.7 568.0,1678.9 568.5,1678.8 568.9,1677.4 569.4,1679.1 569.8,1681.9 570.3,1682.0 570.7,1679.8 571.2,1680.8 571.6,1678.3 572.1,1678.3 572.5,1678.3 573.0,1679.0 573.4,1681.6 573.9,1680.9 574.3,1680.1 574.8,1679.1 575.2,1681.5 575.7,1679.3 576.1,1678.0 576.6,1678.7 577.0,1678.3 577.5,1677.9 577.9,1679.9 578.4,1682.8 578.8,1683.6 579.3,1682.0 579.7,1680.2 580.2,1678.5 580.6,1681.0 581.1,1680.3 581.5,1678.7 582.0,1677.9 582.4,1678.2 582.9,1680.2 583.3,1682.0 583.8,1679.1 584.2,1679.0 584.7,1680.7 585.1,1678.2 585.6,1678.8 586.0,1680.8 586.5,1681.7 586.9,1681.9 587.4,1681.9 587.8,1677.8 588.3,1677.4 588.7,1678.7 589.2,1679.5 589.6,1681.0 590.1,1679.4 590.5,1677.9 591.0,1674.9 591.4,1675.6 591.9,1672.8 592.3,1675.9 592.8,1678.6 593.2,1676.7 593.7,1677.6 594.1,1679.1 594.6,1681.3 595.0,1680.7 595.5,1677.8 596.0,1678.1 596.4,1678.7 596.9,1677.6 597.3,1679.9 597.8,1680.3 598.2,1680.8 598.7,1680.2 599.1,1680.2 599.6,1681.1 600.0,1681.1 600.5,1680.8 600.9,1681.2 601.4,1680.0 601.8,1681.4 602.3,1678.5 602.7,1678.1 603.2,1681.2 603.6,1680.0 604.1,1681.0 604.5,1679.7 605.0,1678.3 605.4,1678.7 605.9,1680.0 606.3,1680.0" fill="none" stroke="#000" stroke-width="4.6" stroke-linejoin="round" stroke-linecap="round"/>
<polyline points="177.0,1650.0 177.4,1653.1 177.9,1647.7 178.3,1650.0 178.8,1647.7 179.2,1649.2 179.7,1650.7 180.1,1652.3 180.6,1649.3 181.0,1653.3 181.5,1651.6 181.9,1649.8 182.4,1653.1 182.8,1653.0 183.3,1654.3 183.7,1651.6 184.2,1653.0 184.6,1652.2 185.1,1651.0 185.5,1653.5 186.0,1650.9 186.4,1652.0 186.9,1652.7 187.3,1650.6 187.8,1646.4 188.2,1648.3 188.7,1653.1 189.1,1653.2 189.6,1654.3 190.0,1655.7 190.5,1654.5 190.9,1652.1 191.4,1655.3 191.8,1648.3 192.3,1649.5 192.7,1652.6 193.2,1651.6 193.6,1652.0 194.1,1652.1 194.5,1650.6 195.0,1650.0 195.4,1651.9 195.9,1652.0 196.3,1651.1 196.8,1650.5 197.2,1649.5 197.7,1652.1 198.1,1651.5 198.6,1649.9 199.0,1653.5 199.5,1652.2 199.9,1652.7 200.4,1651.2 200.8,1650.8 201.3,1654.4 201.7,1653.5 202.2,1649.1 202.6,1648.4 203.1,1649.1 203.5,1650.8 204.0,1653.6 204.4,1650.0 204.9,1651.2 205.3,1650.3 205.8,1653.4 206.2,1652.6 206.7,1651.0 207.1,1655.7 207.6,1655.5 208.0,1654.6 208.5,1650.1 208.9,1651.3 209.4,1651.5 209.8,1648.5 210.3,1652.2 210.7,1650.8 211.2,1653.1 211.6,1650.8 212.1,1656.4 212.5,1652.5 213.0,1653.1 213.4,1651.8 213.9,1650.0 214.3,1654.2 214.8,1654.0 215.2,1651.2 215.7,1650.7 216.1,1655.9 216.6,1658.6 217.0,1655.8 217.5,1651.6 217.9,1651.7 218.4,1651.3 218.8,1652.6 219.3,1656.0 219.7,1652.0 220.2,1651.6 220.6,1651.9 221.1,1651.2 221.5,1650.3 222.0,1649.8 222.4,1651.3 222.9,1651.0 223.3,1647.3 223.8,1651.1 224.2,1649.9 224.7,1655.0 225.1,1653.6 225.6,1651.9 226.0,1647.6 226.5,1639.8 226.9,1632.9 227.4,1629.8 227.8,1623.1 228.3,1618.0 228.7,1613.0 229.2,1605.5 229.6,1595.1 230.1,1591.3 230.5,1572.3 231.0,1575.1 231.4,1577.9 231.9,1580.1 232.3,1582.0 232.8,1587.6 233.2,1576.0 233.7,1574.5 234.1,1567.5 234.6,1572.1 235.0,1580.9 235.5,1571.5 235.9,1571.2 236.4,1560.2 236.8,1546.6 237.3,1560.2 237.7,1566.2 238.2,1552.4 238.6,1562.1 239.1,1542.1 239.5,1547.5 240.0,1536.3 240.4,1546.1 240.9,1543.1 241.3,1538.5 241.8,1545.6 242.2,1525.2 242.7,1535.6 243.1,1548.8 243.6,1558.5 244.0,1545.5 244.5,1536.1 244.9,1541.8 245.4,1522.5 245.8,1519.2 246.3,1517.9 246.7,1517.1 247.2,1515.1 247.6,1510.2 248.1,1506.6 248.5,1504.8 249.0,1508.1 249.4,1507.6 249.9,1506.1 250.3,1505.0 250.8,1502.5 251.2,1504.5 251.7,1504.9 252.1,1503.1 252.6,1499.7 253.0,1501.0 253.5,1501.2 253.9,1501.9 254.4,1496.7 254.8,1497.5 255.3,1502.4 255.7,1498.4 256.2,1501.1 256.6,1500.7 257.1,1499.2 257.5,1495.8 258.0,1496.1 258.4,1493.7 258.9,1490.3 259.3,1488.3 259.8,1486.8 260.2,1486.0 260.7,1485.4 261.1,1483.6 261.6,1484.0 262.0,1483.2 262.5,1486.0 262.9,1481.5 263.4,1484.8 263.8,1484.0 264.3,1485.3 264.7,1486.4 265.2,1488.3 265.6,1489.6 266.1,1488.0 266.5,1490.0 267.0,1488.4 267.4,1486.0 267.9,1487.4 268.3,1492.5 268.8,1491.6 269.2,1496.1 269.7,1495.3 270.1,1496.4 270.6,1495.3 271.0,1497.2 271.5,1496.9 271.9,1497.3 272.4,1497.7 272.8,1498.7 273.3,1499.2 273.7,1498.8 274.2,1500.9 274.6,1500.7 275.1,1501.0 275.5,1502.8 276.0,1501.1 276.4,1505.2 276.9,1507.0 277.3,1504.8 277.8,1497.0 278.2,1501.3 278.7,1504.0 279.1,1504.1 279.6,1502.8 280.0,1503.8 280.5,1502.3 280.9,1503.4 281.4,1502.3 281.8,1501.7 282.3,1501.7 282.7,1502.0 283.2,1501.9 283.6,1500.8 284.1,1500.7 284.5,1501.9 285.0,1500.7 285.4,1498.3 285.9,1498.5 286.3,1495.8 286.8,1491.8 287.2,1484.9 287.7,1489.8 288.1,1489.5 288.6,1488.0 289.0,1487.1 289.5,1485.5 289.9,1483.7 290.4,1482.0 290.8,1483.1 291.3,1481.0 291.7,1485.6 292.2,1486.3 292.6,1484.4 293.1,1485.7 293.5,1485.7 294.0,1486.2 294.4,1489.4 294.9,1488.3 295.3,1487.4 295.8,1488.1 296.2,1488.4 296.7,1488.3 297.1,1490.2 297.6,1490.6 298.0,1493.2 298.5,1490.7 298.9,1488.3 299.4,1489.8 299.8,1491.2 300.3,1488.9 300.7,1488.9 301.2,1488.7 301.6,1489.3 302.1,1490.8 302.5,1494.4 303.0,1490.9 303.4,1488.3 303.9,1490.0 304.3,1486.5 304.8,1487.4 305.2,1490.6 305.7,1491.2 306.1,1490.9 306.6,1489.9 307.0,1490.6 307.5,1489.4 307.9,1485.1 308.4,1486.7 308.8,1486.0 309.3,1488.4 309.7,1489.5 310.2,1489.2 310.6,1492.0 311.1,1496.6 311.5,1496.2 312.0,1495.8 312.4,1497.3 312.9,1492.4 313.3,1491.6 313.8,1487.6 314.2,1492.4 314.7,1492.4 315.1,1492.3 315.6,1492.3 316.0,1492.6 316.5,1496.3 316.9,1495.8 317.4,1496.3 317.8,1499.7 318.3,1499.8 318.7,1497.3 319.2,1496.6 319.6,1495.1 320.1,1497.1 320.5,1500.1 321.0,1507.8 321.4,1497.6 321.9,1498.4 322.3,1499.2 322.8,1499.7 323.2,1498.6 323.7,1495.4 324.1,1501.9 324.6,1501.9 325.0,1496.9 325.5,1495.7 325.9,1496.9 326.4,1495.7 326.8,1497.0 327.3,1499.2 327.7,1499.7 328.2,1499.1 328.6,1500.4 329.1,1499.0 329.5,1497.0 330.0,1500.1 330.4,1497.8 330.9,1494.1 331.3,1496.3 331.8,1497.1 332.2,1500.4 332.7,1502.0 333.1,1499.2 333.6,1501.5 334.0,1502.0 334.5,1502.9 334.9,1502.4 335.4,1502.7 335.8,1501.9 336.3,1500.5 336.7,1503.9 337.2,1503.7 337.6,1505.0 338.1,1506.1 338.5,1502.8 339.0,1504.4 339.4,1506.1 339.9,1506.6 340.3,1504.4 340.8,1505.3 341.2,1504.7 341.7,1508.5 342.1,1505.6 342.6,1505.3 343.0,1508.1 343.5,1506.6 343.9,1504.8 344.4,1507.8 344.8,1506.2 345.3,1507.8 345.7,1507.9 346.2,1504.8 346.6,1507.7 347.1,1504.4 347.5,1507.3 348.0,1506.7 348.4,1506.7 348.9,1506.6 349.3,1505.2 349.8,1505.2 350.2,1509.2 350.7,1508.9 351.1,1510.9 351.6,1510.8 352.0,1510.1 352.5,1513.6 352.9,1512.2 353.4,1511.5 353.8,1510.5 354.3,1510.2 354.7,1507.1 355.2,1509.8 355.6,1511.3 356.1,1510.9 356.5,1510.6 357.0,1505.5 357.4,1513.8 357.9,1513.1 358.3,1514.8 358.8,1513.6 359.2,1515.3 359.7,1513.5 360.1,1513.1 360.6,1515.8 361.0,1518.3 361.5,1513.6 361.9,1513.9 362.4,1513.4 362.8,1512.1 363.3,1516.5 363.7,1515.2 364.2,1518.6 364.6,1523.9 365.1,1518.6 365.5,1517.7 366.0,1519.1 366.4,1519.0 366.9,1519.9 367.3,1516.5 367.8,1515.9 368.2,1516.8 368.7,1515.4 369.1,1513.0 369.6,1518.5 370.0,1511.1 370.5,1523.2 370.9,1519.7 371.4,1516.7 371.8,1517.2 372.3,1517.2 372.7,1516.4 373.2,1517.4 373.6,1515.7 374.1,1517.7 374.5,1515.5 375.0,1517.8 375.4,1516.9 375.9,1518.7 376.3,1518.0 376.8,1520.3 377.2,1524.4 377.7,1518.8 378.1,1517.2 378.6,1517.0 379.0,1519.2 379.5,1517.1 379.9,1515.8 380.4,1514.4 380.8,1519.1 381.3,1520.2 381.7,1517.7 382.2,1518.4 382.6,1519.3 383.1,1515.0 383.5,1516.5 384.0,1518.9 384.4,1520.3 384.9,1521.3 385.3,1520.1 385.8,1516.6 386.2,1516.9 386.7,1519.7 387.1,1517.5 387.6,1517.4 388.0,1519.2 388.5,1517.0 388.9,1517.4 389.4,1518.1 389.8,1518.8 390.3,1519.4 390.7,1515.8 391.2,1514.0 391.6,1516.7 392.1,1521.5 392.5,1518.8 393.0,1520.7 393.4,1521.8 393.9,1518.8 394.3,1517.9 394.8,1520.1 395.2,1522.9 395.7,1520.3 396.1,1517.8 396.6,1518.9 397.0,1519.6 397.5,1518.1 397.9,1516.7 398.4,1519.4 398.8,1518.3 399.3,1522.0 399.7,1519.4 400.2,1518.6 400.6,1520.2 401.1,1519.2 401.5,1517.5 402.0,1518.3 402.4,1517.8 402.9,1518.1 403.3,1518.9 403.8,1525.7 404.2,1517.8 404.7,1519.9 405.1,1519.3 405.6,1525.1 406.0,1530.2 406.5,1536.4 406.9,1532.2 407.4,1529.2 407.8,1527.4 408.3,1525.3 408.7,1522.1 409.2,1519.0 409.6,1520.4 410.1,1511.0 410.5,1517.5 411.0,1516.8 411.4,1515.7 411.9,1520.1 412.3,1521.7 412.8,1516.0 413.2,1516.4 413.7,1516.8 414.1,1512.8 414.6,1516.5 415.0,1516.2 415.5,1515.8 415.9,1515.4 416.4,1516.9 416.8,1513.7 417.3,1516.5 417.7,1513.1 418.2,1509.6 418.6,1509.5 419.1,1512.2 419.5,1510.3 420.0,1511.2 420.4,1511.0 420.9,1512.2 421.3,1514.4 421.8,1517.7 422.2,1516.5 422.7,1514.6 423.1,1513.3 423.6,1514.0 424.0,1512.4 424.5,1518.1 424.9,1514.8 425.4,1515.5 425.8,1515.9 426.3,1519.0 426.7,1516.7 427.2,1512.9 427.6,1516.2 428.1,1515.7 428.5,1512.9 429.0,1512.8 429.4,1517.4 429.9,1520.0 430.3,1515.4 430.8,1515.2 431.2,1513.0 431.7,1515.0 432.1,1515.5 432.6,1519.2 433.0,1516.0 433.5,1518.4 433.9,1517.7 434.4,1522.6 434.8,1519.2 435.3,1515.2 435.7,1519.0 436.2,1522.8 436.6,1522.6 437.1,1518.2 437.5,1519.1 438.0,1518.9 438.4,1520.7 438.9,1517.3 439.3,1520.3 439.8,1523.7 440.2,1520.2 440.7,1519.5 441.1,1522.2 441.6,1521.0 442.0,1524.3 442.5,1525.6 442.9,1525.9 443.4,1524.7 443.8,1523.3 444.3,1523.0 444.7,1522.7 445.2,1521.9 445.6,1522.7 446.1,1523.6 446.5,1523.5 447.0,1522.7 447.4,1524.3 447.9,1521.9 448.3,1524.0 448.8,1526.1 449.2,1525.0 449.7,1523.8 450.1,1523.5 450.6,1526.4 451.0,1531.4 451.5,1526.3 451.9,1522.7 452.4,1523.6 452.8,1523.3 453.3,1524.1 453.7,1523.4 454.2,1523.2 454.6,1517.7 455.1,1525.0 455.5,1526.5 456.0,1526.3 456.4,1527.8 456.9,1526.4 457.3,1520.4 457.8,1520.3 458.2,1523.8 458.7,1521.9 459.1,1522.4 459.6,1523.4 460.0,1522.3 460.5,1522.9 460.9,1525.0 461.4,1526.0 461.8,1524.4 462.3,1525.4 462.7,1525.0 463.2,1527.7 463.6,1524.2 464.1,1522.8 464.5,1527.2 465.0,1526.9 465.4,1525.7 465.9,1524.9 466.3,1528.9 466.8,1526.8 467.2,1525.4 467.7,1524.7 468.1,1528.8 468.6,1529.2 469.0,1534.4 469.5,1525.2 469.9,1525.9 470.4,1527.6 470.8,1527.0 471.3,1526.4 471.7,1527.3 472.2,1528.6 472.6,1531.9 473.1,1527.5 473.5,1526.2 474.0,1524.2 474.4,1526.3 474.9,1526.9 475.3,1529.2 475.8,1524.4 476.2,1525.1 476.7,1525.1 477.1,1525.5 477.6,1525.8 478.0,1525.5 478.5,1525.9 478.9,1527.1 479.4,1531.4 479.8,1530.8 480.3,1526.4 480.7,1526.1 481.2,1530.3 481.6,1532.0 482.1,1534.9 482.5,1538.1 483.0,1539.9 483.4,1538.5 483.9,1538.4 484.3,1543.2 484.8,1539.9 485.2,1537.6 485.7,1537.1 486.1,1540.9 486.6,1543.2 487.0,1543.4 487.5,1542.9 487.9,1543.4 488.4,1550.8 488.8,1556.5 489.3,1555.9 489.7,1550.5 490.2,1548.7 490.6,1544.5 491.1,1538.1 491.5,1537.4 492.0,1536.4 492.4,1537.3 492.9,1538.1 493.3,1536.3 493.8,1538.2 494.2,1536.3 494.7,1541.3 495.1,1539.7 495.6,1539.3 496.0,1539.2 496.5,1539.7 496.9,1537.1 497.4,1539.5 497.8,1538.0 498.3,1537.4 498.7,1533.0 499.2,1536.2 499.6,1537.9 500.1,1539.4 500.5,1540.7 501.0,1537.1 501.4,1538.6 501.9,1537.3 502.3,1537.4 502.8,1538.1 503.2,1536.2 503.7,1536.6 504.1,1532.2 504.6,1536.1 505.0,1535.1 505.5,1534.4 505.9,1540.1 506.4,1540.2 506.8,1538.9 507.3,1535.1 507.7,1532.3 508.2,1536.2 508.6,1537.9 509.1,1537.5 509.5,1535.2 510.0,1535.2 510.4,1537.8 510.9,1536.8 511.3,1531.7 511.8,1532.6 512.2,1534.1 512.7,1533.7 513.1,1534.6 513.6,1536.9 514.0,1534.2 514.5,1536.6 514.9,1533.7 515.4,1531.4 515.8,1533.2 516.3,1534.3 516.7,1537.8 517.2,1536.2 517.6,1538.2 518.1,1538.5 518.5,1534.8 519.0,1537.7 519.4,1535.4 519.9,1540.5 520.3,1534.9 520.8,1536.4 521.2,1534.2 521.7,1536.6 522.1,1540.7 522.6,1536.8 523.0,1539.7 523.5,1537.9 523.9,1536.9 524.4,1539.2 524.8,1537.6 525.3,1535.7 525.7,1534.3 526.2,1535.1 526.6,1535.5 527.1,1536.6 527.5,1534.9 528.0,1535.5 528.4,1535.0 528.9,1536.2 529.3,1535.8 529.8,1531.7 530.2,1537.1 530.7,1535.4 531.1,1531.7 531.6,1533.7 532.0,1533.5 532.5,1534.5 532.9,1537.3 533.4,1540.0 533.8,1536.4 534.3,1535.5 534.7,1536.1 535.2,1535.2 535.6,1535.4 536.1,1535.5 536.5,1534.9 537.0,1534.7 537.4,1539.5 537.9,1537.9 538.3,1538.0 538.8,1535.4 539.2,1532.6 539.7,1535.8 540.1,1532.4 540.6,1534.9 541.0,1537.7 541.5,1536.5 541.9,1535.8 542.4,1534.6 542.8,1532.6 543.3,1537.6 543.7,1537.7 544.2,1539.1 544.6,1541.1 545.1,1535.9 545.5,1536.9 546.0,1533.4 546.4,1536.5 546.9,1539.2 547.3,1537.5 547.8,1539.2 548.2,1540.4 548.7,1539.9 549.1,1539.2 549.6,1537.8 550.0,1533.5 550.5,1538.0 550.9,1541.0 551.4,1539.8 551.8,1540.1 552.3,1535.0 552.7,1537.6 553.2,1538.6 553.6,1537.8 554.1,1538.2 554.5,1538.4 555.0,1540.3 555.4,1543.1 555.9,1538.5 556.3,1538.1 556.8,1537.5 557.2,1538.5 557.7,1547.0 558.1,1541.4 558.6,1542.2 559.0,1542.7 559.5,1540.7 559.9,1541.3 560.4,1539.3 560.8,1541.7 561.3,1540.1 561.7,1542.0 562.2,1542.9 562.6,1542.8 563.1,1544.4 563.5,1545.3 564.0,1547.3 564.4,1542.0 564.9,1541.2 565.3,1543.7 565.8,1537.6 566.2,1541.5 566.7,1542.3 567.1,1545.3 567.6,1544.9 568.0,1544.6 568.5,1546.0 568.9,1542.0 569.4,1545.7 569.8,1548.7 570.3,1544.6 570.7,1545.7 571.2,1544.4 571.6,1545.0 572.1,1543.0 572.5,1542.1 573.0,1543.3 573.4,1544.0 573.9,1542.1 574.3,1541.4 574.8,1544.9 575.2,1544.1 575.7,1548.9 576.1,1546.5 576.6,1551.1 577.0,1546.2 577.5,1549.4 577.9,1551.4 578.4,1552.8 578.8,1548.8 579.3,1551.2 579.7,1551.6 580.2,1549.3 580.6,1551.1 581.1,1549.0 581.5,1551.5 582.0,1547.5 582.4,1546.3 582.9,1549.3 583.3,1544.9 583.8,1544.6 584.2,1545.6 584.7,1551.5 585.1,1550.5 585.6,1551.4 586.0,1552.1 586.5,1550.7 586.9,1552.9 587.4,1553.7 587.8,1552.2 588.3,1548.4 588.7,1550.2 589.2,1553.9 589.6,1551.0 590.1,1551.8 590.5,1553.7 591.0,1552.9 591.4,1548.9 591.9,1553.0 592.3,1553.0 592.8,1553.2 593.2,1551.6 593.7,1550.7 594.1,1553.2 594.6,1549.9 595.0,1552.8 595.5,1550.4 596.0,1546.3 596.4,1547.2 596.9,1546.2 597.3,1548.9 597.8,1548.0 598.2,1544.5 598.7,1546.5 599.1,1546.4 599.6,1547.2 600.0,1548.6 600.5,1547.0 600.9,1544.1 601.4,1540.2 601.8,1543.3 602.3,1542.6 602.7,1546.4 603.2,1545.9 603.6,1541.9 604.1,1537.7 604.5,1540.4 605.0,1544.9 605.4,1539.6 605.9,1541.6 606.3,1545.1" fill="none" stroke="#D5066F" stroke-width="4.6" stroke-linejoin="round" stroke-linecap="round"/>
<line x1="177" y1="1434.8" x2="177" y2="1732.8" stroke="#000" stroke-width="4" stroke-linecap="butt"/>
<line x1="167.5" y1="1723.3" x2="608.5" y2="1723.3" stroke="#000" stroke-width="4" stroke-linecap="butt"/>
<line x1="167.5" y1="1723.3" x2="177" y2="1723.3" stroke="#000" stroke-width="4" stroke-linecap="butt"/>
<line x1="170.2" y1="1687.46" x2="177" y2="1687.46" stroke="#000" stroke-width="4" stroke-linecap="butt"/>
<line x1="167.5" y1="1651.62" x2="177" y2="1651.62" stroke="#000" stroke-width="4" stroke-linecap="butt"/>
<line x1="170.2" y1="1615.79" x2="177" y2="1615.79" stroke="#000" stroke-width="4" stroke-linecap="butt"/>
<line x1="167.5" y1="1579.95" x2="177" y2="1579.95" stroke="#000" stroke-width="4" stroke-linecap="butt"/>
<line x1="170.2" y1="1544.11" x2="177" y2="1544.11" stroke="#000" stroke-width="4" stroke-linecap="butt"/>
<line x1="167.5" y1="1508.27" x2="177" y2="1508.27" stroke="#000" stroke-width="4" stroke-linecap="butt"/>
<line x1="170.2" y1="1472.44" x2="177" y2="1472.44" stroke="#000" stroke-width="4" stroke-linecap="butt"/>
<line x1="167.5" y1="1436.6" x2="177" y2="1436.6" stroke="#000" stroke-width="4" stroke-linecap="butt"/>
<line x1="177" y1="1723.3" x2="177" y2="1732.8" stroke="#000" stroke-width="4" stroke-linecap="butt"/>
<line x1="230.71" y1="1723.3" x2="230.71" y2="1729.8" stroke="#000" stroke-width="4" stroke-linecap="butt"/>
<line x1="284.43" y1="1723.3" x2="284.43" y2="1732.8" stroke="#000" stroke-width="4" stroke-linecap="butt"/>
<line x1="338.14" y1="1723.3" x2="338.14" y2="1729.8" stroke="#000" stroke-width="4" stroke-linecap="butt"/>
<line x1="391.85" y1="1723.3" x2="391.85" y2="1732.8" stroke="#000" stroke-width="4" stroke-linecap="butt"/>
<line x1="445.56" y1="1723.3" x2="445.56" y2="1729.8" stroke="#000" stroke-width="4" stroke-linecap="butt"/>
<line x1="499.28" y1="1723.3" x2="499.28" y2="1732.8" stroke="#000" stroke-width="4" stroke-linecap="butt"/>
<line x1="552.99" y1="1723.3" x2="552.99" y2="1729.8" stroke="#000" stroke-width="4" stroke-linecap="butt"/>
<line x1="606.7" y1="1723.3" x2="606.7" y2="1732.8" stroke="#000" stroke-width="4" stroke-linecap="butt"/>
<text x="120.95" y="1731.4" font-size="23.5" textLength="44.69" lengthAdjust="spacingAndGlyphs">0.55</text>
<text x="121.26" y="1659.72" font-size="23.5" textLength="44.69" lengthAdjust="spacingAndGlyphs">0.60</text>
<text x="120.95" y="1588.05" font-size="23.5" textLength="44.69" lengthAdjust="spacingAndGlyphs">0.65</text>
<text x="121.26" y="1516.37" font-size="23.5" textLength="44.69" lengthAdjust="spacingAndGlyphs">0.70</text>
<text x="120.95" y="1444.7" font-size="23.5" textLength="44.69" lengthAdjust="spacingAndGlyphs">0.75</text>
<text x="170.84" y="1756.3" font-size="23.5" textLength="12.76" lengthAdjust="spacingAndGlyphs">0</text>
<text x="265.61" y="1756.3" font-size="23.5" textLength="38.27" lengthAdjust="spacingAndGlyphs">500</text>
<text x="366.29" y="1756.3" font-size="23.5" textLength="51.02" lengthAdjust="spacingAndGlyphs">1000</text>
<text x="473.71" y="1756.3" font-size="23.5" textLength="51.02" lengthAdjust="spacingAndGlyphs">1500</text>
<text x="581.46" y="1756.3" font-size="23.5" textLength="51.02" lengthAdjust="spacingAndGlyphs">2000</text>
<text x="335.85" y="1789.4" font-size="23.5" textLength="112.29" lengthAdjust="spacingAndGlyphs">Time (sec)</text>
<text x="0" y="0" font-size="23.5" textLength="128.7" lengthAdjust="spacingAndGlyphs" transform="translate(102.7 1670.35) rotate(-90)">Rhod-2 (F/F</text>
<text x="0" y="0" font-size="15" textLength="8.42" lengthAdjust="spacingAndGlyphs" transform="translate(107.7 1540.9) rotate(-90)">0</text>
<text x="0" y="0" font-size="23.5" textLength="44.39" lengthAdjust="spacingAndGlyphs" transform="translate(102.7 1524.78) rotate(-90)">545)</text>
<text x="318.75" y="1442.5" font-size="23.5" textLength="101.5" lengthAdjust="spacingAndGlyphs">4-HNE 30</text>
<text x="429.27" y="1442.5" font-size="23.5" stroke="#000" stroke-width="0.35" font-weight="normal" font-family="Liberation Serif" textLength="16.06" lengthAdjust="spacingAndGlyphs">&#956;</text>
<text x="443.65" y="1442.5" font-size="23.5" textLength="20.49" lengthAdjust="spacingAndGlyphs">M</text>
<line x1="228.8" y1="1456" x2="593.7" y2="1456" stroke="#000" stroke-width="4.2" stroke-linecap="round"/>
<line x1="420" y1="1473.6" x2="452" y2="1473.6" stroke="#D5066F" stroke-width="4.8" stroke-linecap="butt"/>
<line x1="420" y1="1499.6" x2="452" y2="1499.6" stroke="#FBA0A0" stroke-width="4.8" stroke-linecap="butt"/>
<line x1="419.7" y1="1587.6" x2="451.9" y2="1587.6" stroke="#000" stroke-width="4.8" stroke-linecap="butt"/>
<line x1="419.7" y1="1617.7" x2="451.9" y2="1617.7" stroke="#A09FA6" stroke-width="4.8" stroke-linecap="butt"/>
<text x="469.6" y="1480.8" font-size="23.5" textLength="41.92" lengthAdjust="spacingAndGlyphs">Ctrl</text>
<text x="469.82" y="1506.8" font-size="23.5" textLength="90.99" lengthAdjust="spacingAndGlyphs">siTRPA1</text>
<text x="469.58" y="1596.3" font-size="23.5" textLength="148.26" lengthAdjust="spacingAndGlyphs">HC-030031 30</text>
<text x="628.07" y="1596.3" font-size="23.5" stroke="#000" stroke-width="0.35" font-weight="normal" font-family="Liberation Serif" textLength="16.06" lengthAdjust="spacingAndGlyphs">&#956;</text>
<text x="643.48" y="1596.3" font-size="23.5" textLength="18.94" lengthAdjust="spacingAndGlyphs">M</text>
<text x="469.57" y="1625.9" font-size="23.5" textLength="87.97" lengthAdjust="spacingAndGlyphs">Ru360 5</text>
<text x="565.07" y="1625.9" font-size="23.5" stroke="#000" stroke-width="0.35" font-weight="normal" font-family="Liberation Serif" textLength="16.06" lengthAdjust="spacingAndGlyphs">&#956;</text>
<text x="579.6" y="1625.9" font-size="23.5" textLength="19.9" lengthAdjust="spacingAndGlyphs">M</text>
<circle cx="933.5" cy="350.0" r="4.45" fill="#FF7F7F"/>
<circle cx="934.4" cy="353.2" r="4.45" fill="#FF7F7F"/>
<circle cx="933.6" cy="356.4" r="4.45" fill="#FF7F7F"/>
<circle cx="935.0" cy="359.6" r="4.45" fill="#FF7F7F"/>
<circle cx="934.3" cy="362.8" r="4.45" fill="#FF7F7F"/>
<circle cx="934.5" cy="366.0" r="4.45" fill="#FF7F7F"/>
<circle cx="934.3" cy="369.2" r="4.45" fill="#FF7F7F"/>
<circle cx="934.1" cy="372.4" r="4.45" fill="#FF7F7F"/>
<circle cx="934.6" cy="375.6" r="4.45" fill="#FF7F7F"/>
<circle cx="933.3" cy="378.8" r="4.45" fill="#FF7F7F"/>
<circle cx="934.1" cy="382.0" r="4.45" fill="#FF7F7F"/>
<circle cx="935.1" cy="385.2" r="4.45" fill="#FF7F7F"/>
<circle cx="933.8" cy="388.4" r="4.45" fill="#FF7F7F"/>
<circle cx="934.2" cy="391.6" r="4.45" fill="#FF7F7F"/>
<circle cx="934.8" cy="394.8" r="4.45" fill="#FF7F7F"/>
<circle cx="934.6" cy="398.0" r="4.45" fill="#FF7F7F"/>
<circle cx="933.9" cy="401.2" r="4.45" fill="#FF7F7F"/>
<circle cx="935.1" cy="404.4" r="4.45" fill="#FF7F7F"/>
<circle cx="934.1" cy="407.6" r="4.45" fill="#FF7F7F"/>
<circle cx="947.1" cy="350.0" r="4.45" fill="#FF7F7F"/>
<circle cx="947.7" cy="353.2" r="4.45" fill="#FF7F7F"/>
<circle cx="947.7" cy="356.4" r="4.45" fill="#FF7F7F"/>
<circle cx="947.6" cy="359.6" r="4.45" fill="#FF7F7F"/>
<circle cx="947.2" cy="362.8" r="4.45" fill="#FF7F7F"/>
<circle cx="946.6" cy="366.0" r="4.45" fill="#FF7F7F"/>
<circle cx="947.6" cy="369.2" r="4.45" fill="#FF7F7F"/>
<circle cx="947.2" cy="372.4" r="4.45" fill="#FF7F7F"/>
<circle cx="946.7" cy="375.6" r="4.45" fill="#FF7F7F"/>
<circle cx="947.7" cy="378.8" r="4.45" fill="#FF7F7F"/>
<circle cx="947.8" cy="382.0" r="4.45" fill="#FF7F7F"/>
<circle cx="946.6" cy="385.2" r="4.45" fill="#FF7F7F"/>
<circle cx="948.0" cy="388.4" r="4.45" fill="#FF7F7F"/>
<circle cx="947.6" cy="391.6" r="4.45" fill="#FF7F7F"/>
<circle cx="948.1" cy="394.8" r="4.45" fill="#FF7F7F"/>
<circle cx="946.8" cy="398.0" r="4.45" fill="#FF7F7F"/>
<circle cx="947.0" cy="401.2" r="4.45" fill="#FF7F7F"/>
<circle cx="947.6" cy="404.4" r="4.45" fill="#FF7F7F"/>
<circle cx="947.3" cy="407.6" r="4.45" fill="#FF7F7F"/>
<circle cx="961.0" cy="350.0" r="4.45" fill="#FF7F7F"/>
<circle cx="961.0" cy="353.2" r="4.45" fill="#FF7F7F"/>
<circle cx="961.0" cy="356.4" r="4.45" fill="#FF7F7F"/>
<circle cx="959.9" cy="359.6" r="4.45" fill="#FF7F7F"/>
<circle cx="960.6" cy="362.8" r="4.45" fill="#FF7F7F"/>
<circle cx="961.4" cy="366.0" r="4.45" fill="#FF7F7F"/>
<circle cx="961.1" cy="369.2" r="4.45" fill="#FF7F7F"/>
<circle cx="959.8" cy="372.4" r="4.45" fill="#FF7F7F"/>
<circle cx="959.8" cy="375.6" r="4.45" fill="#FF7F7F"/>
<circle cx="960.0" cy="378.8" r="4.45" fill="#FF7F7F"/>
<circle cx="960.4" cy="382.0" r="4.45" fill="#FF7F7F"/>
<circle cx="961.3" cy="385.2" r="4.45" fill="#FF7F7F"/>
<circle cx="960.8" cy="388.4" r="4.45" fill="#FF7F7F"/>
<circle cx="961.3" cy="391.6" r="4.45" fill="#FF7F7F"/>
<circle cx="960.5" cy="394.8" r="4.45" fill="#FF7F7F"/>
<circle cx="959.9" cy="398.0" r="4.45" fill="#FF7F7F"/>
<circle cx="961.1" cy="401.2" r="4.45" fill="#FF7F7F"/>
<circle cx="960.1" cy="404.4" r="4.45" fill="#FF7F7F"/>
<circle cx="960.8" cy="407.6" r="4.45" fill="#FF7F7F"/>
<circle cx="973.2" cy="350.0" r="4.45" fill="#FF7F7F"/>
<circle cx="972.9" cy="353.2" r="4.45" fill="#FF7F7F"/>
<circle cx="973.6" cy="356.4" r="4.45" fill="#FF7F7F"/>
<circle cx="973.6" cy="359.6" r="4.45" fill="#FF7F7F"/>
<circle cx="974.4" cy="362.8" r="4.45" fill="#FF7F7F"/>
<circle cx="973.7" cy="366.0" r="4.45" fill="#FF7F7F"/>
<circle cx="974.2" cy="369.2" r="4.45" fill="#FF7F7F"/>
<circle cx="974.1" cy="372.4" r="4.45" fill="#FF7F7F"/>
<circle cx="974.1" cy="375.6" r="4.45" fill="#FF7F7F"/>
<circle cx="973.2" cy="378.8" r="4.45" fill="#FF7F7F"/>
<circle cx="973.4" cy="382.0" r="4.45" fill="#FF7F7F"/>
<circle cx="974.6" cy="385.2" r="4.45" fill="#FF7F7F"/>
<circle cx="974.6" cy="388.4" r="4.45" fill="#FF7F7F"/>
<circle cx="974.0" cy="391.6" r="4.45" fill="#FF7F7F"/>
<circle cx="974.1" cy="394.8" r="4.45" fill="#FF7F7F"/>
<circle cx="973.2" cy="398.0" r="4.45" fill="#FF7F7F"/>
<circle cx="974.6" cy="401.2" r="4.45" fill="#FF7F7F"/>
<circle cx="974.5" cy="404.4" r="4.45" fill="#FF7F7F"/>
<circle cx="973.9" cy="407.6" r="4.45" fill="#FF7F7F"/>
<circle cx="986.2" cy="350.0" r="4.45" fill="#FF7F7F"/>
<circle cx="987.6" cy="353.2" r="4.45" fill="#FF7F7F"/>
<circle cx="986.5" cy="356.4" r="4.45" fill="#FF7F7F"/>
<circle cx="987.4" cy="359.6" r="4.45" fill="#FF7F7F"/>
<circle cx="986.5" cy="362.8" r="4.45" fill="#FF7F7F"/>
<circle cx="987.3" cy="366.0" r="4.45" fill="#FF7F7F"/>
<circle cx="986.6" cy="369.2" r="4.45" fill="#FF7F7F"/>
<circle cx="986.9" cy="372.4" r="4.45" fill="#FF7F7F"/>
<circle cx="986.6" cy="375.6" r="4.45" fill="#FF7F7F"/>
<circle cx="987.5" cy="378.8" r="4.45" fill="#FF7F7F"/>
<circle cx="986.6" cy="382.0" r="4.45" fill="#FF7F7F"/>
<circle cx="987.6" cy="385.2" r="4.45" fill="#FF7F7F"/>
<circle cx="987.8" cy="388.4" r="4.45" fill="#FF7F7F"/>
<circle cx="987.6" cy="391.6" r="4.45" fill="#FF7F7F"/>
<circle cx="987.8" cy="394.8" r="4.45" fill="#FF7F7F"/>
<circle cx="986.7" cy="398.0" r="4.45" fill="#FF7F7F"/>
<circle cx="987.5" cy="401.2" r="4.45" fill="#FF7F7F"/>
<circle cx="987.8" cy="404.4" r="4.45" fill="#FF7F7F"/>
<circle cx="986.8" cy="407.6" r="4.45" fill="#FF7F7F"/>
<circle cx="1000.4" cy="350.0" r="4.45" fill="#FF7F7F"/>
<circle cx="1001.1" cy="353.2" r="4.45" fill="#FF7F7F"/>
<circle cx="1000.4" cy="356.4" r="4.45" fill="#FF7F7F"/>
<circle cx="1000.5" cy="359.6" r="4.45" fill="#FF7F7F"/>
<circle cx="999.8" cy="362.8" r="4.45" fill="#FF7F7F"/>
<circle cx="1000.0" cy="366.0" r="4.45" fill="#FF7F7F"/>
<circle cx="1000.9" cy="369.2" r="4.45" fill="#FF7F7F"/>
<circle cx="1000.3" cy="372.4" r="4.45" fill="#FF7F7F"/>
<circle cx="1001.1" cy="375.6" r="4.45" fill="#FF7F7F"/>
<circle cx="1000.8" cy="378.8" r="4.45" fill="#FF7F7F"/>
<circle cx="1000.7" cy="382.0" r="4.45" fill="#FF7F7F"/>
<circle cx="999.5" cy="385.2" r="4.45" fill="#FF7F7F"/>
<circle cx="1000.8" cy="388.4" r="4.45" fill="#FF7F7F"/>
<circle cx="999.8" cy="391.6" r="4.45" fill="#FF7F7F"/>
<circle cx="999.4" cy="394.8" r="4.45" fill="#FF7F7F"/>
<circle cx="1001.0" cy="398.0" r="4.45" fill="#FF7F7F"/>
<circle cx="1000.5" cy="401.2" r="4.45" fill="#FF7F7F"/>
<circle cx="999.5" cy="404.4" r="4.45" fill="#FF7F7F"/>
<circle cx="999.6" cy="407.6" r="4.45" fill="#FF7F7F"/>
<circle cx="1013.1" cy="350.0" r="4.45" fill="#FF7F7F"/>
<circle cx="1014.1" cy="353.2" r="4.45" fill="#FF7F7F"/>
<circle cx="1013.8" cy="356.4" r="4.45" fill="#FF7F7F"/>
<circle cx="1013.2" cy="359.6" r="4.45" fill="#FF7F7F"/>
<circle cx="1012.7" cy="362.8" r="4.45" fill="#FF7F7F"/>
<circle cx="1013.3" cy="366.0" r="4.45" fill="#FF7F7F"/>
<circle cx="1014.0" cy="369.2" r="4.45" fill="#FF7F7F"/>
<circle cx="1013.5" cy="372.4" r="4.45" fill="#FF7F7F"/>
<circle cx="1013.5" cy="375.6" r="4.45" fill="#FF7F7F"/>
<circle cx="1014.3" cy="378.8" r="4.45" fill="#FF7F7F"/>
<circle cx="1014.2" cy="382.0" r="4.45" fill="#FF7F7F"/>
<circle cx="1013.9" cy="385.2" r="4.45" fill="#FF7F7F"/>
<circle cx="1013.3" cy="388.4" r="4.45" fill="#FF7F7F"/>
<circle cx="1012.9" cy="391.6" r="4.45" fill="#FF7F7F"/>
<circle cx="1013.2" cy="394.8" r="4.45" fill="#FF7F7F"/>
<circle cx="1014.2" cy="398.0" r="4.45" fill="#FF7F7F"/>
<circle cx="1013.5" cy="401.2" r="4.45" fill="#FF7F7F"/>
<circle cx="1013.0" cy="404.4" r="4.45" fill="#FF7F7F"/>
<circle cx="1013.1" cy="407.6" r="4.45" fill="#FF7F7F"/>
<circle cx="940.6" cy="346.7" r="4.2" fill="#FF7F7F"/>
<circle cx="941.1" cy="352.2" r="4.2" fill="#FF7F7F"/>
<circle cx="940.3" cy="368.9" r="4.2" fill="#FF7F7F"/>
<circle cx="940.9" cy="378.1" r="4.2" fill="#FF7F7F"/>
<circle cx="940.3" cy="397.9" r="4.2" fill="#FF7F7F"/>
<circle cx="940.3" cy="408.4" r="4.2" fill="#FF7F7F"/>
<circle cx="940.9" cy="410.6" r="4.2" fill="#FF7F7F"/>
<circle cx="954.1" cy="346.9" r="4.2" fill="#FF7F7F"/>
<circle cx="953.8" cy="351.3" r="4.2" fill="#FF7F7F"/>
<circle cx="953.5" cy="370.3" r="4.2" fill="#FF7F7F"/>
<circle cx="954.0" cy="378.3" r="4.2" fill="#FF7F7F"/>
<circle cx="954.5" cy="397.6" r="4.2" fill="#FF7F7F"/>
<circle cx="954.5" cy="408.7" r="4.2" fill="#FF7F7F"/>
<circle cx="953.7" cy="410.4" r="4.2" fill="#FF7F7F"/>
<circle cx="967.3" cy="346.7" r="4.2" fill="#FF7F7F"/>
<circle cx="967.3" cy="352.1" r="4.2" fill="#FF7F7F"/>
<circle cx="967.6" cy="370.3" r="4.2" fill="#FF7F7F"/>
<circle cx="966.8" cy="378.0" r="4.2" fill="#FF7F7F"/>
<circle cx="967.1" cy="396.9" r="4.2" fill="#FF7F7F"/>
<circle cx="967.1" cy="407.4" r="4.2" fill="#FF7F7F"/>
<circle cx="967.0" cy="411.1" r="4.2" fill="#FF7F7F"/>
<circle cx="980.2" cy="347.4" r="4.2" fill="#FF7F7F"/>
<circle cx="980.3" cy="351.5" r="4.2" fill="#FF7F7F"/>
<circle cx="980.3" cy="369.6" r="4.2" fill="#FF7F7F"/>
<circle cx="980.3" cy="378.2" r="4.2" fill="#FF7F7F"/>
<circle cx="979.9" cy="397.0" r="4.2" fill="#FF7F7F"/>
<circle cx="979.9" cy="407.8" r="4.2" fill="#FF7F7F"/>
<circle cx="980.6" cy="411.4" r="4.2" fill="#FF7F7F"/>
<circle cx="993.4" cy="346.8" r="4.2" fill="#FF7F7F"/>
<circle cx="993.1" cy="351.1" r="4.2" fill="#FF7F7F"/>
<circle cx="993.2" cy="370.0" r="4.2" fill="#FF7F7F"/>
<circle cx="993.5" cy="379.1" r="4.2" fill="#FF7F7F"/>
<circle cx="993.5" cy="397.8" r="4.2" fill="#FF7F7F"/>
<circle cx="993.0" cy="408.6" r="4.2" fill="#FF7F7F"/>
<circle cx="993.4" cy="410.3" r="4.2" fill="#FF7F7F"/>
<circle cx="1006.9" cy="347.0" r="4.2" fill="#FF7F7F"/>
<circle cx="1006.5" cy="352.1" r="4.2" fill="#FF7F7F"/>
<circle cx="1006.2" cy="369.8" r="4.2" fill="#FF7F7F"/>
<circle cx="1006.9" cy="379.1" r="4.2" fill="#FF7F7F"/>
<circle cx="1006.3" cy="396.8" r="4.2" fill="#FF7F7F"/>
<circle cx="1006.3" cy="407.3" r="4.2" fill="#FF7F7F"/>
<circle cx="1006.6" cy="411.0" r="4.2" fill="#FF7F7F"/>
<circle cx="935.1" cy="316.3" r="4.2" fill="#FF7F7F"/>
<circle cx="948.1" cy="315.9" r="4.2" fill="#FF7F7F"/>
<circle cx="961.2" cy="316.3" r="4.2" fill="#FF7F7F"/>
<circle cx="973.8" cy="316.3" r="4.2" fill="#FF7F7F"/>
<circle cx="999.9" cy="316.3" r="4.2" fill="#FF7F7F"/>
<circle cx="1012.5" cy="316.3" r="4.2" fill="#FF7F7F"/>
<circle cx="980.3" cy="310.6" r="4.2" fill="#FF7F7F"/>
<circle cx="932.2" cy="322.0" r="4.2" fill="#FF7F7F"/>
<circle cx="945.3" cy="322.0" r="4.2" fill="#FF7F7F"/>
<circle cx="958.3" cy="322.0" r="4.2" fill="#FF7F7F"/>
<circle cx="987.6" cy="322.0" r="4.2" fill="#FF7F7F"/>
<circle cx="1002.3" cy="322.0" r="4.2" fill="#FF7F7F"/>
<circle cx="941.6" cy="327.7" r="4.2" fill="#FF7F7F"/>
<circle cx="954.2" cy="327.7" r="4.2" fill="#FF7F7F"/>
<circle cx="970.0" cy="327.7" r="4.2" fill="#FF7F7F"/>
<circle cx="977.0" cy="327.7" r="4.2" fill="#FF7F7F"/>
<circle cx="983.6" cy="327.7" r="4.2" fill="#FF7F7F"/>
<circle cx="992.5" cy="327.7" r="4.2" fill="#FF7F7F"/>
<circle cx="1006.4" cy="327.7" r="4.2" fill="#FF7F7F"/>
<circle cx="934.7" cy="333.4" r="4.2" fill="#FF7F7F"/>
<circle cx="947.7" cy="333.4" r="4.2" fill="#FF7F7F"/>
<circle cx="960.7" cy="333.4" r="4.2" fill="#FF7F7F"/>
<circle cx="973.0" cy="333.4" r="4.2" fill="#FF7F7F"/>
<circle cx="985.2" cy="333.4" r="4.2" fill="#FF7F7F"/>
<circle cx="998.2" cy="333.4" r="4.2" fill="#FF7F7F"/>
<circle cx="1011.3" cy="333.4" r="4.2" fill="#FF7F7F"/>
<circle cx="932.2" cy="339.1" r="4.2" fill="#FF7F7F"/>
<circle cx="946.9" cy="339.1" r="4.2" fill="#FF7F7F"/>
<circle cx="959.1" cy="339.1" r="4.2" fill="#FF7F7F"/>
<circle cx="972.2" cy="339.1" r="4.2" fill="#FF7F7F"/>
<circle cx="986.8" cy="339.1" r="4.2" fill="#FF7F7F"/>
<circle cx="1000.7" cy="339.1" r="4.2" fill="#FF7F7F"/>
<circle cx="1015.4" cy="339.1" r="4.2" fill="#FF7F7F"/>
<circle cx="940.4" cy="344.8" r="4.2" fill="#FF7F7F"/>
<circle cx="955.0" cy="344.8" r="4.2" fill="#FF7F7F"/>
<circle cx="973.0" cy="344.8" r="4.2" fill="#FF7F7F"/>
<circle cx="989.3" cy="344.8" r="4.2" fill="#FF7F7F"/>
<circle cx="1003.1" cy="344.8" r="4.2" fill="#FF7F7F"/>
<circle cx="973.0" cy="324.0" r="4.2" fill="#FF7F7F"/>
<circle cx="980.0" cy="324.0" r="4.2" fill="#FF7F7F"/>
<circle cx="976.5" cy="330.0" r="4.2" fill="#FF7F7F"/>
<circle cx="969.5" cy="336.0" r="4.2" fill="#FF7F7F"/>
<circle cx="976.5" cy="336.0" r="4.2" fill="#FF7F7F"/>
<circle cx="983.5" cy="336.0" r="4.2" fill="#FF7F7F"/>
<circle cx="973.0" cy="342.0" r="4.2" fill="#FF7F7F"/>
<circle cx="980.0" cy="342.0" r="4.2" fill="#FF7F7F"/>
<circle cx="934.5" cy="346.0" r="4.2" fill="#FF7F7F"/>
<circle cx="1012.5" cy="346.0" r="4.2" fill="#FF7F7F"/>
<circle cx="947.5" cy="347.0" r="4.2" fill="#FF7F7F"/>
<circle cx="960.5" cy="347.0" r="4.2" fill="#FF7F7F"/>
<circle cx="986.5" cy="347.0" r="4.2" fill="#FF7F7F"/>
<circle cx="999.5" cy="347.0" r="4.2" fill="#FF7F7F"/>
<circle cx="973.7" cy="415.5" r="4.2" fill="#FF7F7F"/>
<circle cx="987.0" cy="415.5" r="4.2" fill="#FF7F7F"/>
<circle cx="931.5" cy="362.0" r="4.2" fill="#FF7F7F"/>
<circle cx="931.5" cy="385.0" r="4.2" fill="#FF7F7F"/>
<circle cx="1016.2" cy="372.0" r="4.2" fill="#FF7F7F"/>
<circle cx="1016.2" cy="395.0" r="4.2" fill="#FF7F7F"/>
<circle cx="931.5" cy="404.0" r="4.2" fill="#FF7F7F"/>
<circle cx="1016.2" cy="404.0" r="4.2" fill="#FF7F7F"/>
<circle cx="1056.2" cy="356.0" r="4.2" fill="#8DBDF5"/>
<circle cx="1082.4" cy="354.2" r="4.2" fill="#8DBDF5"/>
<circle cx="1069.6" cy="360.4" r="4.2" fill="#8DBDF5"/>
<circle cx="1030.9" cy="362.7" r="4.2" fill="#8DBDF5"/>
<circle cx="1108.2" cy="367.6" r="4.2" fill="#8DBDF5"/>
<circle cx="1043.8" cy="368.9" r="4.2" fill="#8DBDF5"/>
<circle cx="1056.7" cy="371.6" r="4.2" fill="#8DBDF5"/>
<circle cx="1095.3" cy="370.2" r="4.2" fill="#8DBDF5"/>
<circle cx="1069.6" cy="374.2" r="4.2" fill="#8DBDF5"/>
<circle cx="1082.4" cy="373.3" r="4.2" fill="#8DBDF5"/>
<circle cx="1030.9" cy="385.3" r="4.2" fill="#8DBDF5"/>
<circle cx="1043.8" cy="388.0" r="4.2" fill="#8DBDF5"/>
<circle cx="1056.7" cy="389.8" r="4.2" fill="#8DBDF5"/>
<circle cx="1082.4" cy="388.4" r="4.2" fill="#8DBDF5"/>
<circle cx="1095.3" cy="386.7" r="4.2" fill="#8DBDF5"/>
<circle cx="1069.6" cy="392.4" r="4.2" fill="#8DBDF5"/>
<circle cx="1037.6" cy="397.8" r="4.2" fill="#8DBDF5"/>
<circle cx="1102.0" cy="398.2" r="4.2" fill="#8DBDF5"/>
<circle cx="1030.9" cy="425.3" r="4.2" fill="#8DBDF5"/>
<circle cx="1043.8" cy="426.2" r="4.2" fill="#8DBDF5"/>
<circle cx="1056.7" cy="427.6" r="4.2" fill="#8DBDF5"/>
<circle cx="1069.6" cy="434.2" r="4.2" fill="#8DBDF5"/>
<circle cx="1082.4" cy="430.7" r="4.2" fill="#8DBDF5"/>
<circle cx="1095.3" cy="427.1" r="4.2" fill="#8DBDF5"/>
<circle cx="1108.2" cy="426.7" r="4.2" fill="#8DBDF5"/>
<circle cx="1030.9" cy="415.6" r="4.2" fill="#8DBDF5"/>
<circle cx="1043.8" cy="417.3" r="4.2" fill="#8DBDF5"/>
<circle cx="1108.2" cy="415.1" r="4.2" fill="#8DBDF5"/>
<circle cx="1095.3" cy="416.4" r="4.2" fill="#8DBDF5"/>
<circle cx="1047.0" cy="400.0" r="4.2" fill="#8DBDF5"/>
<circle cx="1053.5" cy="400.0" r="4.2" fill="#8DBDF5"/>
<circle cx="1060.0" cy="400.0" r="4.2" fill="#8DBDF5"/>
<circle cx="1066.5" cy="400.0" r="4.2" fill="#8DBDF5"/>
<circle cx="1073.0" cy="400.0" r="4.2" fill="#8DBDF5"/>
<circle cx="1079.5" cy="400.0" r="4.2" fill="#8DBDF5"/>
<circle cx="1086.0" cy="400.0" r="4.2" fill="#8DBDF5"/>
<circle cx="1092.5" cy="400.0" r="4.2" fill="#8DBDF5"/>
<circle cx="1050.2" cy="405.0" r="4.2" fill="#8DBDF5"/>
<circle cx="1056.8" cy="405.0" r="4.2" fill="#8DBDF5"/>
<circle cx="1063.2" cy="405.0" r="4.2" fill="#8DBDF5"/>
<circle cx="1069.8" cy="405.0" r="4.2" fill="#8DBDF5"/>
<circle cx="1076.2" cy="405.0" r="4.2" fill="#8DBDF5"/>
<circle cx="1082.8" cy="405.0" r="4.2" fill="#8DBDF5"/>
<circle cx="1089.2" cy="405.0" r="4.2" fill="#8DBDF5"/>
<circle cx="1030.9" cy="404.0" r="4.2" fill="#8DBDF5"/>
<circle cx="1037.5" cy="406.0" r="4.2" fill="#8DBDF5"/>
<circle cx="1102.0" cy="405.0" r="4.2" fill="#8DBDF5"/>
<circle cx="1108.0" cy="404.0" r="4.2" fill="#8DBDF5"/>
<circle cx="1050.0" cy="412.0" r="4.2" fill="#8DBDF5"/>
<circle cx="1056.5" cy="418.0" r="4.2" fill="#8DBDF5"/>
<circle cx="1063.0" cy="415.0" r="4.2" fill="#8DBDF5"/>
<circle cx="1069.6" cy="420.0" r="4.2" fill="#8DBDF5"/>
<circle cx="1076.0" cy="414.0" r="4.2" fill="#8DBDF5"/>
<circle cx="1082.4" cy="418.0" r="4.2" fill="#8DBDF5"/>
<circle cx="1089.0" cy="412.0" r="4.2" fill="#8DBDF5"/>
<circle cx="1095.3" cy="408.0" r="4.2" fill="#8DBDF5"/>
<circle cx="1060.0" cy="424.0" r="4.2" fill="#8DBDF5"/>
<circle cx="1076.0" cy="425.0" r="4.2" fill="#8DBDF5"/>
<circle cx="1050.0" cy="420.0" r="4.2" fill="#8DBDF5"/>
<circle cx="1089.0" cy="422.0" r="4.2" fill="#8DBDF5"/>
<circle cx="1040.0" cy="410.0" r="4.2" fill="#8DBDF5"/>
<circle cx="1043.8" cy="410.0" r="4.2" fill="#8DBDF5"/>
<circle cx="1056.7" cy="410.0" r="4.2" fill="#8DBDF5"/>
<circle cx="1069.6" cy="408.0" r="4.2" fill="#8DBDF5"/>
<circle cx="1082.4" cy="410.0" r="4.2" fill="#8DBDF5"/>
<circle cx="1095.3" cy="410.0" r="4.2" fill="#8DBDF5"/>
<circle cx="1037.6" cy="412.0" r="4.2" fill="#8DBDF5"/>
<circle cx="1050.0" cy="426.0" r="4.2" fill="#8DBDF5"/>
<circle cx="1063.0" cy="430.0" r="4.2" fill="#8DBDF5"/>
<circle cx="1076.0" cy="431.0" r="4.2" fill="#8DBDF5"/>
<circle cx="1089.0" cy="429.0" r="4.2" fill="#8DBDF5"/>
<circle cx="1063.0" cy="421.0" r="4.2" fill="#8DBDF5"/>
<circle cx="1076.0" cy="419.0" r="4.2" fill="#8DBDF5"/>
<circle cx="1063.0" cy="408.0" r="4.2" fill="#8DBDF5"/>
<circle cx="1050.0" cy="406.0" r="4.2" fill="#8DBDF5"/>
<circle cx="1089.0" cy="406.0" r="4.2" fill="#8DBDF5"/>
<circle cx="1165.1" cy="386.9" r="4.2" fill="#000"/>
<circle cx="1139.3" cy="396.7" r="4.2" fill="#000"/>
<circle cx="1203.8" cy="392.2" r="4.2" fill="#000"/>
<circle cx="1190.9" cy="398.9" r="4.2" fill="#000"/>
<circle cx="1152.2" cy="402.9" r="4.2" fill="#000"/>
<circle cx="1165.1" cy="402.9" r="4.2" fill="#000"/>
<circle cx="1178.0" cy="402.9" r="4.2" fill="#000"/>
<circle cx="1158.0" cy="408.0" r="4.2" fill="#000"/>
<circle cx="1172.0" cy="408.0" r="4.2" fill="#000"/>
<circle cx="1125.0" cy="412.0" r="4.2" fill="#000"/>
<circle cx="1131.5" cy="412.0" r="4.2" fill="#000"/>
<circle cx="1138.0" cy="412.0" r="4.2" fill="#000"/>
<circle cx="1144.5" cy="412.0" r="4.2" fill="#000"/>
<circle cx="1151.0" cy="412.0" r="4.2" fill="#000"/>
<circle cx="1157.5" cy="412.0" r="4.2" fill="#000"/>
<circle cx="1164.0" cy="412.0" r="4.2" fill="#000"/>
<circle cx="1170.5" cy="412.0" r="4.2" fill="#000"/>
<circle cx="1177.0" cy="412.0" r="4.2" fill="#000"/>
<circle cx="1183.5" cy="412.0" r="4.2" fill="#000"/>
<circle cx="1190.0" cy="412.0" r="4.2" fill="#000"/>
<circle cx="1196.5" cy="412.0" r="4.2" fill="#000"/>
<circle cx="1203.0" cy="412.0" r="4.2" fill="#000"/>
<circle cx="1128.2" cy="416.3" r="4.2" fill="#000"/>
<circle cx="1134.8" cy="416.3" r="4.2" fill="#000"/>
<circle cx="1141.2" cy="416.3" r="4.2" fill="#000"/>
<circle cx="1147.8" cy="416.3" r="4.2" fill="#000"/>
<circle cx="1154.2" cy="416.3" r="4.2" fill="#000"/>
<circle cx="1160.8" cy="416.3" r="4.2" fill="#000"/>
<circle cx="1167.2" cy="416.3" r="4.2" fill="#000"/>
<circle cx="1173.8" cy="416.3" r="4.2" fill="#000"/>
<circle cx="1180.2" cy="416.3" r="4.2" fill="#000"/>
<circle cx="1186.8" cy="416.3" r="4.2" fill="#000"/>
<circle cx="1193.2" cy="416.3" r="4.2" fill="#000"/>
<circle cx="1199.8" cy="416.3" r="4.2" fill="#000"/>
<circle cx="1125.0" cy="420.6" r="4.2" fill="#000"/>
<circle cx="1131.5" cy="420.6" r="4.2" fill="#000"/>
<circle cx="1138.0" cy="420.6" r="4.2" fill="#000"/>
<circle cx="1144.5" cy="420.6" r="4.2" fill="#000"/>
<circle cx="1151.0" cy="420.6" r="4.2" fill="#000"/>
<circle cx="1157.5" cy="420.6" r="4.2" fill="#000"/>
<circle cx="1164.0" cy="420.6" r="4.2" fill="#000"/>
<circle cx="1170.5" cy="420.6" r="4.2" fill="#000"/>
<circle cx="1177.0" cy="420.6" r="4.2" fill="#000"/>
<circle cx="1183.5" cy="420.6" r="4.2" fill="#000"/>
<circle cx="1190.0" cy="420.6" r="4.2" fill="#000"/>
<circle cx="1196.5" cy="420.6" r="4.2" fill="#000"/>
<circle cx="1203.0" cy="420.6" r="4.2" fill="#000"/>
<circle cx="1128.2" cy="424.9" r="4.2" fill="#000"/>
<circle cx="1134.8" cy="424.9" r="4.2" fill="#000"/>
<circle cx="1141.2" cy="424.9" r="4.2" fill="#000"/>
<circle cx="1147.8" cy="424.9" r="4.2" fill="#000"/>
<circle cx="1154.2" cy="424.9" r="4.2" fill="#000"/>
<circle cx="1160.8" cy="424.9" r="4.2" fill="#000"/>
<circle cx="1167.2" cy="424.9" r="4.2" fill="#000"/>
<circle cx="1173.8" cy="424.9" r="4.2" fill="#000"/>
<circle cx="1180.2" cy="424.9" r="4.2" fill="#000"/>
<circle cx="1186.8" cy="424.9" r="4.2" fill="#000"/>
<circle cx="1193.2" cy="424.9" r="4.2" fill="#000"/>
<circle cx="1199.8" cy="424.9" r="4.2" fill="#000"/>
<circle cx="1165.1" cy="430.0" r="4.2" fill="#000"/>
<circle cx="1165.1" cy="433.0" r="4.2" fill="#000"/>
<line x1="925.2" y1="371" x2="1022.6" y2="371" stroke="#000" stroke-width="3" stroke-linecap="butt"/>
<line x1="1021.1" y1="401.3" x2="1118" y2="401.3" stroke="#000" stroke-width="3" stroke-linecap="butt"/>
<line x1="1116.7" y1="418.3" x2="1213.6" y2="418.3" stroke="#000" stroke-width="3" stroke-linecap="butt"/>
<line x1="902.8" y1="148.4" x2="902.8" y2="439.8" stroke="#000" stroke-width="4" stroke-linecap="butt"/>
<line x1="892.8" y1="437.8" x2="1334.5" y2="437.8" stroke="#000" stroke-width="4" stroke-linecap="butt"/>
<line x1="892.8" y1="437.8" x2="902.8" y2="437.8" stroke="#000" stroke-width="4" stroke-linecap="butt"/>
<line x1="896" y1="409.04" x2="902.8" y2="409.04" stroke="#000" stroke-width="4" stroke-linecap="butt"/>
<line x1="892.8" y1="380.28" x2="902.8" y2="380.28" stroke="#000" stroke-width="4" stroke-linecap="butt"/>
<line x1="896" y1="351.52" x2="902.8" y2="351.52" stroke="#000" stroke-width="4" stroke-linecap="butt"/>
<line x1="892.8" y1="322.76" x2="902.8" y2="322.76" stroke="#000" stroke-width="4" stroke-linecap="butt"/>
<line x1="896" y1="294" x2="902.8" y2="294" stroke="#000" stroke-width="4" stroke-linecap="butt"/>
<line x1="892.8" y1="265.24" x2="902.8" y2="265.24" stroke="#000" stroke-width="4" stroke-linecap="butt"/>
<line x1="896" y1="236.48" x2="902.8" y2="236.48" stroke="#000" stroke-width="4" stroke-linecap="butt"/>
<line x1="892.8" y1="207.72" x2="902.8" y2="207.72" stroke="#000" stroke-width="4" stroke-linecap="butt"/>
<line x1="896" y1="178.96" x2="902.8" y2="178.96" stroke="#000" stroke-width="4" stroke-linecap="butt"/>
<line x1="892.8" y1="150.2" x2="902.8" y2="150.2" stroke="#000" stroke-width="4" stroke-linecap="butt"/>
<line x1="974" y1="437.8" x2="974" y2="447.8" stroke="#000" stroke-width="4" stroke-linecap="butt"/>
<line x1="1069.6" y1="437.8" x2="1069.6" y2="447.8" stroke="#000" stroke-width="4" stroke-linecap="butt"/>
<line x1="1165.1" y1="437.8" x2="1165.1" y2="447.8" stroke="#000" stroke-width="4" stroke-linecap="butt"/>
<line x1="1260.6" y1="437.8" x2="1260.6" y2="447.8" stroke="#000" stroke-width="4" stroke-linecap="butt"/>
<text x="859.08" y="445.7" font-size="23.5" textLength="32.48" lengthAdjust="spacingAndGlyphs">0.0</text>
<text x="859.09" y="388.18" font-size="23.5" textLength="32.16" lengthAdjust="spacingAndGlyphs">0.1</text>
<text x="859.08" y="330.66" font-size="23.5" textLength="32.46" lengthAdjust="spacingAndGlyphs">0.2</text>
<text x="859.08" y="273.14" font-size="23.5" textLength="32.36" lengthAdjust="spacingAndGlyphs">0.3</text>
<text x="859.1" y="215.62" font-size="23.5" textLength="31.62" lengthAdjust="spacingAndGlyphs">0.4</text>
<text x="859.09" y="158.1" font-size="23.5" textLength="32.16" lengthAdjust="spacingAndGlyphs">0.5</text>
<line x1="990.2" y1="210.9" x2="1163.2" y2="210.9" stroke="#000" stroke-width="4.2" stroke-linecap="round"/>
<line x1="991.9" y1="263.7" x2="1066.9" y2="263.7" stroke="#000" stroke-width="4.2" stroke-linecap="round"/>
<text x="1059.89" y="208.86" font-size="28" text-anchor="middle">*</text>
<text x="1072.19" y="208.86" font-size="28" text-anchor="middle">*</text>
<text x="1084.49" y="208.86" font-size="28" text-anchor="middle">*</text>
<text x="1016.49" y="259.16" font-size="28" text-anchor="middle">*</text>
<text x="1028.79" y="259.16" font-size="28" text-anchor="middle">*</text>
<text x="1041.09" y="259.16" font-size="28" text-anchor="middle">*</text>
<text x="933.32" y="298.1" font-size="23.5" textLength="81.41" lengthAdjust="spacingAndGlyphs">231/271</text>
<text x="1038.62" y="335.2" font-size="23.5" textLength="67.9" lengthAdjust="spacingAndGlyphs">52/101</text>
<text x="1138.45" y="367.8" font-size="23.5" textLength="58.06" lengthAdjust="spacingAndGlyphs">66/98</text>
<text x="1247.48" y="419.5" font-size="23.5" textLength="45.47" lengthAdjust="spacingAndGlyphs">0/95</text>
<text x="1042.43" y="155.8" font-size="23.5" textLength="84.7" lengthAdjust="spacingAndGlyphs">AITC 30</text>
<text x="1134.67" y="155.8" font-size="23.5" stroke="#000" stroke-width="0.35" font-weight="normal" font-family="Liberation Serif" textLength="16.06" lengthAdjust="spacingAndGlyphs">&#956;</text>
<text x="1149.51" y="155.8" font-size="23.5" textLength="19.78" lengthAdjust="spacingAndGlyphs">M</text>
<text transform="translate(841.7 468.8) rotate(-90)" font-size="24" textLength="354.5" lengthAdjust="spacingAndGlyphs">Mitochonderial Ca<tspan dx="5" font-size="18.5" dy="-10">2+</tspan><tspan dx="4" dy="10">uptake rate</tspan></text>
<text x="0" y="0" font-size="24.5" textLength="40.1" lengthAdjust="spacingAndGlyphs" transform="translate(954.51 498.89) rotate(-45)">Ctrl</text>
<text x="0" y="0" font-size="24.5" textLength="94.45" lengthAdjust="spacingAndGlyphs" transform="translate(1009.17 538.83) rotate(-45)">siTRPA1</text>
<text x="0" y="0" font-size="24.5" textLength="115.64" lengthAdjust="spacingAndGlyphs" transform="translate(1089.47 554.83) rotate(-45)">HC-030031</text>
<text x="0" y="0" font-size="24.5" textLength="73.13" lengthAdjust="spacingAndGlyphs" transform="translate(1219 521.5) rotate(-45)">Ru360</text>
<circle cx="976.9" cy="944.2" r="4.2" fill="#169AB8"/>
<circle cx="964.4" cy="955.3" r="4.2" fill="#169AB8"/>
<circle cx="976.9" cy="961.1" r="4.2" fill="#169AB8"/>
<circle cx="989.3" cy="960.7" r="4.2" fill="#169AB8"/>
<circle cx="964.4" cy="971.8" r="4.2" fill="#169AB8"/>
<circle cx="976.9" cy="977.6" r="4.2" fill="#169AB8"/>
<circle cx="983.1" cy="982.9" r="4.2" fill="#169AB8"/>
<circle cx="939.6" cy="982.9" r="4.2" fill="#169AB8"/>
<circle cx="1014.2" cy="982.9" r="4.2" fill="#169AB8"/>
<circle cx="952.0" cy="988.7" r="4.2" fill="#169AB8"/>
<circle cx="1001.8" cy="988.7" r="4.2" fill="#169AB8"/>
<circle cx="964.4" cy="994.0" r="4.2" fill="#169AB8"/>
<circle cx="976.9" cy="994.0" r="4.2" fill="#169AB8"/>
<circle cx="989.3" cy="994.0" r="4.2" fill="#169AB8"/>
<circle cx="936.9" cy="999.3" r="4.2" fill="#169AB8"/>
<circle cx="949.3" cy="999.3" r="4.2" fill="#169AB8"/>
<circle cx="1004.9" cy="999.3" r="4.2" fill="#169AB8"/>
<circle cx="1008.0" cy="1004.7" r="4.2" fill="#169AB8"/>
<circle cx="939.3" cy="1008.0" r="4.45" fill="#169AB8"/>
<circle cx="938.2" cy="1011.2" r="4.45" fill="#169AB8"/>
<circle cx="939.0" cy="1014.4" r="4.45" fill="#169AB8"/>
<circle cx="939.7" cy="1017.6" r="4.45" fill="#169AB8"/>
<circle cx="939.3" cy="1020.8" r="4.45" fill="#169AB8"/>
<circle cx="939.8" cy="1024.0" r="4.45" fill="#169AB8"/>
<circle cx="939.4" cy="1027.2" r="4.45" fill="#169AB8"/>
<circle cx="938.3" cy="1030.4" r="4.45" fill="#169AB8"/>
<circle cx="939.2" cy="1033.6" r="4.45" fill="#169AB8"/>
<circle cx="939.3" cy="1036.8" r="4.45" fill="#169AB8"/>
<circle cx="938.6" cy="1040.0" r="4.45" fill="#169AB8"/>
<circle cx="939.7" cy="1043.2" r="4.45" fill="#169AB8"/>
<circle cx="938.8" cy="1046.4" r="4.45" fill="#169AB8"/>
<circle cx="939.3" cy="1049.6" r="4.45" fill="#169AB8"/>
<circle cx="938.5" cy="1052.8" r="4.45" fill="#169AB8"/>
<circle cx="951.2" cy="1008.0" r="4.45" fill="#169AB8"/>
<circle cx="952.1" cy="1011.2" r="4.45" fill="#169AB8"/>
<circle cx="951.7" cy="1014.4" r="4.45" fill="#169AB8"/>
<circle cx="952.4" cy="1017.6" r="4.45" fill="#169AB8"/>
<circle cx="950.9" cy="1020.8" r="4.45" fill="#169AB8"/>
<circle cx="951.1" cy="1024.0" r="4.45" fill="#169AB8"/>
<circle cx="951.8" cy="1027.2" r="4.45" fill="#169AB8"/>
<circle cx="951.4" cy="1030.4" r="4.45" fill="#169AB8"/>
<circle cx="952.0" cy="1033.6" r="4.45" fill="#169AB8"/>
<circle cx="951.4" cy="1036.8" r="4.45" fill="#169AB8"/>
<circle cx="952.1" cy="1040.0" r="4.45" fill="#169AB8"/>
<circle cx="951.3" cy="1043.2" r="4.45" fill="#169AB8"/>
<circle cx="952.4" cy="1046.4" r="4.45" fill="#169AB8"/>
<circle cx="951.8" cy="1049.6" r="4.45" fill="#169AB8"/>
<circle cx="950.7" cy="1052.8" r="4.45" fill="#169AB8"/>
<circle cx="964.6" cy="1008.0" r="4.45" fill="#169AB8"/>
<circle cx="964.9" cy="1011.2" r="4.45" fill="#169AB8"/>
<circle cx="964.0" cy="1014.4" r="4.45" fill="#169AB8"/>
<circle cx="963.2" cy="1017.6" r="4.45" fill="#169AB8"/>
<circle cx="964.7" cy="1020.8" r="4.45" fill="#169AB8"/>
<circle cx="964.7" cy="1024.0" r="4.45" fill="#169AB8"/>
<circle cx="964.0" cy="1027.2" r="4.45" fill="#169AB8"/>
<circle cx="963.9" cy="1030.4" r="4.45" fill="#169AB8"/>
<circle cx="964.8" cy="1033.6" r="4.45" fill="#169AB8"/>
<circle cx="964.0" cy="1036.8" r="4.45" fill="#169AB8"/>
<circle cx="964.8" cy="1040.0" r="4.45" fill="#169AB8"/>
<circle cx="963.7" cy="1043.2" r="4.45" fill="#169AB8"/>
<circle cx="964.3" cy="1046.4" r="4.45" fill="#169AB8"/>
<circle cx="964.7" cy="1049.6" r="4.45" fill="#169AB8"/>
<circle cx="963.4" cy="1052.8" r="4.45" fill="#169AB8"/>
<circle cx="977.3" cy="1008.0" r="4.45" fill="#169AB8"/>
<circle cx="976.4" cy="1011.2" r="4.45" fill="#169AB8"/>
<circle cx="976.0" cy="1014.4" r="4.45" fill="#169AB8"/>
<circle cx="976.3" cy="1017.6" r="4.45" fill="#169AB8"/>
<circle cx="977.5" cy="1020.8" r="4.45" fill="#169AB8"/>
<circle cx="976.8" cy="1024.0" r="4.45" fill="#169AB8"/>
<circle cx="976.9" cy="1027.2" r="4.45" fill="#169AB8"/>
<circle cx="977.3" cy="1030.4" r="4.45" fill="#169AB8"/>
<circle cx="976.6" cy="1033.6" r="4.45" fill="#169AB8"/>
<circle cx="976.7" cy="1036.8" r="4.45" fill="#169AB8"/>
<circle cx="976.6" cy="1040.0" r="4.45" fill="#169AB8"/>
<circle cx="977.5" cy="1043.2" r="4.45" fill="#169AB8"/>
<circle cx="977.5" cy="1046.4" r="4.45" fill="#169AB8"/>
<circle cx="976.9" cy="1049.6" r="4.45" fill="#169AB8"/>
<circle cx="977.3" cy="1052.8" r="4.45" fill="#169AB8"/>
<circle cx="989.6" cy="1008.0" r="4.45" fill="#169AB8"/>
<circle cx="989.0" cy="1011.2" r="4.45" fill="#169AB8"/>
<circle cx="990.2" cy="1014.4" r="4.45" fill="#169AB8"/>
<circle cx="988.7" cy="1017.6" r="4.45" fill="#169AB8"/>
<circle cx="989.5" cy="1020.8" r="4.45" fill="#169AB8"/>
<circle cx="989.8" cy="1024.0" r="4.45" fill="#169AB8"/>
<circle cx="990.0" cy="1027.2" r="4.45" fill="#169AB8"/>
<circle cx="989.7" cy="1030.4" r="4.45" fill="#169AB8"/>
<circle cx="989.9" cy="1033.6" r="4.45" fill="#169AB8"/>
<circle cx="989.8" cy="1036.8" r="4.45" fill="#169AB8"/>
<circle cx="990.0" cy="1040.0" r="4.45" fill="#169AB8"/>
<circle cx="989.6" cy="1043.2" r="4.45" fill="#169AB8"/>
<circle cx="988.8" cy="1046.4" r="4.45" fill="#169AB8"/>
<circle cx="989.6" cy="1049.6" r="4.45" fill="#169AB8"/>
<circle cx="989.2" cy="1052.8" r="4.45" fill="#169AB8"/>
<circle cx="1002.1" cy="1008.0" r="4.45" fill="#169AB8"/>
<circle cx="1002.1" cy="1011.2" r="4.45" fill="#169AB8"/>
<circle cx="1002.6" cy="1014.4" r="4.45" fill="#169AB8"/>
<circle cx="1002.4" cy="1017.6" r="4.45" fill="#169AB8"/>
<circle cx="1002.2" cy="1020.8" r="4.45" fill="#169AB8"/>
<circle cx="1002.3" cy="1024.0" r="4.45" fill="#169AB8"/>
<circle cx="1002.2" cy="1027.2" r="4.45" fill="#169AB8"/>
<circle cx="1002.3" cy="1030.4" r="4.45" fill="#169AB8"/>
<circle cx="1002.6" cy="1033.6" r="4.45" fill="#169AB8"/>
<circle cx="1002.1" cy="1036.8" r="4.45" fill="#169AB8"/>
<circle cx="1001.8" cy="1040.0" r="4.45" fill="#169AB8"/>
<circle cx="1002.3" cy="1043.2" r="4.45" fill="#169AB8"/>
<circle cx="1001.3" cy="1046.4" r="4.45" fill="#169AB8"/>
<circle cx="1001.7" cy="1049.6" r="4.45" fill="#169AB8"/>
<circle cx="1002.0" cy="1052.8" r="4.45" fill="#169AB8"/>
<circle cx="1014.6" cy="1008.0" r="4.45" fill="#169AB8"/>
<circle cx="1014.5" cy="1011.2" r="4.45" fill="#169AB8"/>
<circle cx="1015.1" cy="1014.4" r="4.45" fill="#169AB8"/>
<circle cx="1014.5" cy="1017.6" r="4.45" fill="#169AB8"/>
<circle cx="1015.1" cy="1020.8" r="4.45" fill="#169AB8"/>
<circle cx="1014.4" cy="1024.0" r="4.45" fill="#169AB8"/>
<circle cx="1014.1" cy="1027.2" r="4.45" fill="#169AB8"/>
<circle cx="1013.9" cy="1030.4" r="4.45" fill="#169AB8"/>
<circle cx="1014.8" cy="1033.6" r="4.45" fill="#169AB8"/>
<circle cx="1014.4" cy="1036.8" r="4.45" fill="#169AB8"/>
<circle cx="1015.4" cy="1040.0" r="4.45" fill="#169AB8"/>
<circle cx="1014.2" cy="1043.2" r="4.45" fill="#169AB8"/>
<circle cx="1015.1" cy="1046.4" r="4.45" fill="#169AB8"/>
<circle cx="1014.0" cy="1049.6" r="4.45" fill="#169AB8"/>
<circle cx="1014.9" cy="1052.8" r="4.45" fill="#169AB8"/>
<circle cx="945.7" cy="1008.5" r="4.2" fill="#169AB8"/>
<circle cx="945.1" cy="1009.4" r="4.2" fill="#169AB8"/>
<circle cx="945.4" cy="1028.0" r="4.2" fill="#169AB8"/>
<circle cx="945.5" cy="1044.5" r="4.2" fill="#169AB8"/>
<circle cx="944.6" cy="1056.1" r="4.2" fill="#169AB8"/>
<circle cx="958.3" cy="1007.5" r="4.2" fill="#169AB8"/>
<circle cx="957.9" cy="1009.9" r="4.2" fill="#169AB8"/>
<circle cx="957.2" cy="1028.2" r="4.2" fill="#169AB8"/>
<circle cx="957.6" cy="1043.4" r="4.2" fill="#169AB8"/>
<circle cx="957.6" cy="1056.8" r="4.2" fill="#169AB8"/>
<circle cx="970.7" cy="1008.1" r="4.2" fill="#169AB8"/>
<circle cx="970.2" cy="1010.5" r="4.2" fill="#169AB8"/>
<circle cx="970.3" cy="1027.2" r="4.2" fill="#169AB8"/>
<circle cx="970.7" cy="1044.1" r="4.2" fill="#169AB8"/>
<circle cx="971.0" cy="1056.5" r="4.2" fill="#169AB8"/>
<circle cx="982.7" cy="1007.9" r="4.2" fill="#169AB8"/>
<circle cx="982.5" cy="1009.5" r="4.2" fill="#169AB8"/>
<circle cx="983.5" cy="1027.8" r="4.2" fill="#169AB8"/>
<circle cx="982.6" cy="1043.9" r="4.2" fill="#169AB8"/>
<circle cx="982.6" cy="1055.6" r="4.2" fill="#169AB8"/>
<circle cx="995.9" cy="1008.5" r="4.2" fill="#169AB8"/>
<circle cx="995.7" cy="1010.0" r="4.2" fill="#169AB8"/>
<circle cx="996.0" cy="1028.1" r="4.2" fill="#169AB8"/>
<circle cx="995.2" cy="1044.3" r="4.2" fill="#169AB8"/>
<circle cx="995.7" cy="1055.4" r="4.2" fill="#169AB8"/>
<circle cx="1008.8" cy="1008.1" r="4.2" fill="#169AB8"/>
<circle cx="1008.5" cy="1010.4" r="4.2" fill="#169AB8"/>
<circle cx="1007.7" cy="1027.8" r="4.2" fill="#169AB8"/>
<circle cx="1008.6" cy="1044.2" r="4.2" fill="#169AB8"/>
<circle cx="1008.5" cy="1056.2" r="4.2" fill="#169AB8"/>
<circle cx="934.0" cy="1020.0" r="4.2" fill="#169AB8"/>
<circle cx="934.0" cy="1040.0" r="4.2" fill="#169AB8"/>
<circle cx="1019.5" cy="1025.0" r="4.2" fill="#169AB8"/>
<circle cx="1019.5" cy="1045.0" r="4.2" fill="#169AB8"/>
<circle cx="964.0" cy="1003.0" r="4.2" fill="#169AB8"/>
<circle cx="977.0" cy="1003.0" r="4.2" fill="#169AB8"/>
<circle cx="989.0" cy="1003.0" r="4.2" fill="#169AB8"/>
<circle cx="970.0" cy="1004.0" r="4.2" fill="#169AB8"/>
<circle cx="983.0" cy="1004.0" r="4.2" fill="#169AB8"/>
<circle cx="964.4" cy="1060.7" r="4.2" fill="#169AB8"/>
<circle cx="976.9" cy="1060.7" r="4.2" fill="#169AB8"/>
<circle cx="989.3" cy="1060.7" r="4.2" fill="#169AB8"/>
<circle cx="1001.8" cy="1060.0" r="4.2" fill="#169AB8"/>
<circle cx="1069.2" cy="1005.6" r="4.2" fill="#FCBD7C"/>
<circle cx="1031.9" cy="1024.7" r="4.2" fill="#FCBD7C"/>
<circle cx="1044.3" cy="1028.2" r="4.2" fill="#FCBD7C"/>
<circle cx="1094.1" cy="1026.9" r="4.2" fill="#FCBD7C"/>
<circle cx="1056.8" cy="1034.0" r="4.2" fill="#FCBD7C"/>
<circle cx="1069.2" cy="1035.3" r="4.2" fill="#FCBD7C"/>
<circle cx="1081.7" cy="1031.8" r="4.2" fill="#FCBD7C"/>
<circle cx="1094.1" cy="1038.4" r="4.2" fill="#FCBD7C"/>
<circle cx="1056.8" cy="1041.1" r="4.2" fill="#FCBD7C"/>
<circle cx="1081.7" cy="1046.0" r="4.2" fill="#FCBD7C"/>
<circle cx="1069.2" cy="1046.9" r="4.2" fill="#FCBD7C"/>
<circle cx="1038.1" cy="1053.1" r="4.2" fill="#FCBD7C"/>
<circle cx="1100.3" cy="1051.8" r="4.2" fill="#FCBD7C"/>
<circle cx="1030.5" cy="1056.7" r="4.2" fill="#FCBD7C"/>
<circle cx="1036.3" cy="1055.7" r="4.2" fill="#FCBD7C"/>
<circle cx="1045.4" cy="1057.2" r="4.2" fill="#FCBD7C"/>
<circle cx="1050.8" cy="1056.4" r="4.2" fill="#FCBD7C"/>
<circle cx="1057.9" cy="1055.0" r="4.2" fill="#FCBD7C"/>
<circle cx="1065.3" cy="1056.3" r="4.2" fill="#FCBD7C"/>
<circle cx="1072.9" cy="1056.4" r="4.2" fill="#FCBD7C"/>
<circle cx="1080.6" cy="1056.8" r="4.2" fill="#FCBD7C"/>
<circle cx="1088.4" cy="1055.2" r="4.2" fill="#FCBD7C"/>
<circle cx="1096.0" cy="1056.2" r="4.2" fill="#FCBD7C"/>
<circle cx="1102.1" cy="1056.1" r="4.2" fill="#FCBD7C"/>
<circle cx="1033.3" cy="1060.4" r="4.2" fill="#FCBD7C"/>
<circle cx="1040.4" cy="1061.1" r="4.2" fill="#FCBD7C"/>
<circle cx="1047.8" cy="1060.6" r="4.2" fill="#FCBD7C"/>
<circle cx="1054.6" cy="1060.6" r="4.2" fill="#FCBD7C"/>
<circle cx="1061.9" cy="1059.9" r="4.2" fill="#FCBD7C"/>
<circle cx="1070.8" cy="1060.5" r="4.2" fill="#FCBD7C"/>
<circle cx="1076.3" cy="1060.9" r="4.2" fill="#FCBD7C"/>
<circle cx="1084.7" cy="1059.2" r="4.2" fill="#FCBD7C"/>
<circle cx="1090.0" cy="1059.9" r="4.2" fill="#FCBD7C"/>
<circle cx="1098.7" cy="1060.9" r="4.2" fill="#FCBD7C"/>
<circle cx="1106.1" cy="1059.7" r="4.2" fill="#FCBD7C"/>
<circle cx="1031.2" cy="1064.3" r="4.2" fill="#FCBD7C"/>
<circle cx="1037.3" cy="1064.2" r="4.2" fill="#FCBD7C"/>
<circle cx="1045.4" cy="1063.9" r="4.2" fill="#FCBD7C"/>
<circle cx="1051.7" cy="1063.8" r="4.2" fill="#FCBD7C"/>
<circle cx="1059.5" cy="1064.7" r="4.2" fill="#FCBD7C"/>
<circle cx="1064.9" cy="1065.7" r="4.2" fill="#FCBD7C"/>
<circle cx="1073.0" cy="1065.6" r="4.2" fill="#FCBD7C"/>
<circle cx="1079.4" cy="1065.5" r="4.2" fill="#FCBD7C"/>
<circle cx="1087.2" cy="1065.7" r="4.2" fill="#FCBD7C"/>
<circle cx="1094.4" cy="1065.1" r="4.2" fill="#FCBD7C"/>
<circle cx="1102.6" cy="1063.7" r="4.2" fill="#FCBD7C"/>
<circle cx="1034.0" cy="1069.9" r="4.2" fill="#FCBD7C"/>
<circle cx="1041.9" cy="1069.5" r="4.2" fill="#FCBD7C"/>
<circle cx="1048.9" cy="1068.0" r="4.2" fill="#FCBD7C"/>
<circle cx="1054.0" cy="1069.7" r="4.2" fill="#FCBD7C"/>
<circle cx="1063.0" cy="1068.8" r="4.2" fill="#FCBD7C"/>
<circle cx="1069.4" cy="1067.8" r="4.2" fill="#FCBD7C"/>
<circle cx="1077.2" cy="1068.1" r="4.2" fill="#FCBD7C"/>
<circle cx="1084.4" cy="1068.3" r="4.2" fill="#FCBD7C"/>
<circle cx="1090.3" cy="1069.9" r="4.2" fill="#FCBD7C"/>
<circle cx="1097.6" cy="1069.3" r="4.2" fill="#FCBD7C"/>
<circle cx="1104.6" cy="1068.4" r="4.2" fill="#FCBD7C"/>
<circle cx="1027.0" cy="1063.0" r="4.2" fill="#FCBD7C"/>
<circle cx="1111.0" cy="1064.0" r="4.2" fill="#FCBD7C"/>
<circle cx="1069.2" cy="1072.0" r="4.2" fill="#FCBD7C"/>
<circle cx="1162.2" cy="1058.8" r="4.2" fill="#000"/>
<circle cx="1127.6" cy="1063.0" r="4.2" fill="#000"/>
<circle cx="1142.4" cy="1064.0" r="4.2" fill="#000"/>
<circle cx="1190.0" cy="1063.0" r="4.2" fill="#000"/>
<circle cx="1202.0" cy="1064.0" r="4.2" fill="#000"/>
<circle cx="1121.0" cy="1064.4" r="4.2" fill="#000"/>
<circle cx="1124.1" cy="1070.7" r="4.2" fill="#000"/>
<circle cx="1127.2" cy="1065.7" r="4.2" fill="#000"/>
<circle cx="1130.3" cy="1069.5" r="4.2" fill="#000"/>
<circle cx="1133.4" cy="1065.6" r="4.2" fill="#000"/>
<circle cx="1136.5" cy="1070.2" r="4.2" fill="#000"/>
<circle cx="1139.6" cy="1064.7" r="4.2" fill="#000"/>
<circle cx="1142.7" cy="1069.7" r="4.2" fill="#000"/>
<circle cx="1145.8" cy="1063.7" r="4.2" fill="#000"/>
<circle cx="1148.9" cy="1068.2" r="4.2" fill="#000"/>
<circle cx="1152.0" cy="1065.4" r="4.2" fill="#000"/>
<circle cx="1155.1" cy="1068.3" r="4.2" fill="#000"/>
<circle cx="1158.2" cy="1066.0" r="4.2" fill="#000"/>
<circle cx="1161.3" cy="1070.2" r="4.2" fill="#000"/>
<circle cx="1164.4" cy="1065.3" r="4.2" fill="#000"/>
<circle cx="1167.5" cy="1069.2" r="4.2" fill="#000"/>
<circle cx="1170.6" cy="1065.1" r="4.2" fill="#000"/>
<circle cx="1173.7" cy="1068.7" r="4.2" fill="#000"/>
<circle cx="1176.8" cy="1063.5" r="4.2" fill="#000"/>
<circle cx="1179.9" cy="1069.9" r="4.2" fill="#000"/>
<circle cx="1183.0" cy="1065.7" r="4.2" fill="#000"/>
<circle cx="1186.1" cy="1070.6" r="4.2" fill="#000"/>
<circle cx="1189.2" cy="1063.7" r="4.2" fill="#000"/>
<circle cx="1192.3" cy="1068.3" r="4.2" fill="#000"/>
<circle cx="1195.4" cy="1063.6" r="4.2" fill="#000"/>
<circle cx="1198.5" cy="1068.5" r="4.2" fill="#000"/>
<line x1="929.3" y1="1029.6" x2="1024.4" y2="1029.6" stroke="#000" stroke-width="3" stroke-linecap="butt"/>
<line x1="1022.6" y1="1056.2" x2="1116.3" y2="1056.2" stroke="#000" stroke-width="3" stroke-linecap="butt"/>
<line x1="1114.7" y1="1066.7" x2="1208.9" y2="1066.7" stroke="#000" stroke-width="3" stroke-linecap="butt"/>
<line x1="908.2" y1="797.9" x2="908.2" y2="1079.5" stroke="#000" stroke-width="4" stroke-linecap="butt"/>
<line x1="898.2" y1="1077.5" x2="1324.5" y2="1077.5" stroke="#000" stroke-width="4" stroke-linecap="butt"/>
<line x1="898.2" y1="1077.5" x2="908.2" y2="1077.5" stroke="#000" stroke-width="4" stroke-linecap="butt"/>
<line x1="901.4" y1="1049.72" x2="908.2" y2="1049.72" stroke="#000" stroke-width="4" stroke-linecap="butt"/>
<line x1="898.2" y1="1021.94" x2="908.2" y2="1021.94" stroke="#000" stroke-width="4" stroke-linecap="butt"/>
<line x1="901.4" y1="994.16" x2="908.2" y2="994.16" stroke="#000" stroke-width="4" stroke-linecap="butt"/>
<line x1="898.2" y1="966.38" x2="908.2" y2="966.38" stroke="#000" stroke-width="4" stroke-linecap="butt"/>
<line x1="901.4" y1="938.6" x2="908.2" y2="938.6" stroke="#000" stroke-width="4" stroke-linecap="butt"/>
<line x1="898.2" y1="910.82" x2="908.2" y2="910.82" stroke="#000" stroke-width="4" stroke-linecap="butt"/>
<line x1="901.4" y1="883.04" x2="908.2" y2="883.04" stroke="#000" stroke-width="4" stroke-linecap="butt"/>
<line x1="898.2" y1="855.26" x2="908.2" y2="855.26" stroke="#000" stroke-width="4" stroke-linecap="butt"/>
<line x1="901.4" y1="827.48" x2="908.2" y2="827.48" stroke="#000" stroke-width="4" stroke-linecap="butt"/>
<line x1="898.2" y1="799.7" x2="908.2" y2="799.7" stroke="#000" stroke-width="4" stroke-linecap="butt"/>
<line x1="976.7" y1="1077.5" x2="976.7" y2="1087.5" stroke="#000" stroke-width="4" stroke-linecap="butt"/>
<line x1="1069.3" y1="1077.5" x2="1069.3" y2="1087.5" stroke="#000" stroke-width="4" stroke-linecap="butt"/>
<line x1="1161.8" y1="1077.5" x2="1161.8" y2="1087.5" stroke="#000" stroke-width="4" stroke-linecap="butt"/>
<line x1="1254.5" y1="1077.5" x2="1254.5" y2="1087.5" stroke="#000" stroke-width="4" stroke-linecap="butt"/>
<text x="864.08" y="1085.4" font-size="23.5" textLength="32.48" lengthAdjust="spacingAndGlyphs">0.0</text>
<text x="864.09" y="1029.84" font-size="23.5" textLength="32.16" lengthAdjust="spacingAndGlyphs">0.1</text>
<text x="864.08" y="974.28" font-size="23.5" textLength="32.46" lengthAdjust="spacingAndGlyphs">0.2</text>
<text x="864.08" y="918.72" font-size="23.5" textLength="32.36" lengthAdjust="spacingAndGlyphs">0.3</text>
<text x="864.1" y="863.16" font-size="23.5" textLength="31.62" lengthAdjust="spacingAndGlyphs">0.4</text>
<text x="864.09" y="807.6" font-size="23.5" textLength="32.16" lengthAdjust="spacingAndGlyphs">0.5</text>
<line x1="981.7" y1="855" x2="1142.8" y2="855" stroke="#000" stroke-width="4.2" stroke-linecap="round"/>
<line x1="981.7" y1="888.4" x2="1069" y2="888.4" stroke="#000" stroke-width="4.2" stroke-linecap="round"/>
<text x="1046.29" y="856.16" font-size="28" text-anchor="middle">*</text>
<text x="1058.59" y="856.16" font-size="28" text-anchor="middle">*</text>
<text x="1070.89" y="856.16" font-size="28" text-anchor="middle">*</text>
<text x="1008.09" y="888.16" font-size="28" text-anchor="middle">*</text>
<text x="1020.39" y="888.16" font-size="28" text-anchor="middle">*</text>
<text x="1032.69" y="888.16" font-size="28" text-anchor="middle">*</text>
<text x="941.44" y="924.4" font-size="23.5" textLength="79.38" lengthAdjust="spacingAndGlyphs">204/224</text>
<text x="1044.07" y="984.8" font-size="23.5" textLength="67.23" lengthAdjust="spacingAndGlyphs">48/130</text>
<text x="1132.12" y="1035.1" font-size="23.5" textLength="68.8" lengthAdjust="spacingAndGlyphs">21/140</text>
<text x="1230.11" y="1061.2" font-size="23.5" textLength="56.42" lengthAdjust="spacingAndGlyphs">0/110</text>
<text x="1046.5" y="811.8" font-size="23.5" textLength="16.21" lengthAdjust="spacingAndGlyphs">H</text>
<text x="1062.67" y="817.6" font-size="17" textLength="10.17" lengthAdjust="spacingAndGlyphs">2</text>
<text x="1072.15" y="811.8" font-size="23.5" textLength="18.02" lengthAdjust="spacingAndGlyphs">O</text>
<text x="1090.17" y="817.6" font-size="17" textLength="10.17" lengthAdjust="spacingAndGlyphs">2</text>
<text x="1108.26" y="811.8" font-size="23.5" textLength="23.3" lengthAdjust="spacingAndGlyphs">50</text>
<text x="1138.15" y="811.8" font-size="23.5" stroke="#000" stroke-width="0.35" font-weight="normal" font-family="Liberation Serif" textLength="15.54" lengthAdjust="spacingAndGlyphs">&#956;</text>
<text x="1152.92" y="811.8" font-size="23.5" textLength="20.97" lengthAdjust="spacingAndGlyphs">M</text>
<text transform="translate(850.1 1110) rotate(-90)" font-size="24" textLength="344.8" lengthAdjust="spacingAndGlyphs">Mitochonderial Ca<tspan dx="5" font-size="18.5" dy="-10">2+</tspan><tspan dx="4" dy="10">uptake rate</tspan></text>
<text x="0" y="0" font-size="24.5" textLength="39.57" lengthAdjust="spacingAndGlyphs" transform="translate(956.57 1136.83) rotate(-45)">Ctrl</text>
<text x="0" y="0" font-size="24.5" textLength="93.94" lengthAdjust="spacingAndGlyphs" transform="translate(1010.02 1175.98) rotate(-45)">siTRPA1</text>
<text x="0" y="0" font-size="24.5" textLength="114.11" lengthAdjust="spacingAndGlyphs" transform="translate(1088.35 1190.85) rotate(-45)">HC-030031</text>
<text x="0" y="0" font-size="24.5" textLength="67.94" lengthAdjust="spacingAndGlyphs" transform="translate(1213.61 1156.39) rotate(-45)">Ru360</text>
<circle cx="978.5" cy="1542.9" r="4.2" fill="#D5066F"/>
<circle cx="978.5" cy="1564.6" r="4.2" fill="#D5066F"/>
<circle cx="991.4" cy="1561.8" r="4.2" fill="#D5066F"/>
<circle cx="965.6" cy="1593.6" r="4.2" fill="#D5066F"/>
<circle cx="978.5" cy="1600.5" r="4.2" fill="#D5066F"/>
<circle cx="965.6" cy="1625.4" r="4.2" fill="#D5066F"/>
<circle cx="991.4" cy="1625.9" r="4.2" fill="#D5066F"/>
<circle cx="978.5" cy="1630.5" r="4.2" fill="#D5066F"/>
<circle cx="946.2" cy="1634.1" r="4.2" fill="#D5066F"/>
<circle cx="959.1" cy="1636.5" r="4.2" fill="#D5066F"/>
<circle cx="1010.7" cy="1633.2" r="4.2" fill="#D5066F"/>
<circle cx="997.8" cy="1636.0" r="4.2" fill="#D5066F"/>
<circle cx="939.7" cy="1642.9" r="4.2" fill="#D5066F"/>
<circle cx="1017.6" cy="1642.4" r="4.2" fill="#D5066F"/>
<circle cx="952.6" cy="1643.8" r="4.2" fill="#D5066F"/>
<circle cx="984.9" cy="1639.2" r="4.2" fill="#D5066F"/>
<circle cx="1004.3" cy="1642.9" r="4.2" fill="#D5066F"/>
<circle cx="958.0" cy="1645.0" r="4.2" fill="#D5066F"/>
<circle cx="965.0" cy="1644.0" r="4.2" fill="#D5066F"/>
<circle cx="971.0" cy="1645.0" r="4.2" fill="#D5066F"/>
<circle cx="977.0" cy="1643.0" r="4.2" fill="#D5066F"/>
<circle cx="984.0" cy="1645.0" r="4.2" fill="#D5066F"/>
<circle cx="990.0" cy="1644.0" r="4.2" fill="#D5066F"/>
<circle cx="997.0" cy="1645.0" r="4.2" fill="#D5066F"/>
<circle cx="1003.0" cy="1643.0" r="4.2" fill="#D5066F"/>
<circle cx="1004.0" cy="1648.0" r="4.2" fill="#D5066F"/>
<circle cx="961.0" cy="1649.0" r="4.2" fill="#D5066F"/>
<circle cx="968.0" cy="1649.0" r="4.2" fill="#D5066F"/>
<circle cx="974.0" cy="1648.0" r="4.2" fill="#D5066F"/>
<circle cx="981.0" cy="1649.0" r="4.2" fill="#D5066F"/>
<circle cx="987.0" cy="1648.0" r="4.2" fill="#D5066F"/>
<circle cx="994.0" cy="1649.0" r="4.2" fill="#D5066F"/>
<circle cx="1000.0" cy="1649.0" r="4.2" fill="#D5066F"/>
<circle cx="973.9" cy="1633.9" r="4.2" fill="#D5066F"/>
<circle cx="970.6" cy="1638.7" r="4.2" fill="#D5066F"/>
<circle cx="967.4" cy="1642.8" r="4.2" fill="#D5066F"/>
<circle cx="984.9" cy="1639.2" r="4.2" fill="#D5066F"/>
<circle cx="988.0" cy="1642.0" r="4.2" fill="#D5066F"/>
<circle cx="978.5" cy="1659.5" r="4.2" fill="#D5066F"/>
<circle cx="939.7" cy="1668.7" r="4.2" fill="#D5066F"/>
<circle cx="952.6" cy="1671.0" r="4.2" fill="#D5066F"/>
<circle cx="1004.3" cy="1668.7" r="4.2" fill="#D5066F"/>
<circle cx="1017.6" cy="1667.3" r="4.2" fill="#D5066F"/>
<circle cx="965.6" cy="1672.0" r="4.2" fill="#D5066F"/>
<circle cx="991.4" cy="1672.0" r="4.2" fill="#D5066F"/>
<circle cx="978.5" cy="1673.8" r="4.2" fill="#D5066F"/>
<circle cx="939.7" cy="1684.4" r="4.2" fill="#D5066F"/>
<circle cx="946.2" cy="1681.1" r="4.2" fill="#D5066F"/>
<circle cx="952.7" cy="1686.8" r="4.2" fill="#D5066F"/>
<circle cx="959.2" cy="1682.0" r="4.2" fill="#D5066F"/>
<circle cx="965.7" cy="1686.0" r="4.2" fill="#D5066F"/>
<circle cx="972.3" cy="1680.3" r="4.2" fill="#D5066F"/>
<circle cx="978.0" cy="1686.8" r="4.2" fill="#D5066F"/>
<circle cx="983.7" cy="1680.3" r="4.2" fill="#D5066F"/>
<circle cx="991.8" cy="1686.8" r="4.2" fill="#D5066F"/>
<circle cx="995.9" cy="1678.7" r="4.2" fill="#D5066F"/>
<circle cx="1004.9" cy="1686.8" r="4.2" fill="#D5066F"/>
<circle cx="1010.6" cy="1681.9" r="4.2" fill="#D5066F"/>
<circle cx="1017.9" cy="1684.4" r="4.2" fill="#D5066F"/>
<circle cx="965.6" cy="1677.0" r="4.2" fill="#D5066F"/>
<circle cx="960.0" cy="1676.0" r="4.2" fill="#D5066F"/>
<circle cx="970.0" cy="1676.0" r="4.2" fill="#D5066F"/>
<circle cx="976.0" cy="1677.0" r="4.2" fill="#D5066F"/>
<circle cx="985.0" cy="1677.0" r="4.2" fill="#D5066F"/>
<circle cx="989.0" cy="1676.0" r="4.2" fill="#D5066F"/>
<circle cx="998.0" cy="1683.0" r="4.2" fill="#D5066F"/>
<circle cx="962.0" cy="1674.0" r="4.2" fill="#D5066F"/>
<circle cx="994.0" cy="1674.0" r="4.2" fill="#D5066F"/>
<circle cx="1074.1" cy="1595.6" r="4.2" fill="#FBA0A0"/>
<circle cx="1074.1" cy="1618.2" r="4.2" fill="#FBA0A0"/>
<circle cx="1035.4" cy="1664.0" r="4.2" fill="#FBA0A0"/>
<circle cx="1067.4" cy="1662.7" r="4.2" fill="#FBA0A0"/>
<circle cx="1080.3" cy="1663.1" r="4.2" fill="#FBA0A0"/>
<circle cx="1112.8" cy="1663.1" r="4.2" fill="#FBA0A0"/>
<circle cx="1048.3" cy="1668.0" r="4.2" fill="#FBA0A0"/>
<circle cx="1061.2" cy="1669.3" r="4.2" fill="#FBA0A0"/>
<circle cx="1074.1" cy="1670.7" r="4.2" fill="#FBA0A0"/>
<circle cx="1087.0" cy="1668.9" r="4.2" fill="#FBA0A0"/>
<circle cx="1099.9" cy="1667.6" r="4.2" fill="#FBA0A0"/>
<circle cx="1041.7" cy="1673.8" r="4.2" fill="#FBA0A0"/>
<circle cx="1054.6" cy="1675.6" r="4.2" fill="#FBA0A0"/>
<circle cx="1093.2" cy="1675.6" r="4.2" fill="#FBA0A0"/>
<circle cx="1106.6" cy="1674.7" r="4.2" fill="#FBA0A0"/>
<circle cx="1032.0" cy="1680.0" r="4.45" fill="#FBA0A0"/>
<circle cx="1032.0" cy="1683.2" r="4.45" fill="#FBA0A0"/>
<circle cx="1032.1" cy="1686.4" r="4.45" fill="#FBA0A0"/>
<circle cx="1031.5" cy="1689.6" r="4.45" fill="#FBA0A0"/>
<circle cx="1031.6" cy="1692.8" r="4.45" fill="#FBA0A0"/>
<circle cx="1032.7" cy="1696.0" r="4.45" fill="#FBA0A0"/>
<circle cx="1031.6" cy="1699.2" r="4.45" fill="#FBA0A0"/>
<circle cx="1031.9" cy="1702.4" r="4.45" fill="#FBA0A0"/>
<circle cx="1031.7" cy="1705.6" r="4.45" fill="#FBA0A0"/>
<circle cx="1031.6" cy="1708.8" r="4.45" fill="#FBA0A0"/>
<circle cx="1032.5" cy="1712.0" r="4.45" fill="#FBA0A0"/>
<circle cx="1044.7" cy="1680.0" r="4.45" fill="#FBA0A0"/>
<circle cx="1044.6" cy="1683.2" r="4.45" fill="#FBA0A0"/>
<circle cx="1044.3" cy="1686.4" r="4.45" fill="#FBA0A0"/>
<circle cx="1044.7" cy="1689.6" r="4.45" fill="#FBA0A0"/>
<circle cx="1045.0" cy="1692.8" r="4.45" fill="#FBA0A0"/>
<circle cx="1044.9" cy="1696.0" r="4.45" fill="#FBA0A0"/>
<circle cx="1045.4" cy="1699.2" r="4.45" fill="#FBA0A0"/>
<circle cx="1045.2" cy="1702.4" r="4.45" fill="#FBA0A0"/>
<circle cx="1044.7" cy="1705.6" r="4.45" fill="#FBA0A0"/>
<circle cx="1044.6" cy="1708.8" r="4.45" fill="#FBA0A0"/>
<circle cx="1044.3" cy="1712.0" r="4.45" fill="#FBA0A0"/>
<circle cx="1057.8" cy="1680.0" r="4.45" fill="#FBA0A0"/>
<circle cx="1058.9" cy="1683.2" r="4.45" fill="#FBA0A0"/>
<circle cx="1058.5" cy="1686.4" r="4.45" fill="#FBA0A0"/>
<circle cx="1058.9" cy="1689.6" r="4.45" fill="#FBA0A0"/>
<circle cx="1058.6" cy="1692.8" r="4.45" fill="#FBA0A0"/>
<circle cx="1059.2" cy="1696.0" r="4.45" fill="#FBA0A0"/>
<circle cx="1059.1" cy="1699.2" r="4.45" fill="#FBA0A0"/>
<circle cx="1059.2" cy="1702.4" r="4.45" fill="#FBA0A0"/>
<circle cx="1059.1" cy="1705.6" r="4.45" fill="#FBA0A0"/>
<circle cx="1058.5" cy="1708.8" r="4.45" fill="#FBA0A0"/>
<circle cx="1058.8" cy="1712.0" r="4.45" fill="#FBA0A0"/>
<circle cx="1072.2" cy="1680.0" r="4.45" fill="#FBA0A0"/>
<circle cx="1071.4" cy="1683.2" r="4.45" fill="#FBA0A0"/>
<circle cx="1070.9" cy="1686.4" r="4.45" fill="#FBA0A0"/>
<circle cx="1070.9" cy="1689.6" r="4.45" fill="#FBA0A0"/>
<circle cx="1071.4" cy="1692.8" r="4.45" fill="#FBA0A0"/>
<circle cx="1071.2" cy="1696.0" r="4.45" fill="#FBA0A0"/>
<circle cx="1071.8" cy="1699.2" r="4.45" fill="#FBA0A0"/>
<circle cx="1072.2" cy="1702.4" r="4.45" fill="#FBA0A0"/>
<circle cx="1070.8" cy="1705.6" r="4.45" fill="#FBA0A0"/>
<circle cx="1072.0" cy="1708.8" r="4.45" fill="#FBA0A0"/>
<circle cx="1072.1" cy="1712.0" r="4.45" fill="#FBA0A0"/>
<circle cx="1085.3" cy="1680.0" r="4.45" fill="#FBA0A0"/>
<circle cx="1084.3" cy="1683.2" r="4.45" fill="#FBA0A0"/>
<circle cx="1084.5" cy="1686.4" r="4.45" fill="#FBA0A0"/>
<circle cx="1084.0" cy="1689.6" r="4.45" fill="#FBA0A0"/>
<circle cx="1085.1" cy="1692.8" r="4.45" fill="#FBA0A0"/>
<circle cx="1085.4" cy="1696.0" r="4.45" fill="#FBA0A0"/>
<circle cx="1085.6" cy="1699.2" r="4.45" fill="#FBA0A0"/>
<circle cx="1085.2" cy="1702.4" r="4.45" fill="#FBA0A0"/>
<circle cx="1085.4" cy="1705.6" r="4.45" fill="#FBA0A0"/>
<circle cx="1084.4" cy="1708.8" r="4.45" fill="#FBA0A0"/>
<circle cx="1084.1" cy="1712.0" r="4.45" fill="#FBA0A0"/>
<circle cx="1097.7" cy="1680.0" r="4.45" fill="#FBA0A0"/>
<circle cx="1097.9" cy="1683.2" r="4.45" fill="#FBA0A0"/>
<circle cx="1098.9" cy="1686.4" r="4.45" fill="#FBA0A0"/>
<circle cx="1098.2" cy="1689.6" r="4.45" fill="#FBA0A0"/>
<circle cx="1097.2" cy="1692.8" r="4.45" fill="#FBA0A0"/>
<circle cx="1098.8" cy="1696.0" r="4.45" fill="#FBA0A0"/>
<circle cx="1098.4" cy="1699.2" r="4.45" fill="#FBA0A0"/>
<circle cx="1097.6" cy="1702.4" r="4.45" fill="#FBA0A0"/>
<circle cx="1097.4" cy="1705.6" r="4.45" fill="#FBA0A0"/>
<circle cx="1098.8" cy="1708.8" r="4.45" fill="#FBA0A0"/>
<circle cx="1097.3" cy="1712.0" r="4.45" fill="#FBA0A0"/>
<circle cx="1111.2" cy="1680.0" r="4.45" fill="#FBA0A0"/>
<circle cx="1112.0" cy="1683.2" r="4.45" fill="#FBA0A0"/>
<circle cx="1111.1" cy="1686.4" r="4.45" fill="#FBA0A0"/>
<circle cx="1112.1" cy="1689.6" r="4.45" fill="#FBA0A0"/>
<circle cx="1111.4" cy="1692.8" r="4.45" fill="#FBA0A0"/>
<circle cx="1111.2" cy="1696.0" r="4.45" fill="#FBA0A0"/>
<circle cx="1110.5" cy="1699.2" r="4.45" fill="#FBA0A0"/>
<circle cx="1110.4" cy="1702.4" r="4.45" fill="#FBA0A0"/>
<circle cx="1111.6" cy="1705.6" r="4.45" fill="#FBA0A0"/>
<circle cx="1110.4" cy="1708.8" r="4.45" fill="#FBA0A0"/>
<circle cx="1111.0" cy="1712.0" r="4.45" fill="#FBA0A0"/>
<circle cx="1038.4" cy="1680.9" r="4.2" fill="#FBA0A0"/>
<circle cx="1038.1" cy="1690.3" r="4.2" fill="#FBA0A0"/>
<circle cx="1038.7" cy="1697.5" r="4.2" fill="#FBA0A0"/>
<circle cx="1038.0" cy="1716.2" r="4.2" fill="#FBA0A0"/>
<circle cx="1051.6" cy="1680.8" r="4.2" fill="#FBA0A0"/>
<circle cx="1052.1" cy="1690.0" r="4.2" fill="#FBA0A0"/>
<circle cx="1051.5" cy="1697.1" r="4.2" fill="#FBA0A0"/>
<circle cx="1051.9" cy="1716.1" r="4.2" fill="#FBA0A0"/>
<circle cx="1065.0" cy="1681.1" r="4.2" fill="#FBA0A0"/>
<circle cx="1065.2" cy="1689.6" r="4.2" fill="#FBA0A0"/>
<circle cx="1065.4" cy="1697.0" r="4.2" fill="#FBA0A0"/>
<circle cx="1065.2" cy="1715.2" r="4.2" fill="#FBA0A0"/>
<circle cx="1078.1" cy="1681.6" r="4.2" fill="#FBA0A0"/>
<circle cx="1078.2" cy="1689.3" r="4.2" fill="#FBA0A0"/>
<circle cx="1077.8" cy="1696.4" r="4.2" fill="#FBA0A0"/>
<circle cx="1077.8" cy="1715.9" r="4.2" fill="#FBA0A0"/>
<circle cx="1090.9" cy="1681.6" r="4.2" fill="#FBA0A0"/>
<circle cx="1091.0" cy="1689.3" r="4.2" fill="#FBA0A0"/>
<circle cx="1091.2" cy="1697.1" r="4.2" fill="#FBA0A0"/>
<circle cx="1091.5" cy="1715.2" r="4.2" fill="#FBA0A0"/>
<circle cx="1104.1" cy="1681.0" r="4.2" fill="#FBA0A0"/>
<circle cx="1104.1" cy="1689.9" r="4.2" fill="#FBA0A0"/>
<circle cx="1104.3" cy="1696.4" r="4.2" fill="#FBA0A0"/>
<circle cx="1105.1" cy="1715.6" r="4.2" fill="#FBA0A0"/>
<circle cx="1029.5" cy="1690.0" r="4.2" fill="#FBA0A0"/>
<circle cx="1029.5" cy="1705.0" r="4.2" fill="#FBA0A0"/>
<circle cx="1114.0" cy="1690.0" r="4.2" fill="#FBA0A0"/>
<circle cx="1114.0" cy="1705.0" r="4.2" fill="#FBA0A0"/>
<circle cx="1156.7" cy="1701.3" r="4.2" fill="#000"/>
<circle cx="1169.6" cy="1701.3" r="4.2" fill="#000"/>
<circle cx="1182.4" cy="1701.3" r="4.2" fill="#000"/>
<circle cx="1130.4" cy="1705.8" r="4.2" fill="#000"/>
<circle cx="1143.8" cy="1705.8" r="4.2" fill="#000"/>
<circle cx="1195.3" cy="1705.8" r="4.2" fill="#000"/>
<circle cx="1208.7" cy="1705.8" r="4.2" fill="#000"/>
<circle cx="1127.0" cy="1708.0" r="4.2" fill="#000"/>
<circle cx="1133.5" cy="1708.0" r="4.2" fill="#000"/>
<circle cx="1140.0" cy="1708.0" r="4.2" fill="#000"/>
<circle cx="1146.5" cy="1708.0" r="4.2" fill="#000"/>
<circle cx="1153.0" cy="1708.0" r="4.2" fill="#000"/>
<circle cx="1159.5" cy="1708.0" r="4.2" fill="#000"/>
<circle cx="1166.0" cy="1708.0" r="4.2" fill="#000"/>
<circle cx="1172.5" cy="1708.0" r="4.2" fill="#000"/>
<circle cx="1179.0" cy="1708.0" r="4.2" fill="#000"/>
<circle cx="1185.5" cy="1708.0" r="4.2" fill="#000"/>
<circle cx="1192.0" cy="1708.0" r="4.2" fill="#000"/>
<circle cx="1198.5" cy="1708.0" r="4.2" fill="#000"/>
<circle cx="1205.0" cy="1708.0" r="4.2" fill="#000"/>
<circle cx="1211.5" cy="1708.0" r="4.2" fill="#000"/>
<circle cx="1130.2" cy="1711.0" r="4.2" fill="#000"/>
<circle cx="1136.8" cy="1711.0" r="4.2" fill="#000"/>
<circle cx="1143.2" cy="1711.0" r="4.2" fill="#000"/>
<circle cx="1149.8" cy="1711.0" r="4.2" fill="#000"/>
<circle cx="1156.2" cy="1711.0" r="4.2" fill="#000"/>
<circle cx="1162.8" cy="1711.0" r="4.2" fill="#000"/>
<circle cx="1169.2" cy="1711.0" r="4.2" fill="#000"/>
<circle cx="1175.8" cy="1711.0" r="4.2" fill="#000"/>
<circle cx="1182.2" cy="1711.0" r="4.2" fill="#000"/>
<circle cx="1188.8" cy="1711.0" r="4.2" fill="#000"/>
<circle cx="1195.2" cy="1711.0" r="4.2" fill="#000"/>
<circle cx="1201.8" cy="1711.0" r="4.2" fill="#000"/>
<circle cx="1208.2" cy="1711.0" r="4.2" fill="#000"/>
<circle cx="1127.0" cy="1714.0" r="4.2" fill="#000"/>
<circle cx="1133.5" cy="1714.0" r="4.2" fill="#000"/>
<circle cx="1140.0" cy="1714.0" r="4.2" fill="#000"/>
<circle cx="1146.5" cy="1714.0" r="4.2" fill="#000"/>
<circle cx="1153.0" cy="1714.0" r="4.2" fill="#000"/>
<circle cx="1159.5" cy="1714.0" r="4.2" fill="#000"/>
<circle cx="1166.0" cy="1714.0" r="4.2" fill="#000"/>
<circle cx="1172.5" cy="1714.0" r="4.2" fill="#000"/>
<circle cx="1179.0" cy="1714.0" r="4.2" fill="#000"/>
<circle cx="1185.5" cy="1714.0" r="4.2" fill="#000"/>
<circle cx="1192.0" cy="1714.0" r="4.2" fill="#000"/>
<circle cx="1198.5" cy="1714.0" r="4.2" fill="#000"/>
<circle cx="1205.0" cy="1714.0" r="4.2" fill="#000"/>
<circle cx="1211.5" cy="1714.0" r="4.2" fill="#000"/>
<line x1="930.1" y1="1652.6" x2="1027.3" y2="1652.6" stroke="#000" stroke-width="3" stroke-linecap="butt"/>
<line x1="1025.7" y1="1694.2" x2="1123" y2="1694.2" stroke="#000" stroke-width="3" stroke-linecap="butt"/>
<line x1="1121.6" y1="1710.2" x2="1218.9" y2="1710.2" stroke="#000" stroke-width="3" stroke-linecap="butt"/>
<line x1="907.6" y1="1431.7" x2="907.6" y2="1722.5" stroke="#000" stroke-width="4" stroke-linecap="butt"/>
<line x1="897.6" y1="1720.5" x2="1337.6" y2="1720.5" stroke="#000" stroke-width="4" stroke-linecap="butt"/>
<line x1="897.6" y1="1720.5" x2="907.6" y2="1720.5" stroke="#000" stroke-width="4" stroke-linecap="butt"/>
<line x1="900.8" y1="1691.8" x2="907.6" y2="1691.8" stroke="#000" stroke-width="4" stroke-linecap="butt"/>
<line x1="897.6" y1="1663.1" x2="907.6" y2="1663.1" stroke="#000" stroke-width="4" stroke-linecap="butt"/>
<line x1="900.8" y1="1634.4" x2="907.6" y2="1634.4" stroke="#000" stroke-width="4" stroke-linecap="butt"/>
<line x1="897.6" y1="1605.7" x2="907.6" y2="1605.7" stroke="#000" stroke-width="4" stroke-linecap="butt"/>
<line x1="900.8" y1="1577" x2="907.6" y2="1577" stroke="#000" stroke-width="4" stroke-linecap="butt"/>
<line x1="897.6" y1="1548.3" x2="907.6" y2="1548.3" stroke="#000" stroke-width="4" stroke-linecap="butt"/>
<line x1="900.8" y1="1519.6" x2="907.6" y2="1519.6" stroke="#000" stroke-width="4" stroke-linecap="butt"/>
<line x1="897.6" y1="1490.9" x2="907.6" y2="1490.9" stroke="#000" stroke-width="4" stroke-linecap="butt"/>
<line x1="900.8" y1="1462.2" x2="907.6" y2="1462.2" stroke="#000" stroke-width="4" stroke-linecap="butt"/>
<line x1="897.6" y1="1433.5" x2="907.6" y2="1433.5" stroke="#000" stroke-width="4" stroke-linecap="butt"/>
<line x1="979" y1="1720.5" x2="979" y2="1730.5" stroke="#000" stroke-width="4" stroke-linecap="butt"/>
<line x1="1074" y1="1720.5" x2="1074" y2="1730.5" stroke="#000" stroke-width="4" stroke-linecap="butt"/>
<line x1="1169.5" y1="1720.5" x2="1169.5" y2="1730.5" stroke="#000" stroke-width="4" stroke-linecap="butt"/>
<line x1="1265" y1="1720.5" x2="1265" y2="1730.5" stroke="#000" stroke-width="4" stroke-linecap="butt"/>
<text x="863.28" y="1728.4" font-size="23.5" textLength="32.48" lengthAdjust="spacingAndGlyphs">0.0</text>
<text x="863.29" y="1671" font-size="23.5" textLength="32.16" lengthAdjust="spacingAndGlyphs">0.1</text>
<text x="863.28" y="1613.6" font-size="23.5" textLength="32.46" lengthAdjust="spacingAndGlyphs">0.2</text>
<text x="863.28" y="1556.2" font-size="23.5" textLength="32.36" lengthAdjust="spacingAndGlyphs">0.3</text>
<text x="863.3" y="1498.8" font-size="23.5" textLength="31.62" lengthAdjust="spacingAndGlyphs">0.4</text>
<text x="863.29" y="1441.4" font-size="23.5" textLength="32.16" lengthAdjust="spacingAndGlyphs">0.5</text>
<line x1="977.7" y1="1467" x2="1152.1" y2="1467" stroke="#000" stroke-width="4.2" stroke-linecap="round"/>
<line x1="980.3" y1="1507" x2="1073" y2="1507" stroke="#000" stroke-width="4.2" stroke-linecap="round"/>
<text x="1046.69" y="1469.06" font-size="28" text-anchor="middle">*</text>
<text x="1058.99" y="1469.06" font-size="28" text-anchor="middle">*</text>
<text x="1071.29" y="1469.06" font-size="28" text-anchor="middle">*</text>
<text x="1013.79" y="1509.06" font-size="28" text-anchor="middle">*</text>
<text x="1026.09" y="1509.06" font-size="28" text-anchor="middle">*</text>
<text x="1038.39" y="1509.06" font-size="28" text-anchor="middle">*</text>
<text x="953.48" y="1531.6" font-size="23.5" textLength="58.58" lengthAdjust="spacingAndGlyphs">50/50</text>
<text x="1037.2" y="1576.4" font-size="23.5" textLength="70.73" lengthAdjust="spacingAndGlyphs">92/132</text>
<text x="1146.19" y="1676.4" font-size="23.5" textLength="57.72" lengthAdjust="spacingAndGlyphs">51/77</text>
<text x="1245.09" y="1691" font-size="23.5" textLength="44.74" lengthAdjust="spacingAndGlyphs">0/63</text>
<text x="1031.34" y="1426.9" font-size="23.5" textLength="103.52" lengthAdjust="spacingAndGlyphs">4-HNE 30</text>
<text x="1142.07" y="1426.9" font-size="23.5" stroke="#000" stroke-width="0.35" font-weight="normal" font-family="Liberation Serif" textLength="16.06" lengthAdjust="spacingAndGlyphs">&#956;</text>
<text x="1156.51" y="1426.9" font-size="23.5" textLength="19.78" lengthAdjust="spacingAndGlyphs">M</text>
<text transform="translate(851.4 1776.3) rotate(-90)" font-size="24" textLength="359.2" lengthAdjust="spacingAndGlyphs">Mitochonderial Ca<tspan dx="5" font-size="18.5" dy="-10">2+</tspan><tspan dx="4" dy="10">uptake rate</tspan></text>
<text x="0" y="0" font-size="24.5" textLength="39.57" lengthAdjust="spacingAndGlyphs" transform="translate(959.17 1781.83) rotate(-45)">Ctrl</text>
<text x="0" y="0" font-size="24.5" textLength="95.97" lengthAdjust="spacingAndGlyphs" transform="translate(1013.1 1822.9) rotate(-45)">siTRPA1</text>
<text x="0" y="0" font-size="24.5" textLength="117.68" lengthAdjust="spacingAndGlyphs" transform="translate(1093.04 1838.16) rotate(-45)">HC-030031</text>
<text x="0" y="0" font-size="24.5" textLength="70.02" lengthAdjust="spacingAndGlyphs" transform="translate(1225.17 1803.33) rotate(-45)">Ru360</text>
</g>
</svg>
</body></html>
